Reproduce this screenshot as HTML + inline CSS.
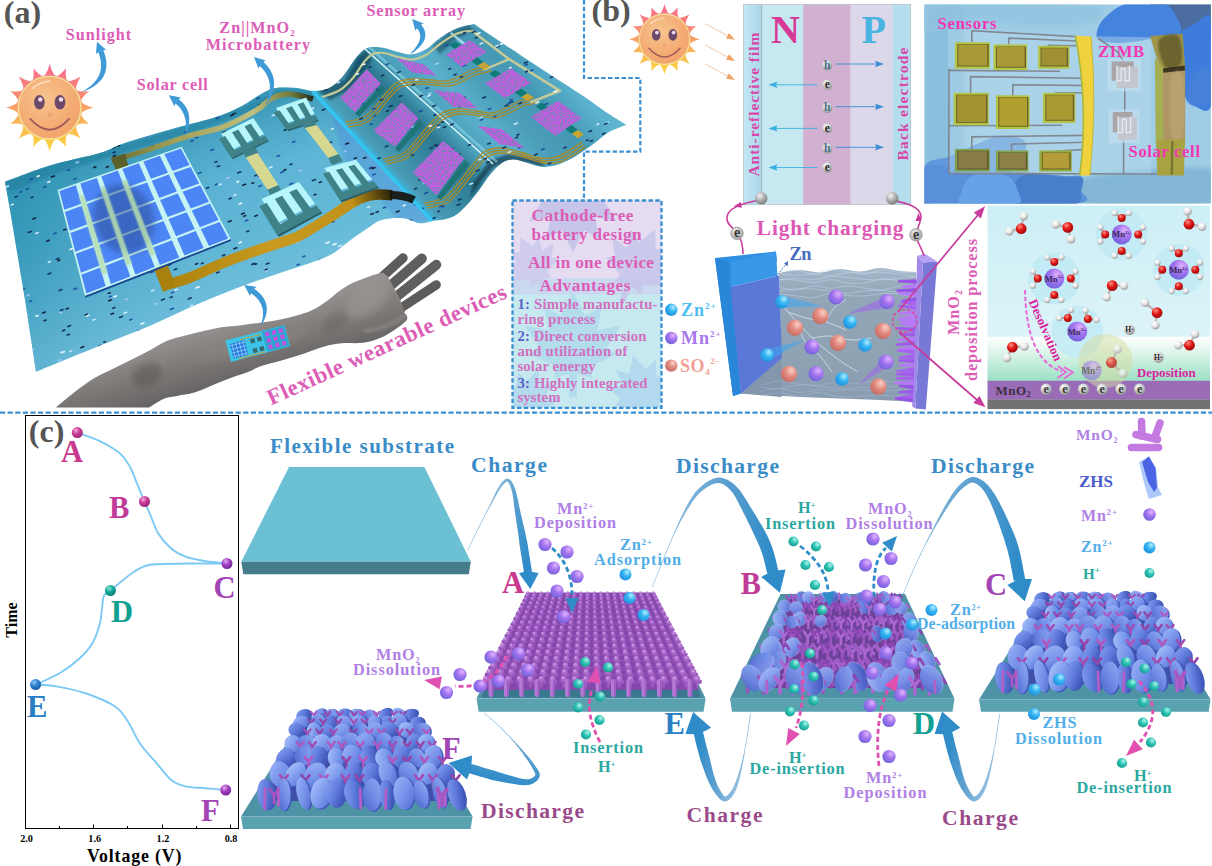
<!DOCTYPE html>
<html lang="en"><head><meta charset="utf-8"><title>Flexible wearable devices figure</title>
<style>
html,body{margin:0;padding:0;background:#fff;}
body{width:1212px;height:866px;overflow:hidden;}
svg{display:block;font-family:"Liberation Serif","DejaVu Serif",serif;font-weight:bold;}
</style></head><body>
<svg width="1212" height="866" viewBox="0 0 1212 866">
<defs>
<radialGradient id="gMn" cx="0.64" cy="0.3" r="0.78"><stop offset="0" stop-color="#e0b4ff"/><stop offset="0.45" stop-color="#a474ee"/><stop offset="1" stop-color="#6a62dc"/></radialGradient>
<radialGradient id="gZn" cx="0.64" cy="0.3" r="0.78"><stop offset="0" stop-color="#b0ecff"/><stop offset="0.45" stop-color="#34b4f2"/><stop offset="1" stop-color="#1c8cdc"/></radialGradient>
<radialGradient id="gH" cx="0.64" cy="0.3" r="0.78"><stop offset="0" stop-color="#b0f4ec"/><stop offset="0.45" stop-color="#30c4b4"/><stop offset="1" stop-color="#12968c"/></radialGradient>
<radialGradient id="gSO" cx="0.64" cy="0.3" r="0.78"><stop offset="0" stop-color="#fad0c8"/><stop offset="0.45" stop-color="#e48c80"/><stop offset="1" stop-color="#c06660"/></radialGradient>
<radialGradient id="gGrey" cx="0.38" cy="0.3" r="0.78"><stop offset="0" stop-color="#ffffff"/><stop offset="0.45" stop-color="#b8b8b8"/><stop offset="1" stop-color="#6a6a6a"/></radialGradient>
<radialGradient id="gMag" cx="0.38" cy="0.3" r="0.78"><stop offset="0" stop-color="#f8a8d8"/><stop offset="0.45" stop-color="#c83a98"/><stop offset="1" stop-color="#902070"/></radialGradient>
<radialGradient id="gPur" cx="0.38" cy="0.3" r="0.78"><stop offset="0" stop-color="#e0a8f0"/><stop offset="0.45" stop-color="#a040c0"/><stop offset="1" stop-color="#702090"/></radialGradient>
<radialGradient id="gTeal" cx="0.38" cy="0.3" r="0.78"><stop offset="0" stop-color="#90e8d8"/><stop offset="0.45" stop-color="#10a898"/><stop offset="1" stop-color="#087870"/></radialGradient>
<radialGradient id="gBlue" cx="0.38" cy="0.3" r="0.78"><stop offset="0" stop-color="#90c8f8"/><stop offset="0.45" stop-color="#2a80d0"/><stop offset="1" stop-color="#1858a0"/></radialGradient>
<radialGradient id="gRed" cx="0.38" cy="0.3" r="0.78"><stop offset="0" stop-color="#ff9080"/><stop offset="0.45" stop-color="#e01818"/><stop offset="1" stop-color="#900808"/></radialGradient>
<radialGradient id="gWhite" cx="0.38" cy="0.3" r="0.78"><stop offset="0" stop-color="#ffffff"/><stop offset="0.45" stop-color="#e8e8e8"/><stop offset="1" stop-color="#909090"/></radialGradient>
<radialGradient id="gGrey2" cx="0.38" cy="0.3" r="0.78"><stop offset="0" stop-color="#ffffff"/><stop offset="0.45" stop-color="#d0d0d0"/><stop offset="1" stop-color="#8a8a8a"/></radialGradient>
<radialGradient id="gGrey3" cx="0.38" cy="0.3" r="0.78"><stop offset="0" stop-color="#f4f4f4"/><stop offset="0.45" stop-color="#b4b4b4"/><stop offset="1" stop-color="#6e6e6e"/></radialGradient>
<radialGradient id="gGrey4" cx="0.38" cy="0.3" r="0.78"><stop offset="0" stop-color="#e8e8e8"/><stop offset="0.45" stop-color="#c4c4c4"/><stop offset="1" stop-color="#a0a0a0"/></radialGradient>
<linearGradient id="gD1" x1="0" y1="0" x2="1" y2="1"><stop offset="0" stop-color="#9cb6f6"/><stop offset="0.55" stop-color="#7692ea"/><stop offset="1" stop-color="#4e68cc"/></linearGradient>
<linearGradient id="gD2" x1="1" y1="0" x2="0" y2="1"><stop offset="0" stop-color="#92acf2"/><stop offset="0.55" stop-color="#6c88e4"/><stop offset="1" stop-color="#4a62c6"/></linearGradient>
<linearGradient id="gD3" x1="0" y1="0.3" x2="1" y2="0.7"><stop offset="0" stop-color="#a4bcf8"/><stop offset="0.55" stop-color="#7e9cee"/><stop offset="1" stop-color="#5c78d8"/></linearGradient>
<linearGradient id="gD4" x1="0" y1="0" x2="1" y2="0.4"><stop offset="0" stop-color="#869ff0"/><stop offset="0.55" stop-color="#627ede"/><stop offset="1" stop-color="#425abc"/></linearGradient>
<linearGradient id="gSheet" gradientUnits="userSpaceOnUse" x1="20" y1="200" x2="330" y2="240"><stop offset="0" stop-color="#3498b8"/><stop offset="0.25" stop-color="#4fa9cb"/><stop offset="0.6" stop-color="#66badb"/><stop offset="1" stop-color="#6cc0e0"/></linearGradient>
<linearGradient id="gSheetV" gradientUnits="userSpaceOnUse" x1="120" y1="130" x2="170" y2="330"><stop offset="0" stop-color="#2a8aa8" stop-opacity="0.75"/><stop offset="0.35" stop-color="#3a9ab8" stop-opacity="0.25"/><stop offset="1" stop-color="#7cc6e0" stop-opacity="0.5"/></linearGradient>
<linearGradient id="gWave" gradientUnits="userSpaceOnUse" x1="372" y1="156" x2="560" y2="-20"><stop offset="0" stop-color="#38b8e0"/><stop offset="0.03" stop-color="#4a9cb6"/><stop offset="0.12" stop-color="#3a8aa4"/><stop offset="0.22" stop-color="#2c7890"/><stop offset="0.30" stop-color="#4aa0ba"/><stop offset="0.40" stop-color="#5ab0cc"/><stop offset="0.52" stop-color="#4a9cb8"/><stop offset="0.62" stop-color="#4598b4"/><stop offset="0.75" stop-color="#5ab2ce"/><stop offset="0.9" stop-color="#66bcd6"/><stop offset="1" stop-color="#58aecc"/></linearGradient>
<linearGradient id="gGold" gradientUnits="userSpaceOnUse" x1="150" y1="280" x2="390" y2="195"><stop offset="0" stop-color="#a8800c"/><stop offset="0.5" stop-color="#c89a20"/><stop offset="0.85" stop-color="#c09018"/><stop offset="1" stop-color="#302808"/></linearGradient>
<linearGradient id="gOlive" gradientUnits="userSpaceOnUse" x1="112" y1="160" x2="315" y2="95"><stop offset="0" stop-color="#6a7030"/><stop offset="0.3" stop-color="#a0a058"/><stop offset="0.7" stop-color="#c0c080"/><stop offset="0.9" stop-color="#707838"/><stop offset="1" stop-color="#182018"/></linearGradient>
<linearGradient id="gArm" gradientUnits="userSpaceOnUse" x1="205" y1="328" x2="222" y2="390"><stop offset="0" stop-color="#959190"/><stop offset="0.45" stop-color="#7e7b79"/><stop offset="1" stop-color="#636160"/></linearGradient>
<pattern id="pSens" width="5" height="5" patternUnits="userSpaceOnUse"><rect width="5" height="5" fill="#c258e0"/><circle cx="1.2" cy="1.3" r="0.9" fill="#7a4aa8"/><circle cx="3.8" cy="3.6" r="0.8" fill="#8a50b8"/><circle cx="3.6" cy="0.9" r="0.6" fill="#e07af0"/><circle cx="1.1" cy="3.9" r="0.6" fill="#5a5a98"/></pattern>
<clipPath id="cpSheet"><path id="sheetL" d="M5.0,181.7C12.5,179.0 34.2,170.3 50.0,165.5C65.8,160.7 87.5,156.8 100.0,153.0C112.5,149.2 112.4,147.2 125.0,143.0C137.6,138.8 160.9,132.2 175.6,128.0C190.3,123.8 202.6,121.3 213.0,118.0C223.4,114.7 229.7,112.2 238.0,108.0C246.3,103.8 256.7,96.3 263.0,93.0C269.3,89.7 270.5,88.8 276.0,88.0C281.5,87.2 289.9,87.5 296.0,88.0C302.1,88.5 309.8,90.8 312.6,91.3 L431.8,220.9L431.8,220.9C429.8,221.3 424.8,223.7 420.0,223.3C415.2,222.9 409.7,218.9 403.3,218.3C396.9,217.8 388.1,218.1 381.7,220.0C375.3,221.9 370.6,226.4 365.0,230.0C359.4,233.6 354.1,237.5 348.3,241.7C342.5,245.9 337.4,251.1 330.0,255.0C322.6,258.9 317.2,260.4 304.0,265.0C290.8,269.6 268.2,276.5 251.0,282.8C233.8,289.1 217.3,295.7 200.6,302.8C183.8,309.9 167.3,318.3 150.5,325.4C133.7,332.5 119.1,337.8 100.0,345.5C80.9,353.2 46.7,367.3 36.0,371.7 L25,300 L10,210 Z"/></clipPath>
<clipPath id="cpSheetR"><path d="M312.6,91.3C315.2,90.8 323.1,90.8 328.0,88.5C332.9,86.2 337.3,82.4 342.0,77.3C346.7,72.2 351.8,62.6 356.0,57.7C360.2,52.8 362.6,49.5 367.3,47.9C372.0,46.3 378.9,47.2 384.0,47.9C389.1,48.6 393.3,50.9 398.0,52.0C402.7,53.1 407.3,54.8 412.0,54.3C416.7,53.8 421.3,52.0 426.0,49.3C430.7,46.6 434.8,41.5 440.0,38.0C445.2,34.5 451.3,30.5 457.0,28.2C462.7,25.9 471.2,24.7 474.0,24.0L474.0,24.0C482.4,29.6 506.6,46.0 524.4,57.7C542.1,69.4 566.5,84.9 580.5,94.2C594.5,103.5 600.9,108.7 608.6,113.8C616.3,118.9 623.5,123.1 626.5,125.0L626.5,125.0C623.6,126.1 614.5,128.9 609.3,131.8C604.1,134.7 600.0,139.2 595.4,142.6C590.8,146.0 586.2,149.3 581.6,152.3C577.0,155.3 572.3,158.3 567.7,160.6C563.1,162.8 558.5,164.8 553.9,165.8C549.3,166.8 544.6,167.2 540.0,166.6C535.4,166.0 530.5,163.7 526.0,162.5C521.5,161.3 517.2,159.4 513.2,159.5C509.2,159.6 505.8,160.5 502.0,162.9C498.2,165.3 494.4,169.7 490.7,174.1C486.9,178.5 483.2,184.6 479.5,189.5C475.8,194.4 472.0,199.5 468.3,203.6C464.6,207.7 460.8,211.6 457.1,214.2C453.4,216.8 450.1,217.9 445.9,219.0C441.7,220.1 434.1,220.6 431.8,220.9 Z"/></clipPath>
<filter id="fSens" x="0" y="0" width="1" height="1"><feTurbulence type="fractalNoise" baseFrequency="0.55" numOctaves="2" seed="3" result="n"/><feColorMatrix in="n" type="matrix" values="0 0 0 0 0.16  0 0 0 0 0.22  0 0 0 0 0.45  3.2 3.2 0 0 -2.9" result="d"/><feComposite in="d" in2="SourceGraphic" operator="atop"/></filter>
<filter id="blurA"><feGaussianBlur stdDeviation="3"/></filter><filter id="blurB"><feGaussianBlur stdDeviation="1.2"/></filter>
<linearGradient id="gFilm" x1="0" x2="1" y1="0" y2="0"><stop offset="0" stop-color="#c4e8f2"/><stop offset="1" stop-color="#a8d8ec"/></linearGradient>
<linearGradient id="gDepo" x1="0" x2="0" y1="0" y2="1"><stop offset="0" stop-color="#ffffff"/><stop offset="0.25" stop-color="#e8f8f0"/><stop offset="1" stop-color="#9adfc4"/></linearGradient>
<linearGradient id="gCyanTop" x1="0" x2="0" y1="0" y2="1"><stop offset="0" stop-color="#cdeff6"/><stop offset="1" stop-color="#dcf4f8"/></linearGradient>
<radialGradient id="gHalo" cx="0.5" cy="0.5" r="0.5"><stop offset="0" stop-color="#b8e8f6"/><stop offset="0.8" stop-color="#c2ecf8"/><stop offset="1" stop-color="#ccf0f8" stop-opacity="0.6"/></radialGradient>
<linearGradient id="gSlab" x1="0" x2="1" y1="0" y2="0"><stop offset="0" stop-color="#2f8ee0"/><stop offset="1" stop-color="#4aa0e8"/></linearGradient>
<linearGradient id="gElec" x1="0" x2="0" y1="0" y2="1"><stop offset="0" stop-color="#a4b6c8"/><stop offset="0.2" stop-color="#92a6b8"/><stop offset="0.7" stop-color="#8ea2b4"/><stop offset="1" stop-color="#8a9cb0"/></linearGradient>
<linearGradient id="gPhoto" x1="0" x2="1" y1="0" y2="1"><stop offset="0" stop-color="#8ec0de"/><stop offset="0.5" stop-color="#a2cee6"/><stop offset="1" stop-color="#7fb6d6"/></linearGradient>
<radialGradient id="gGlove1" cx="0.6" cy="0.3" r="0.8"><stop offset="0" stop-color="#6aa0e4"/><stop offset="1" stop-color="#4a84d4"/></radialGradient>
<radialGradient id="gGlove2" cx="0.3" cy="0.7" r="0.9"><stop offset="0" stop-color="#4a88e0"/><stop offset="0.6" stop-color="#3e74c8"/><stop offset="1" stop-color="#4a6490"/></radialGradient>
<clipPath id="cpPhoto"><rect x="924.4" y="4.4" width="286.5" height="199"/></clipPath>
<clipPath id="cpDepo"><rect x="987.5" y="205.5" width="222.5" height="203.5"/></clipPath>
<clipPath id="cpAdv"><rect x="513" y="201" width="148" height="206"/></clipPath>
<filter id="blur1"><feGaussianBlur stdDeviation="1"/></filter><filter id="blur2"><feGaussianBlur stdDeviation="2.2"/></filter><filter id="blur05"><feGaussianBlur stdDeviation="0.6"/></filter>
</defs>
<rect width="1212" height="866" fill="#fff"/>
<line x1="0" y1="412.6" x2="1212" y2="412.6" stroke="#3a8fd2" stroke-width="2.4" stroke-dasharray="5.2 2.4"/>
<path d="M312.6,91.3C315.2,90.8 323.1,90.8 328.0,88.5C332.9,86.2 337.3,82.4 342.0,77.3C346.7,72.2 351.8,62.6 356.0,57.7C360.2,52.8 362.6,49.5 367.3,47.9C372.0,46.3 378.9,47.2 384.0,47.9C389.1,48.6 393.3,50.9 398.0,52.0C402.7,53.1 407.3,54.8 412.0,54.3C416.7,53.8 421.3,52.0 426.0,49.3C430.7,46.6 434.8,41.5 440.0,38.0C445.2,34.5 451.3,30.5 457.0,28.2C462.7,25.9 471.2,24.7 474.0,24.0L474.0,24.0C482.4,29.6 506.6,46.0 524.4,57.7C542.1,69.4 566.5,84.9 580.5,94.2C594.5,103.5 600.9,108.7 608.6,113.8C616.3,118.9 623.5,123.1 626.5,125.0L626.5,125.0C623.6,126.1 614.5,128.9 609.3,131.8C604.1,134.7 600.0,139.2 595.4,142.6C590.8,146.0 586.2,149.3 581.6,152.3C577.0,155.3 572.3,158.3 567.7,160.6C563.1,162.8 558.5,164.8 553.9,165.8C549.3,166.8 544.6,167.2 540.0,166.6C535.4,166.0 530.5,163.7 526.0,162.5C521.5,161.3 517.2,159.4 513.2,159.5C509.2,159.6 505.8,160.5 502.0,162.9C498.2,165.3 494.4,169.7 490.7,174.1C486.9,178.5 483.2,184.6 479.5,189.5C475.8,194.4 472.0,199.5 468.3,203.6C464.6,207.7 460.8,211.6 457.1,214.2C453.4,216.8 450.1,217.9 445.9,219.0C441.7,220.1 434.1,220.6 431.8,220.9 Z" fill="url(#gWave)"/>
<path d="M5.0,181.7C12.5,179.0 34.2,170.3 50.0,165.5C65.8,160.7 87.5,156.8 100.0,153.0C112.5,149.2 112.4,147.2 125.0,143.0C137.6,138.8 160.9,132.2 175.6,128.0C190.3,123.8 202.6,121.3 213.0,118.0C223.4,114.7 229.7,112.2 238.0,108.0C246.3,103.8 256.7,96.3 263.0,93.0C269.3,89.7 270.5,88.8 276.0,88.0C281.5,87.2 289.9,87.5 296.0,88.0C302.1,88.5 309.8,90.8 312.6,91.3 L431.8,220.9L431.8,220.9C429.8,221.3 424.8,223.7 420.0,223.3C415.2,222.9 409.7,218.9 403.3,218.3C396.9,217.8 388.1,218.1 381.7,220.0C375.3,221.9 370.6,226.4 365.0,230.0C359.4,233.6 354.1,237.5 348.3,241.7C342.5,245.9 337.4,251.1 330.0,255.0C322.6,258.9 317.2,260.4 304.0,265.0C290.8,269.6 268.2,276.5 251.0,282.8C233.8,289.1 217.3,295.7 200.6,302.8C183.8,309.9 167.3,318.3 150.5,325.4C133.7,332.5 119.1,337.8 100.0,345.5C80.9,353.2 46.7,367.3 36.0,371.7 L25,300 L10,210 Z" fill="url(#gSheet)"/>
<path d="M5.0,181.7C12.5,179.0 34.2,170.3 50.0,165.5C65.8,160.7 87.5,156.8 100.0,153.0C112.5,149.2 112.4,147.2 125.0,143.0C137.6,138.8 160.9,132.2 175.6,128.0C190.3,123.8 202.6,121.3 213.0,118.0C223.4,114.7 229.7,112.2 238.0,108.0C246.3,103.8 256.7,96.3 263.0,93.0C269.3,89.7 270.5,88.8 276.0,88.0C281.5,87.2 289.9,87.5 296.0,88.0C302.1,88.5 309.8,90.8 312.6,91.3 L431.8,220.9L431.8,220.9C429.8,221.3 424.8,223.7 420.0,223.3C415.2,222.9 409.7,218.9 403.3,218.3C396.9,217.8 388.1,218.1 381.7,220.0C375.3,221.9 370.6,226.4 365.0,230.0C359.4,233.6 354.1,237.5 348.3,241.7C342.5,245.9 337.4,251.1 330.0,255.0C322.6,258.9 317.2,260.4 304.0,265.0C290.8,269.6 268.2,276.5 251.0,282.8C233.8,289.1 217.3,295.7 200.6,302.8C183.8,309.9 167.3,318.3 150.5,325.4C133.7,332.5 119.1,337.8 100.0,345.5C80.9,353.2 46.7,367.3 36.0,371.7 L25,300 L10,210 Z" fill="url(#gSheetV)"/>
<g clip-path="url(#cpSheet)"><path d="M330,110 L433,222 L400,222 L345,160 Z" fill="#4a7ae0" opacity="0.28" filter="url(#blurB)"/><path d="M5,182 L60,162 L120,146 L200,122 L250,104 L280,90 L313,91 L316,96 L280,97 L250,112 L200,130 L120,154 L60,172 L10,192 Z" fill="#1c7a98" opacity="0.5" filter="url(#blurB)"/></g>
<g clip-path="url(#cpSheetR)"><path d="M318,92 L345,80 L358,58 L366,50 L372,60 L352,88 L330,100 Z" fill="#0c3848" opacity="0.55" filter="url(#blurB)"/><path d="M433,46 L452,31 L468,25 L474,30 L455,40 L440,54 Z" fill="#0c3848" opacity="0.45" filter="url(#blurB)"/><path d="M470,197 L482,180 L494,167 L508,161 L524,162 L545,167 L540,160 L508,154 L490,160 L474,182 Z" fill="#0a2838" opacity="0.6" filter="url(#blurB)"/><line x1="365" y1="49" x2="493" y2="164" stroke="#eaffff" stroke-width="1.5" opacity="0.95"/><line x1="369" y1="47" x2="497" y2="162" stroke="#9adcec" stroke-width="3" opacity="0.5"/><line x1="451" y1="33" x2="468" y2="47" stroke="#c8f8ff" stroke-width="2.5" opacity="0.7"/><line x1="395" y1="185" x2="416" y2="205" stroke="#fff" stroke-width="2" opacity="0.9"/><path d="M345.0,122.0C347.8,121.3 357.2,120.3 362.0,118.0C366.8,115.7 370.0,112.2 374.0,108.0C378.0,103.8 382.0,97.3 386.0,93.0C390.0,88.7 393.3,84.3 398.0,82.0C402.7,79.7 408.3,79.3 414.0,79.0C419.7,78.7 426.7,79.7 432.0,80.0C437.3,80.3 441.7,81.5 446.0,81.0C450.3,80.5 453.7,78.8 458.0,77.0C462.3,75.2 467.0,71.8 472.0,70.0C477.0,68.2 485.3,66.7 488.0,66.0" fill="none" stroke="#a88c28" stroke-width="1.3"/><path d="M346.7,124.5C349.5,123.8 358.9,122.8 363.7,120.5C368.5,118.2 371.7,114.7 375.7,110.5C379.7,106.3 383.7,99.8 387.7,95.5C391.7,91.2 395.0,86.8 399.7,84.5C404.4,82.2 410.0,81.8 415.7,81.5C421.4,81.2 428.4,82.2 433.7,82.5C439.0,82.8 443.4,84.0 447.7,83.5C452.0,83.0 455.4,81.3 459.7,79.5C464.0,77.7 468.7,74.3 473.7,72.5C478.7,70.7 487.0,69.2 489.7,68.5" fill="none" stroke="#a88c28" stroke-width="1.3"/><path d="M348.4,127.0C351.2,126.3 360.6,125.3 365.4,123.0C370.2,120.7 373.4,117.2 377.4,113.0C381.4,108.8 385.4,102.3 389.4,98.0C393.4,93.7 396.7,89.3 401.4,87.0C406.1,84.7 411.7,84.3 417.4,84.0C423.1,83.7 430.1,84.7 435.4,85.0C440.7,85.3 445.1,86.5 449.4,86.0C453.7,85.5 457.1,83.8 461.4,82.0C465.7,80.2 470.4,76.8 475.4,75.0C480.4,73.2 488.7,71.7 491.4,71.0" fill="none" stroke="#a88c28" stroke-width="1.3"/><path d="M383.0,159.0C386.2,158.2 396.8,156.7 402.0,154.0C407.2,151.3 409.7,147.7 414.0,143.0C418.3,138.3 423.3,131.0 428.0,126.0C432.7,121.0 437.0,115.8 442.0,113.0C447.0,110.2 452.3,109.3 458.0,109.0C463.7,108.7 470.3,110.3 476.0,111.0C481.7,111.7 487.0,113.5 492.0,113.0C497.0,112.5 501.3,110.0 506.0,108.0C510.7,106.0 515.3,102.7 520.0,101.0C524.7,99.3 531.7,98.5 534.0,98.0" fill="none" stroke="#a88c28" stroke-width="1.3"/><path d="M384.7,161.5C387.9,160.7 398.5,159.2 403.7,156.5C408.9,153.8 411.4,150.2 415.7,145.5C420.0,140.8 425.0,133.5 429.7,128.5C434.4,123.5 438.7,118.3 443.7,115.5C448.7,112.7 454.0,111.8 459.7,111.5C465.4,111.2 472.0,112.8 477.7,113.5C483.4,114.2 488.7,116.0 493.7,115.5C498.7,115.0 503.0,112.5 507.7,110.5C512.4,108.5 517.0,105.2 521.7,103.5C526.4,101.8 533.4,101.0 535.7,100.5" fill="none" stroke="#a88c28" stroke-width="1.3"/><path d="M386.4,164.0C389.6,163.2 400.2,161.7 405.4,159.0C410.6,156.3 413.1,152.7 417.4,148.0C421.7,143.3 426.7,136.0 431.4,131.0C436.1,126.0 440.4,120.8 445.4,118.0C450.4,115.2 455.7,114.3 461.4,114.0C467.1,113.7 473.7,115.3 479.4,116.0C485.1,116.7 490.4,118.5 495.4,118.0C500.4,117.5 504.7,115.0 509.4,113.0C514.1,111.0 518.7,107.7 523.4,106.0C528.1,104.3 535.1,103.5 537.4,103.0" fill="none" stroke="#a88c28" stroke-width="1.3"/><path d="M424.0,203.0C427.3,202.2 438.7,200.8 444.0,198.0C449.3,195.2 451.7,191.0 456.0,186.0C460.3,181.0 465.3,173.7 470.0,168.0C474.7,162.3 479.0,155.3 484.0,152.0C489.0,148.7 494.0,148.0 500.0,148.0C506.0,148.0 513.3,150.3 520.0,152.0C526.7,153.7 534.0,157.2 540.0,158.0C546.0,158.8 551.0,158.3 556.0,157.0C561.0,155.7 565.7,152.5 570.0,150.0C574.3,147.5 580.0,143.3 582.0,142.0" fill="none" stroke="#a88c28" stroke-width="1.3"/><path d="M425.7,205.5C429.0,204.7 440.4,203.3 445.7,200.5C451.0,197.7 453.4,193.5 457.7,188.5C462.0,183.5 467.0,176.2 471.7,170.5C476.4,164.8 480.7,157.8 485.7,154.5C490.7,151.2 495.7,150.5 501.7,150.5C507.7,150.5 515.0,152.8 521.7,154.5C528.4,156.2 535.7,159.7 541.7,160.5C547.7,161.3 552.7,160.8 557.7,159.5C562.7,158.2 567.4,155.0 571.7,152.5C576.0,150.0 581.7,145.8 583.7,144.5" fill="none" stroke="#a88c28" stroke-width="1.3"/><path d="M427.4,208.0C430.7,207.2 442.1,205.8 447.4,203.0C452.7,200.2 455.1,196.0 459.4,191.0C463.7,186.0 468.7,178.7 473.4,173.0C478.1,167.3 482.4,160.3 487.4,157.0C492.4,153.7 497.4,153.0 503.4,153.0C509.4,153.0 516.7,155.3 523.4,157.0C530.1,158.7 537.4,162.2 543.4,163.0C549.4,163.8 554.4,163.3 559.4,162.0C564.4,160.7 569.1,157.5 573.4,155.0C577.7,152.5 583.4,148.3 585.4,147.0" fill="none" stroke="#a88c28" stroke-width="1.3"/><path d="M322.0,97.0C325.0,95.8 334.8,93.2 340.0,90.0C345.2,86.8 349.0,82.7 353.0,78.0C357.0,73.3 360.7,66.0 364.0,62.0C367.3,58.0 369.7,55.5 373.0,54.0C376.3,52.5 379.8,52.5 384.0,53.0C388.2,53.5 393.3,55.9 398.0,57.0C402.7,58.1 407.3,59.8 412.0,59.5C416.7,59.2 421.3,57.6 426.0,55.0C430.7,52.4 435.0,47.5 440.0,44.0C445.0,40.5 450.7,36.2 456.0,34.0C461.3,31.8 469.1,31.3 471.7,30.8" fill="none" stroke="#c2ca98" stroke-width="2.2"/><path d="M471.7,30.8 L509.2,59.2 L560,90.8 L530,102.5" fill="none" stroke="#c2ca98" stroke-width="2.6" stroke-linejoin="round"/><path d="M509.2,59.2 L483.3,70" fill="none" stroke="#c2ca98" stroke-width="2.4"/></g>
<g clip-path="url(#cpSheet)" fill="none" stroke-width="1.6" stroke-linecap="round" opacity="0.9"><path d="M62.8,330.8l1.8,-0.7M18.2,92.4l2.6,-1.0M421.7,295.5l2.9,-1.1M242.7,185.3l2.9,-1.1M396.4,140.1l2.8,-1.1M283.7,170.4l2.3,-0.9M425.1,267.9l1.9,-0.7M283.9,199.5l2.5,-1.0M136.7,334.0l2.6,-1.0M221.8,90.0l2.9,-1.1M150.8,146.8l2.9,-1.1M152.9,340.9l2.7,-1.0M336.2,178.0l2.8,-1.1M342.8,255.2l1.8,-0.7M108.8,300.8l2.7,-1.0M403.0,295.7l2.0,-0.8M110.9,108.6l1.7,-0.7M252.0,183.3l1.7,-0.6M85.3,314.9l1.9,-0.7M318.5,91.2l2.3,-0.9M375.9,129.7l1.7,-0.6M325.9,285.0l2.4,-0.9M197.1,209.7l2.8,-1.1M199.9,199.8l2.3,-0.9M157.6,125.1l3.0,-1.1M404.9,270.3l2.3,-0.9M345.8,144.1l2.8,-1.1M58.0,260.8l1.8,-0.7M432.6,237.0l2.5,-0.9M402.5,366.7l2.2,-0.8M396.3,212.1l2.9,-1.1M93.8,167.6l2.0,-0.8M63.7,230.1l2.2,-0.8M355.6,260.6l2.7,-1.0M181.8,283.7l2.8,-1.1M259.0,105.2l1.6,-0.6M223.1,359.4l2.5,-0.9M206.2,246.7l2.5,-1.0M173.8,200.9l2.8,-1.1M339.7,344.2l2.7,-1.0M108.4,293.3l1.7,-0.6M106.4,167.3l1.9,-0.7M381.8,242.3l1.8,-0.7M86.7,229.9l2.6,-1.0M44.2,320.8l1.7,-0.7M121.1,157.5l1.6,-0.6M110.5,246.6l2.3,-0.9M91.0,197.9l2.1,-0.8M113.3,156.2l2.1,-0.8M410.2,271.6l2.4,-0.9M151.4,232.2l2.6,-1.0M247.0,348.0l2.9,-1.1M254.9,216.2l2.4,-0.9M187.4,276.8l2.2,-0.8M368.9,196.2l2.5,-0.9M225.9,299.5l2.1,-0.8M421.9,114.9l2.8,-1.1M268.9,288.7l2.2,-0.8M386.8,372.7l2.5,-0.9M331.7,329.3l2.0,-0.8M110.9,128.0l2.4,-0.9M411.7,163.3l2.0,-0.8M97.2,191.6l1.8,-0.7M331.3,299.4l2.3,-0.9M430.2,146.8l2.1,-0.8M314.1,195.0l1.8,-0.7M26.4,94.0l2.1,-0.8M314.6,285.5l2.0,-0.8M345.1,295.0l2.2,-0.8M406.6,172.3l2.4,-0.9M349.4,307.5l1.8,-0.7M183.4,189.0l2.2,-0.8M230.6,115.7l2.2,-0.8M431.4,242.8l2.9,-1.1M260.8,371.0l2.7,-1.0M175.1,197.8l2.1,-0.8M319.3,182.5l2.0,-0.7M65.0,143.7l2.1,-0.8M365.6,150.3l2.3,-0.9M195.7,264.3l1.8,-0.7M397.2,370.9l2.5,-1.0M57.0,143.4l2.5,-1.0M11.8,303.6l2.8,-1.0M433.7,104.1l2.2,-0.8M232.7,114.3l2.7,-1.0M51.4,177.0l3.0,-1.1M111.1,314.2l2.4,-0.9M118.0,146.1l1.7,-0.6M232.1,145.7l2.3,-0.9M372.7,259.0l2.4,-0.9M351.5,261.1l1.6,-0.6M330.7,311.8l1.9,-0.7M340.9,170.3l1.9,-0.7M168.1,265.3l2.6,-1.0M383.0,85.4l2.2,-0.8M282.7,320.0l1.6,-0.6M243.8,216.3l1.8,-0.7M80.9,347.7l2.8,-1.1M42.6,313.0l2.6,-1.0M354.4,158.6l1.8,-0.7M198.4,116.2l1.7,-0.6M284.3,298.3l2.8,-1.1M341.2,266.8l2.5,-1.0M178.3,189.3l2.6,-1.0M7.9,113.2l2.3,-0.9M66.2,309.0l2.1,-0.8M363.7,158.2l2.2,-0.8M87.7,369.9l3.0,-1.1M228.3,221.8l2.9,-1.1M249.0,366.3l2.3,-0.9M252.7,341.5l2.5,-1.0M137.5,245.8l2.3,-0.9M138.8,235.8l2.4,-0.9M88.4,367.9l2.0,-0.8M241.5,214.2l2.8,-1.1M48.7,100.6l2.3,-0.9M223.2,132.6l2.8,-1.1M268.8,333.3l1.8,-0.7M284.3,130.2l1.7,-0.6M70.2,193.6l2.2,-0.8M151.6,253.6l2.1,-0.8M91.1,257.4l2.9,-1.1M372.0,168.7l3.0,-1.1M358.8,177.9l1.7,-0.7M345.1,322.2l1.8,-0.7M234.1,248.8l2.6,-1.0M347.8,294.5l2.7,-1.0M285.3,278.4l2.5,-1.0M357.8,237.9l2.2,-0.8M374.7,286.6l2.7,-1.0M46.7,241.2l2.5,-1.0M124.0,264.9l2.9,-1.1M120.6,135.4l2.0,-0.8M358.2,118.6l2.7,-1.0M370.9,214.3l2.4,-0.9M58.8,368.1l2.5,-0.9M32.9,219.0l2.6,-1.0M265.3,269.9l1.7,-0.7M335.2,94.9l2.9,-1.1M404.8,262.5l2.7,-1.0M168.6,95.2l2.3,-0.9M410.7,247.8l2.9,-1.1" stroke="#101830"/><path d="M332.2,222.0l1.7,-0.7M17.2,327.4l2.6,-1.0M119.5,317.5l2.9,-1.1M222.3,255.8l2.6,-1.0M322.4,110.1l2.7,-1.0M229.0,199.0l2.3,-0.9M60.6,310.4l2.3,-0.9M129.8,133.6l2.5,-1.0M15.2,197.1l2.0,-0.7M424.5,150.4l2.6,-1.0M188.3,298.9l2.8,-1.1M184.0,158.2l2.4,-0.9M234.0,103.9l1.8,-0.7M114.8,183.3l2.8,-1.1M119.7,343.3l2.2,-0.9M48.1,274.1l2.7,-1.0M206.6,188.2l2.0,-0.8M413.2,135.2l2.8,-1.0M25.9,335.0l2.6,-1.0M124.1,248.6l1.9,-0.7M112.8,148.1l2.3,-0.9M174.3,269.7l2.4,-0.9M270.3,365.4l2.2,-0.8M56.3,259.2l2.5,-1.0M124.4,194.9l2.3,-0.9M330.7,326.4l2.4,-0.9M296.2,305.0l2.2,-0.8M216.7,272.8l2.4,-0.9M325.2,371.4l2.2,-0.8M123.6,173.3l2.8,-1.1M290.1,164.6l1.7,-0.7M176.9,228.6l3.0,-1.1M312.4,180.7l3.0,-1.1M369.6,168.3l2.8,-1.1M267.6,367.0l3.0,-1.1M170.2,297.5l2.0,-0.7M168.5,119.0l2.2,-0.8M173.2,344.8l2.5,-1.0M161.6,300.1l2.9,-1.1M372.7,315.3l2.3,-0.9M127.0,343.5l2.2,-0.8M355.0,374.5l1.6,-0.6M384.6,315.9l2.1,-0.8M407.7,344.6l2.9,-1.1M371.5,307.9l2.3,-0.9M49.4,130.2l2.2,-0.8M26.9,148.3l2.9,-1.1M323.7,373.6l2.3,-0.9M60.0,125.6l2.5,-0.9M361.5,99.5l1.9,-0.7M112.9,308.3l2.1,-0.8M44.5,374.6l2.0,-0.8M28.2,232.5l2.9,-1.1M59.2,290.6l2.5,-1.0M254.8,264.5l1.8,-0.7M370.1,195.7l3.0,-1.1M326.2,358.3l2.7,-1.0M5.3,97.2l2.3,-0.9M287.7,373.8l2.5,-0.9M305.7,269.1l2.1,-0.8M215.0,162.3l2.1,-0.8M51.9,92.6l2.2,-0.9M106.3,96.7l2.6,-1.0M302.0,274.5l2.2,-0.8M204.9,249.4l2.4,-0.9M170.2,249.0l2.9,-1.1M261.7,280.1l2.8,-1.1M239.3,151.9l2.5,-1.0M186.1,163.9l1.9,-0.7M105.1,276.0l2.1,-0.8M27.3,97.8l2.8,-1.1M408.6,221.1l3.0,-1.1M434.5,314.4l1.7,-0.6M371.3,261.6l2.7,-1.0M251.7,264.4l2.9,-1.1M195.2,190.5l3.0,-1.1M290.4,338.1l1.9,-0.7M103.9,342.3l1.6,-0.6M67.3,335.1l2.1,-0.8M167.9,179.1l1.9,-0.7M266.4,264.1l2.6,-1.0M294.1,207.7l1.7,-0.6M8.9,241.0l2.5,-0.9M113.1,152.7l1.9,-0.7M246.9,231.6l1.9,-0.7M67.9,326.6l2.6,-1.0M418.6,101.9l2.7,-1.0M169.5,281.9l2.8,-1.1M156.3,199.9l2.1,-0.8M69.3,217.7l1.8,-0.7M376.0,212.4l2.3,-0.9M157.9,210.6l1.9,-0.7M252.3,328.0l1.9,-0.7M10.2,132.1l2.2,-0.8M217.5,166.6l2.1,-0.8M346.9,248.3l2.1,-0.8M158.5,131.8l2.9,-1.1M343.6,166.9l2.7,-1.0M422.6,262.2l2.8,-1.1M254.9,175.8l1.7,-0.7M82.3,129.5l2.4,-0.9M124.2,357.0l3.0,-1.1M141.4,124.8l1.9,-0.7M232.5,342.3l2.6,-1.0M89.1,127.0l2.5,-1.0M201.4,263.8l1.8,-0.7M161.5,102.4l2.5,-0.9M128.9,222.0l2.7,-1.0M363.0,177.0l2.4,-0.9M377.4,192.1l2.8,-1.1M89.2,285.0l2.3,-0.9M328.4,149.0l2.3,-0.9M237.7,172.9l3.0,-1.1M220.8,91.3l2.6,-1.0M328.8,143.2l2.8,-1.1M183.3,357.8l3.0,-1.1M197.0,321.1l2.6,-1.0M15.5,152.2l2.8,-1.1M306.5,211.5l1.9,-0.7M365.0,91.9l2.2,-0.8M31.1,197.7l1.9,-0.7M121.7,257.7l2.1,-0.8M392.9,92.1l2.7,-1.0" stroke="#0a2a5a"/><path d="M403.4,205.7l1.7,-0.7M342.0,322.9l2.3,-0.9M147.4,259.0l1.8,-0.7M114.0,296.7l2.2,-0.8M97.5,264.2l2.8,-1.1M326.3,243.1l3.0,-1.1M188.1,202.5l3.0,-1.1M120.7,106.7l2.5,-1.0M146.7,149.5l1.9,-0.7M307.7,321.3l2.2,-0.8M252.2,97.6l2.3,-0.9M271.5,320.4l2.0,-0.7M429.8,86.9l2.6,-1.0M346.1,333.8l2.5,-1.0M353.4,349.8l2.1,-0.8M214.0,87.5l2.1,-0.8M239.0,243.0l2.3,-0.9M8.5,361.2l1.8,-0.7M333.2,244.8l2.9,-1.1M47.9,182.3l1.9,-0.7M277.5,298.5l2.6,-1.0M278.7,372.7l1.8,-0.7M70.1,249.4l2.5,-0.9M364.3,199.9l2.8,-1.1M237.0,182.0l1.6,-0.6M37.3,176.5l1.8,-0.7M269.2,187.9l1.6,-0.6M161.3,226.3l2.5,-0.9M196.0,287.9l3.0,-1.1M40.1,119.8l1.7,-0.6M36.1,316.3l2.0,-0.8M85.3,240.0l2.9,-1.1M84.4,193.9l2.6,-1.0M392.5,241.4l2.7,-1.0M141.0,324.0l2.9,-1.1M147.7,214.2l2.3,-0.9M239.3,203.9l2.1,-0.8" stroke="#ffffff"/><path d="M275.6,294.9l2.1,-0.8M178.8,277.8l2.7,-1.0M137.7,331.0l2.2,-0.8M374.9,152.3l2.1,-0.8M396.2,276.2l1.6,-0.6M158.4,185.4l2.7,-1.0M329.9,157.4l1.9,-0.7M73.9,289.3l2.8,-1.1M98.6,346.2l2.5,-0.9M21.1,143.1l2.5,-1.0M191.2,141.3l2.1,-0.8M12.8,143.2l2.7,-1.0M396.7,146.8l2.3,-0.9M343.9,325.3l2.4,-0.9M403.3,107.2l1.7,-0.7M238.5,322.3l2.3,-0.9M13.8,155.7l2.8,-1.1M142.5,116.0l2.0,-0.8M358.0,265.8l2.8,-1.1M8.2,238.3l2.9,-1.1M210.9,150.3l2.5,-0.9M164.8,288.4l1.7,-0.7M216.0,333.2l2.8,-1.1M198.3,173.4l2.6,-1.0M432.8,269.3l2.8,-1.0M224.7,371.2l2.2,-0.8M292.6,142.2l2.1,-0.8M305.8,365.6l1.9,-0.7M420.8,169.4l2.5,-0.9M213.4,220.5l1.7,-0.7M311.8,321.4l2.6,-1.0M319.9,337.6l2.9,-1.1M318.1,260.8l1.8,-0.7M353.1,91.8l1.6,-0.6M368.6,277.3l2.0,-0.8M116.7,269.3l2.9,-1.1M258.9,186.4l2.5,-0.9M421.7,347.5l1.9,-0.7M383.4,208.0l2.0,-0.8M139.5,121.7l1.8,-0.7M197.9,371.5l2.6,-1.0M184.6,177.5l2.6,-1.0M220.5,237.6l2.1,-0.8M349.6,124.0l2.8,-1.1M51.0,160.9l2.5,-0.9M7.4,119.8l2.0,-0.8M241.5,368.2l1.6,-0.6M316.1,327.0l2.9,-1.1M377.6,120.9l2.3,-0.9M385.6,290.6l2.2,-0.8M262.4,363.4l2.3,-0.9M30.0,179.5l2.7,-1.0M297.0,265.0l2.2,-0.8M123.0,90.8l2.0,-0.7M67.4,170.6l2.4,-0.9M203.7,113.8l2.6,-1.0M22.4,289.2l2.1,-0.8M53.8,233.8l2.3,-0.9M296.0,300.5l2.7,-1.0M316.0,141.2l1.8,-0.7M289.8,184.3l2.9,-1.1M417.9,135.9l1.9,-0.7M14.0,334.2l2.2,-0.8M102.1,105.4l1.9,-0.7M189.6,337.9l2.2,-0.9M29.7,301.4l1.8,-0.7M130.5,234.1l2.2,-0.9M129.8,320.0l2.1,-0.8M277.4,156.3l2.2,-0.8M227.5,321.0l1.6,-0.6M261.0,140.1l2.1,-0.8M258.1,177.0l2.4,-0.9M19.8,192.3l1.7,-0.7M74.1,179.3l1.8,-0.7M414.5,205.0l2.6,-1.0M184.5,132.5l2.4,-0.9M257.6,367.4l2.0,-0.7M427.1,94.4l1.7,-0.6M144.7,358.9l1.9,-0.7M290.8,361.1l2.4,-0.9M150.7,272.6l2.7,-1.0M414.4,326.3l2.9,-1.1M342.5,87.4l1.7,-0.6M418.8,288.2l2.6,-1.0M280.5,172.7l3.0,-1.1M381.0,233.8l1.8,-0.7M138.6,110.1l1.9,-0.7M342.3,100.7l2.3,-0.9M245.4,221.0l2.4,-0.9M290.8,119.6l2.6,-1.0M231.7,337.6l2.0,-0.7M88.8,186.5l2.8,-1.1M215.4,184.7l1.8,-0.7M135.0,172.6l2.6,-1.0M373.0,174.8l2.1,-0.8M119.6,132.1l2.3,-0.9M26.2,189.5l2.6,-1.0M95.9,213.0l2.1,-0.8M155.3,226.6l2.6,-1.0M248.9,374.1l1.7,-0.7M150.3,331.8l2.5,-1.0M403.7,148.0l2.6,-1.0M156.2,200.1l2.6,-1.0M109.4,296.8l1.7,-0.6M316.5,325.9l2.4,-0.9M64.5,134.1l2.5,-0.9M151.4,208.4l2.6,-1.0M93.8,109.7l2.1,-0.8M195.7,137.8l1.7,-0.6M171.6,292.9l2.0,-0.8M170.4,309.4l2.9,-1.1M192.9,242.2l2.3,-0.9M74.0,365.8l2.3,-0.9M190.5,331.4l2.6,-1.0M303.0,256.8l1.7,-0.7M405.9,196.3l2.9,-1.1M256.5,98.7l2.9,-1.1M426.2,256.0l2.4,-0.9M396.8,153.0l1.7,-0.6M189.5,171.5l2.4,-0.9M291.6,205.0l2.2,-0.8M28.9,118.7l2.3,-0.9M43.6,187.3l2.2,-0.8M118.9,355.6l3.0,-1.1M426.2,236.1l2.6,-1.0M216.4,118.6l2.5,-1.0M260.7,344.2l3.0,-1.1" stroke="#1848a0"/><path d="M315.2,291.2l2.3,-0.9M161.8,245.8l2.3,-0.9M256.3,334.7l1.6,-0.6M410.7,105.4l1.6,-0.6M32.1,349.9l1.8,-0.7M289.2,332.0l2.0,-0.8M24.9,316.3l2.8,-1.1M235.3,345.1l2.6,-1.0M145.9,105.0l2.2,-0.8M190.8,256.2l2.6,-1.0M295.5,242.9l2.6,-1.0M338.9,272.1l2.3,-0.9M238.1,322.4l2.4,-0.9M67.2,128.0l2.1,-0.8M59.7,313.0l2.0,-0.7M398.0,147.5l2.6,-1.0M90.7,249.6l2.1,-0.8M101.5,282.4l2.0,-0.8M226.6,178.3l2.9,-1.1M262.4,207.5l2.2,-0.8M95.0,268.2l2.6,-1.0M401.2,230.8l2.7,-1.0M282.8,199.4l2.9,-1.1M89.4,101.0l2.9,-1.1M299.3,171.1l2.5,-0.9M76.1,162.8l2.4,-0.9M353.6,333.8l2.9,-1.1M78.5,127.5l2.4,-0.9M265.4,271.6l2.2,-0.8M422.8,182.2l2.2,-0.9M348.3,103.1l2.1,-0.8M387.6,245.1l2.3,-0.9M27.2,295.5l1.9,-0.7M282.3,243.5l2.7,-1.0M270.8,212.5l2.1,-0.8M155.0,304.3l1.9,-0.7M331.7,180.2l2.1,-0.8M125.4,299.7l2.3,-0.9M58.6,360.7l1.8,-0.7M378.8,309.6l2.3,-0.9M258.7,178.1l2.7,-1.0M344.3,151.5l1.7,-0.6" stroke="#a8c8ff"/><path d="M78.3,230.6l2.4,-0.9M264.7,361.7l2.4,-0.9M124.2,313.2l2.5,-0.9M11.3,204.9l1.9,-0.7M48.4,262.3l1.9,-0.7M389.3,126.1l2.7,-1.0M346.0,355.5l1.7,-0.6M318.1,274.5l1.7,-0.6M35.8,233.4l2.3,-0.9M120.0,349.7l3.0,-1.1M254.0,93.9l2.8,-1.1M93.1,320.1l1.8,-0.7M277.5,356.8l2.7,-1.0M190.7,305.9l1.7,-0.6M102.9,178.2l1.7,-0.6M331.2,129.2l2.1,-0.8M204.0,328.6l2.4,-0.9M230.7,122.4l2.2,-0.8M69.9,351.4l1.7,-0.6M174.9,290.2l2.6,-1.0M233.8,195.4l2.2,-0.8M44.3,122.5l2.6,-1.0M394.2,118.7l1.8,-0.7M337.7,323.3l1.7,-0.7M397.8,126.2l2.3,-0.9M286.6,317.6l2.9,-1.1M272.4,115.6l1.8,-0.7M151.6,291.0l2.3,-0.9M167.1,230.6l1.8,-0.7M280.8,223.9l2.7,-1.0M311.0,108.9l2.7,-1.0M61.9,352.8l2.8,-1.1M236.6,353.1l1.7,-0.6M325.8,330.5l2.9,-1.1M26.1,359.8l2.2,-0.8M225.2,313.3l2.8,-1.0M60.8,352.5l1.9,-0.7M143.9,372.0l2.0,-0.8M224.1,371.4l2.0,-0.8M338.6,246.4l3.0,-1.1M302.1,323.9l1.9,-0.7M263.1,340.5l2.7,-1.0M417.8,260.2l1.9,-0.7M6.7,186.8l1.8,-0.7M86.4,316.2l2.8,-1.1M219.3,184.7l1.9,-0.7M269.2,167.9l2.8,-1.1M367.7,207.4l1.9,-0.7M306.6,373.9l2.6,-1.0" stroke="#d8f0ff"/></g>
<g clip-path="url(#cpSheetR)" fill="none" stroke-width="1.6" stroke-linecap="round" opacity="0.9"><path d="M616.1,214.3l2.1,-0.8M454.0,75.0l2.1,-0.8M369.2,67.3l1.8,-0.7M474.7,224.7l3.0,-1.1M439.8,171.4l2.3,-0.9M600.7,59.2l2.4,-0.9M328.5,141.3l2.7,-1.0M540.3,26.5l1.9,-0.7M320.4,43.6l2.6,-1.0M478.8,20.4l1.8,-0.7M525.6,71.9l1.7,-0.7M475.3,38.0l1.9,-0.7M482.8,97.9l2.6,-1.0M450.5,124.9l2.8,-1.1M346.3,60.7l2.7,-1.0M338.5,194.3l2.6,-1.0M486.9,162.6l2.4,-0.9M518.4,46.3l2.6,-1.0M484.5,214.7l2.1,-0.8M391.8,125.4l2.2,-0.9M393.4,136.0l3.0,-1.1M458.6,199.9l2.5,-0.9M511.2,190.9l1.8,-0.7M434.0,115.3l2.0,-0.8M377.8,158.7l2.3,-0.9M614.0,135.1l2.9,-1.1M381.4,76.0l2.3,-0.9M551.5,193.5l2.7,-1.0M616.6,92.6l2.0,-0.8M433.1,218.4l2.1,-0.8M419.7,96.4l2.8,-1.1M589.2,131.6l2.4,-0.9M443.5,127.6l2.2,-0.8M342.1,219.2l2.8,-1.1M463.5,33.2l1.8,-0.7M472.2,32.4l2.8,-1.0M346.4,187.7l1.8,-0.7M377.0,89.8l2.2,-0.8M380.3,100.3l2.5,-0.9M548.3,164.0l2.6,-1.0M517.2,135.0l1.8,-0.7M463.5,97.9l1.7,-0.6M536.4,170.6l1.6,-0.6M326.2,153.0l2.4,-0.9M420.8,209.1l2.5,-0.9M602.3,69.7l1.6,-0.6M614.9,188.4l2.2,-0.8M404.3,211.9l2.3,-0.9M602.5,134.2l2.5,-1.0M440.1,28.3l1.6,-0.6M322.6,121.2l1.6,-0.6M441.6,153.5l2.8,-1.1M586.5,140.4l1.6,-0.6M339.6,179.7l2.0,-0.8M508.5,24.5l2.0,-0.8M584.7,162.7l1.8,-0.7M424.4,216.2l2.0,-0.8M554.2,174.2l2.6,-1.0M511.2,217.2l2.9,-1.1M528.0,209.0l2.4,-0.9M559.9,67.1l2.8,-1.1M524.5,63.1l2.8,-1.1M432.8,106.3l2.5,-0.9M335.9,214.0l1.9,-0.7M457.3,103.2l1.7,-0.6M389.3,106.7l2.9,-1.1M608.5,190.3l3.0,-1.1M517.4,176.6l2.2,-0.8M531.5,191.0l1.9,-0.7M379.9,45.8l2.3,-0.9M476.4,171.1l2.9,-1.1M408.9,224.4l2.9,-1.1" stroke="#0a2a5a"/><path d="M366.6,185.8l2.4,-0.9M606.2,122.7l2.5,-1.0M357.3,90.7l1.8,-0.7M479.8,117.9l2.9,-1.1M460.9,167.4l2.8,-1.1M412.2,127.3l2.5,-1.0M435.3,64.2l2.7,-1.0M423.2,175.7l2.0,-0.7M405.6,203.4l3.0,-1.1M609.6,174.5l2.3,-0.9M353.8,55.0l3.0,-1.1M428.5,94.0l2.4,-0.9M423.4,183.0l2.7,-1.0M479.6,224.2l2.9,-1.1M616.7,57.5l2.4,-0.9M608.2,24.9l2.4,-0.9M625.4,55.5l2.7,-1.0M315.5,210.1l2.6,-1.0" stroke="#a8d8ff"/><path d="M505.4,139.1l2.5,-0.9M567.8,196.4l2.4,-0.9M454.3,105.0l2.7,-1.0M542.4,119.8l2.7,-1.0M577.7,199.7l2.0,-0.8M508.2,103.4l2.3,-0.9M609.1,147.8l2.6,-1.0M462.9,66.2l2.8,-1.1M437.6,125.5l2.0,-0.7M479.8,21.0l1.8,-0.7M386.4,64.6l2.2,-0.8M552.3,59.4l2.6,-1.0M405.2,216.7l2.0,-0.8M578.0,80.8l2.4,-0.9M593.6,87.5l1.8,-0.7M370.2,124.6l2.0,-0.7M544.8,104.5l2.9,-1.1M461.2,20.4l2.4,-0.9M483.7,207.5l2.0,-0.8M517.9,183.1l2.3,-0.9M582.7,183.6l1.7,-0.6M348.5,187.8l1.9,-0.7M425.9,88.6l2.2,-0.8M386.9,185.7l2.7,-1.0M514.9,34.9l1.8,-0.7M603.9,201.1l1.6,-0.6M515.2,50.9l1.7,-0.7M358.1,61.9l2.1,-0.8M369.3,32.9l1.8,-0.7M438.1,224.5l2.3,-0.9M525.0,65.2l2.5,-1.0M313.5,130.7l1.9,-0.7M565.9,186.4l2.0,-0.8M480.2,120.2l2.6,-1.0M586.0,66.0l1.7,-0.6M554.8,38.9l2.5,-0.9M618.2,52.3l2.8,-1.1M612.3,23.2l2.4,-0.9M373.9,116.2l1.7,-0.6M541.6,149.8l2.5,-1.0M510.0,100.2l2.1,-0.8M353.1,107.5l1.7,-0.6M573.4,198.0l2.4,-0.9M360.8,104.5l2.3,-0.9M372.6,109.3l2.7,-1.0M530.6,70.7l2.3,-0.9M597.6,173.1l1.8,-0.7M442.0,206.9l2.0,-0.8M539.5,218.8l2.5,-1.0M578.4,86.1l1.9,-0.7M518.7,148.0l1.9,-0.7M494.0,116.9l1.8,-0.7M445.2,45.8l2.9,-1.1M445.2,93.4l1.7,-0.6M424.7,193.4l2.7,-1.0M418.9,209.7l2.9,-1.1M346.9,23.7l2.1,-0.8M411.1,135.4l2.7,-1.0M595.8,53.3l1.8,-0.7M488.3,109.4l2.4,-0.9M439.9,206.6l1.9,-0.7M419.3,111.6l3.0,-1.1" stroke="#1848a0"/><path d="M608.4,206.1l1.8,-0.7M457.1,205.2l2.9,-1.1M616.5,164.8l2.3,-0.9M324.5,90.6l2.6,-1.0M403.7,120.2l2.7,-1.0M547.6,204.9l2.6,-1.0M505.1,106.0l2.9,-1.1M386.7,111.2l1.9,-0.7M563.9,147.9l2.2,-0.8M531.9,211.2l2.2,-0.8M332.0,150.6l2.5,-0.9M314.7,24.9l1.7,-0.6M320.8,155.1l2.6,-1.0M572.3,39.7l1.8,-0.7M445.1,33.7l3.0,-1.1M417.8,172.9l1.9,-0.7M509.9,102.6l2.9,-1.1M556.1,60.9l2.4,-0.9M468.3,145.4l2.2,-0.8M521.7,174.7l2.9,-1.1M604.8,124.2l2.3,-0.9M550.6,77.6l2.3,-0.9M531.7,214.5l2.8,-1.1M414.6,189.1l2.0,-0.8M341.3,58.4l2.5,-0.9M478.8,193.3l2.5,-0.9M329.9,64.1l2.5,-1.0M437.8,211.7l1.8,-0.7M534.6,154.9l2.7,-1.0M375.1,42.2l2.9,-1.1M457.3,155.1l2.6,-1.0M434.4,145.6l2.3,-0.9M430.1,148.4l2.5,-1.0M412.2,85.4l2.5,-1.0M573.8,34.8l1.6,-0.6M496.8,47.0l2.7,-1.0M582.1,195.5l2.6,-1.0M590.2,141.2l2.2,-0.8M479.4,201.7l2.5,-1.0M330.1,164.9l2.0,-0.8M484.5,159.1l1.8,-0.7M411.4,155.4l2.1,-0.8M450.6,149.8l2.6,-1.0M586.3,35.7l2.7,-1.0M448.9,69.2l1.7,-0.6M441.5,122.5l1.9,-0.7M353.5,91.9l1.9,-0.7M509.1,206.0l1.8,-0.7M502.6,148.0l3.0,-1.1M436.8,146.3l2.6,-1.0M518.8,103.7l2.7,-1.0M577.2,86.8l2.3,-0.9M515.5,137.9l2.1,-0.8M418.9,180.1l2.6,-1.0M460.5,77.3l2.1,-0.8M556.2,171.6l1.9,-0.7M568.2,200.2l1.7,-0.6M359.8,119.2l2.6,-1.0M405.7,207.7l1.9,-0.7M385.4,146.8l2.5,-1.0M399.5,96.5l2.5,-0.9M586.0,174.4l2.3,-0.9M508.1,163.7l2.8,-1.1M541.4,56.3l2.5,-1.0M397.4,72.7l2.9,-1.1M459.1,107.1l1.7,-0.6M595.9,194.0l2.5,-0.9M487.8,144.1l2.5,-0.9M316.6,153.9l2.6,-1.0M355.7,162.3l3.0,-1.1M497.3,24.4l2.5,-1.0" stroke="#103060"/><path d="M425.2,221.1l2.9,-1.1M356.3,74.5l2.2,-0.8M319.7,72.4l2.6,-1.0M514.3,124.2l3.0,-1.1M337.5,82.7l2.0,-0.7M478.8,159.8l2.1,-0.8M437.4,127.7l2.2,-0.8M495.9,46.3l2.3,-0.9M574.0,40.1l1.9,-0.7M470.1,184.2l2.4,-0.9M508.2,152.5l2.5,-0.9M597.0,124.4l1.7,-0.6M596.6,102.6l2.9,-1.1M427.7,96.2l2.4,-0.9M545.8,208.1l1.6,-0.6M582.4,51.9l2.1,-0.8M480.1,44.1l2.6,-1.0M584.7,187.8l2.0,-0.8M453.9,158.5l2.6,-1.0M554.9,31.2l3.0,-1.1" stroke="#d8f0ff"/><path d="M320.7,181.6l2.4,-0.9M607.5,139.2l2.7,-1.0M429.1,126.4l2.1,-0.8M535.9,102.9l2.6,-1.0M571.7,23.5l2.4,-0.9M554.0,91.8l2.8,-1.1M483.7,221.9l2.2,-0.8M500.5,44.3l2.9,-1.1M477.3,33.8l2.6,-1.0M501.0,218.1l1.9,-0.7M319.3,198.3l2.7,-1.0M509.5,68.2l1.6,-0.6M535.0,209.6l1.6,-0.6M363.0,64.8l1.9,-0.7M609.4,137.7l2.9,-1.1M415.7,80.0l1.7,-0.6M553.5,117.6l2.6,-1.0" stroke="#ffffff"/></g>
<path d="M112.0,161.0C118.3,159.0 137.0,153.2 150.0,149.0C163.0,144.8 177.8,139.2 190.0,135.5C202.2,131.8 211.9,131.2 223.0,127.0C234.1,122.8 248.9,114.6 256.7,110.0C264.5,105.4 265.6,102.1 270.0,99.5C274.4,96.9 278.6,95.2 283.0,94.5C287.4,93.8 291.7,94.2 296.7,95.0C301.7,95.8 310.3,98.3 313.0,99.0" fill="none" stroke="url(#gOlive)" stroke-width="5.4"/>
<polygon points="111.0,158.0 125.0,153.5 128.5,166.5 116.5,171.5" fill="#5a6028" />
<path d="M168.0,284.5C171.7,283.3 180.8,281.1 190.0,277.5C199.2,273.9 211.9,267.5 223.0,263.0C234.1,258.5 245.5,254.4 256.7,250.5C267.9,246.6 282.8,242.0 290.0,239.5C297.2,237.0 293.9,238.7 300.0,235.4C306.1,232.1 317.6,225.1 326.4,219.6C335.2,214.1 346.2,206.2 352.8,202.4C359.4,198.6 361.6,197.8 366.0,196.5C370.4,195.2 374.8,194.7 379.2,194.5C383.6,194.3 390.2,195.1 392.4,195.2" fill="none" stroke="url(#gGold)" stroke-width="10.5"/>
<polygon points="153.5,267.5 166.5,262.0 176.0,286.5 163.0,292.0" fill="#a8800c" />
<polygon points="85.0,295.8 230.7,239.0 231.0,241.0 85.5,297.8" fill="#1a4a90" />
<polygon points="57.5,190.0 181.7,146.7 230.7,239.0 85.0,295.8" fill="#c6f4f4" />
<polygon points="59.4,191.0 75.9,185.2 81.4,203.7 64.3,209.8" fill="#4c86f6" />
<polygon points="64.9,211.9 82.0,205.8 87.4,224.3 69.8,230.8" fill="#4c86f6" />
<polygon points="70.4,232.9 88.0,226.4 93.5,244.9 75.3,251.7" fill="#4c86f6" />
<polygon points="75.9,253.8 94.1,247.0 99.6,265.5 80.9,272.7" fill="#4c86f6" />
<polygon points="81.4,274.8 100.2,267.6 105.6,286.1 86.4,293.6" fill="#4c86f6" />
<polygon points="80.4,183.6 96.9,177.9 103.0,196.0 86.0,202.1" fill="#4c86f6" />
<polygon points="86.6,204.1 103.7,198.0 109.8,216.1 92.2,222.6" fill="#4c86f6" />
<polygon points="92.8,224.6 110.5,218.2 116.6,236.3 98.4,243.1" fill="#4c86f6" />
<polygon points="99.1,245.1 117.3,238.3 123.4,256.4 104.7,263.6" fill="#4c86f6" />
<polygon points="105.3,265.7 124.1,258.5 130.2,276.6 110.9,284.1" fill="#4c86f6" />
<polygon points="101.4,176.3 117.9,170.5 124.6,188.2 107.6,194.3" fill="#4c86f6" />
<polygon points="108.3,196.3 125.4,190.2 132.2,207.9 114.6,214.4" fill="#4c86f6" />
<polygon points="115.3,216.4 132.9,209.9 139.7,227.6 121.5,234.4" fill="#4c86f6" />
<polygon points="122.2,236.5 140.4,229.6 147.2,247.3 128.5,254.5" fill="#4c86f6" />
<polygon points="129.2,256.5 147.9,249.3 154.7,267.0 135.4,274.5" fill="#4c86f6" />
<polygon points="122.4,169.0 138.9,163.2 146.3,180.5 129.3,186.6" fill="#4c86f6" />
<polygon points="130.0,188.6 147.1,182.4 154.5,199.7 136.9,206.2" fill="#4c86f6" />
<polygon points="137.7,208.2 155.4,201.7 162.8,219.0 144.6,225.8" fill="#4c86f6" />
<polygon points="145.4,227.8 163.6,220.9 171.0,238.2 152.3,245.4" fill="#4c86f6" />
<polygon points="153.0,247.4 171.8,240.2 179.2,257.5 159.9,265.0" fill="#4c86f6" />
<polygon points="143.4,161.6 159.9,155.8 167.9,172.8 150.9,178.8" fill="#4c86f6" />
<polygon points="151.8,180.8 168.8,174.6 176.9,191.5 159.3,198.0" fill="#4c86f6" />
<polygon points="160.1,199.9 177.8,193.4 185.8,210.3 167.7,217.1" fill="#4c86f6" />
<polygon points="168.5,219.1 186.7,212.2 194.8,229.1 176.1,236.3" fill="#4c86f6" />
<polygon points="176.9,238.2 195.7,231.0 203.7,247.9 184.5,255.4" fill="#4c86f6" />
<polygon points="164.4,154.3 180.9,148.5 189.6,165.0 172.6,171.1" fill="#4c86f6" />
<polygon points="173.5,173.0 190.6,166.9 199.3,183.4 181.7,189.8" fill="#4c86f6" />
<polygon points="182.6,191.7 200.2,185.2 208.9,201.7 190.8,208.5" fill="#4c86f6" />
<polygon points="191.7,210.4 209.9,203.5 218.6,220.0 199.9,227.2" fill="#4c86f6" />
<polygon points="200.8,229.1 219.6,221.9 228.3,238.4 209.0,245.9" fill="#4c86f6" />
<ellipse cx="123.8" cy="218.9" rx="30" ry="36" fill="#2a4a90" opacity="0.5" filter="url(#blurA)" transform="rotate(-20 123.8 218.9)"/>
<polygon points="79.1,196.2 83.7,194.6 107.6,273.1 102.4,275.1" fill="#b4dcaa" opacity="0.8" filter="url(#blurB)"/>
<polygon points="100.5,188.6 105.1,187.0 131.7,263.8 126.5,265.8" fill="#b4dcaa" opacity="0.8" filter="url(#blurB)"/>
<polygon points="121.9,181.0 126.5,179.4 155.8,254.5 150.7,256.5" fill="#b4dcaa" opacity="0.8" filter="url(#blurB)"/>
<polygon points="221.2,133.8 253.3,118.0 264.1,134.1 232.0,150.0" fill="#b6f6fc" />
<polygon points="228.4,153.4 264.9,135.4 268.0,140.0 231.5,158.0" fill="#3f8288" />
<polygon points="218.9,139.1 225.1,136.0 234.9,150.7 228.7,153.8" fill="#3f8288" />
<polygon points="232.0,132.6 238.2,129.6 248.0,144.3 241.8,147.3" fill="#3f8288" />
<polygon points="244.5,126.5 250.7,123.4 260.5,138.1 254.2,141.2" fill="#3f8288" />
<polygon points="231.5,158.0 268.0,140.0 268.8,141.3 233.2,159.1" fill="#2a6068" />
<polygon points="275.9,108.1 306.1,97.4 314.8,114.0 286.6,123.3" fill="#b6f6fc" />
<polygon points="283.6,125.7 315.5,115.3 318.0,120.0 286.7,130.0" fill="#3f8288" />
<polygon points="273.9,112.5 279.7,110.4 289.3,124.3 283.9,126.1" fill="#3f8288" />
<polygon points="286.1,108.2 291.9,106.2 300.8,120.6 295.3,122.4" fill="#3f8288" />
<polygon points="297.7,104.2 303.4,102.2 311.6,117.1 306.2,118.8" fill="#3f8288" />
<polygon points="286.7,130.0 318.0,120.0 318.7,121.3 288.3,131.2" fill="#2a6068" />
<polygon points="243.0,152.0 255.5,147.5 258.5,153.5 246.0,158.0" fill="#3f8288" />
<polygon points="267.5,189.5 278.3,185.0 283.0,193.0 271.0,197.0" fill="#3f8288" />
<polygon points="245.8,157.5 257.5,153.0 278.3,185.0 267.5,189.5" fill="#d6d892" />
<polygon points="302.0,123.0 314.0,120.0 317.0,125.5 305.0,128.5" fill="#3f8288" />
<polygon points="328.3,158.0 338.3,154.0 343.0,161.0 332.0,165.0" fill="#3f8288" />
<polygon points="305.0,128.0 316.7,125.0 338.3,154.0 328.3,158.0" fill="#d6d892" />
<polygon points="261.6,199.1 298.9,182.1 315.1,203.7 276.8,223.4" fill="#b6f6fc" />
<polygon points="272.7,228.0 316.4,205.3 321.0,211.5 277.0,235.0" fill="#3f8288" />
<polygon points="259.4,206.2 266.7,202.8 280.5,224.7 273.1,228.6" fill="#3f8288" />
<polygon points="274.8,199.0 282.1,195.7 296.3,216.6 288.8,220.4" fill="#3f8288" />
<polygon points="289.3,192.3 296.6,188.9 311.1,208.9 303.7,212.7" fill="#3f8288" />
<polygon points="277.0,235.0 321.0,211.5 322.3,213.2 279.2,236.8" fill="#2a6068" />
<polygon points="324.4,167.9 355.9,159.7 372.1,179.4 339.2,190.6" fill="#b6f6fc" />
<polygon points="335.8,193.9 373.4,180.9 378.0,186.5 340.0,200.5" fill="#3f8288" />
<polygon points="322.9,173.5 329.1,171.8 342.6,192.3 336.2,194.5" fill="#3f8288" />
<polygon points="335.9,169.9 342.1,168.2 356.1,187.6 349.7,189.8" fill="#3f8288" />
<polygon points="348.2,166.5 354.4,164.8 368.9,183.1 362.5,185.3" fill="#3f8288" />
<polygon points="340.0,200.5 378.0,186.5 379.3,188.0 342.1,202.3" fill="#2a6068" />
<polygon points="470.3,60.5 476.5,56.8 483.8,61.9 477.7,65.6" fill="#0f7a78" />
<polygon points="477.7,65.6 483.8,61.9 490.0,66.2 483.8,69.9" fill="#c8a434" />
<polygon points="449.1,44.9 455.3,41.2 461.8,45.8 455.6,49.5" fill="#0f7a78" />
<polygon points="514.0,91.7 520.2,87.9 527.5,93.2 521.4,96.9" fill="#0f7a78" />
<polygon points="521.4,96.9 527.5,93.2 533.6,97.5 527.5,101.3" fill="#c8a434" />
<polygon points="489.1,73.6 495.3,69.9 501.8,74.5 495.6,78.3" fill="#0f7a78" />
<polygon points="564.5,128.4 570.6,124.5 577.8,129.9 571.7,133.8" fill="#0f7a78" />
<polygon points="571.7,133.8 577.8,129.9 583.8,134.4 577.8,138.3" fill="#c8a434" />
<polygon points="535.9,106.5 542.0,102.6 548.4,107.4 542.3,111.3" fill="#0f7a78" />
<polygon points="381.8,85.3 385.8,89.3 359.0,116.7 355.0,113.7" fill="#1f7478" />
<polygon points="419.3,120.3 423.3,124.3 399.0,151.7 395.0,148.7" fill="#1f7478" />
<polygon points="465.2,160.3 469.2,164.3 440.7,200.0 436.7,197.0" fill="#1f7478" />
<polygon points="366.7,69.2 380.8,83.3 355.0,111.7 340.0,98.3" fill="#c65ae4" filter="url(#fSens)"/>
<polygon points="401.7,102.5 418.3,118.3 395.0,146.7 373.3,130.8" fill="#c65ae4" filter="url(#fSens)"/>
<polygon points="443.3,140.8 464.2,158.3 436.7,195.0 412.5,172.5" fill="#c65ae4" filter="url(#fSens)"/>
<polygon points="396.7,58.3 423.3,64.2 436.7,75.8 411.7,72.5" fill="#c65ae4" filter="url(#fSens)"/>
<polygon points="433.3,90.0 460.0,93.3 477.5,108.3 453.3,106.7" fill="#c65ae4" filter="url(#fSens)"/>
<polygon points="477.5,125.8 501.7,129.2 525.0,148.3 500.0,144.2" fill="#c65ae4" filter="url(#fSens)"/>
<polygon points="445.8,54.2 470.0,40.0 486.7,51.7 461.7,66.7" fill="#c65ae4" filter="url(#fSens)"/>
<polygon points="485.0,83.3 510.8,68.3 530.8,82.5 505.0,98.3" fill="#c65ae4" filter="url(#fSens)"/>
<polygon points="530.8,116.7 558.3,100.8 581.7,118.3 555.0,135.8" fill="#c65ae4" filter="url(#fSens)"/>
<line x1="312.6" y1="91.3" x2="431.8" y2="220.9" stroke="#34c6f2" stroke-width="3.2"/>
<path d="M390,195 C400,195 408,197 414,200" fill="none" stroke="#14120a" stroke-width="8" opacity="0.9"/>
<g><line x1="381.5" y1="277.5" x2="403" y2="258" stroke="#5e5c5a" stroke-width="9.4" stroke-linecap="round"/><line x1="389" y1="287" x2="421.8" y2="258.6" stroke="#605e5c" stroke-width="10" stroke-linecap="round"/><line x1="396" y1="297" x2="436.3" y2="264.8" stroke="#62605e" stroke-width="10" stroke-linecap="round"/><line x1="401" y1="308" x2="436.3" y2="284.8" stroke="#5e5c5a" stroke-width="9.2" stroke-linecap="round"/><path d="M56.3,407.1C59.6,404.4 69.9,395.7 76.3,390.8C82.7,385.9 88.5,381.6 94.5,378.0C100.5,374.4 106.5,372.0 112.6,369.0C118.6,366.0 124.8,362.9 130.8,359.9C136.9,356.9 142.9,354.0 148.9,350.8C154.9,347.6 160.9,343.4 167.0,340.8C173.1,338.2 179.1,337.0 185.2,335.4C191.3,333.8 197.3,332.3 203.4,330.9C209.5,329.5 215.4,328.1 221.5,327.2C227.6,326.3 233.3,326.1 239.7,325.4C246.1,324.6 252.8,323.8 260.0,322.7C267.1,321.6 274.2,320.9 282.6,319.0C291.0,317.1 302.8,314.1 310.3,311.0C317.8,307.9 323.0,303.8 327.6,300.6C332.2,297.4 333.9,294.9 338.0,292.0C342.1,289.1 346.7,285.9 351.9,283.3C357.1,280.7 364.0,278.2 369.2,276.4C374.4,274.6 380.7,273.1 383.0,272.5 L388,277 L399.5,298 L405,312 L404.0,312.0C404.5,313.2 408.5,316.6 407.0,319.5C405.5,322.4 399.7,326.3 395.2,329.4C390.7,332.5 385.6,335.7 380.2,337.9C374.8,340.1 369.4,341.8 363.0,342.7C356.6,343.6 347.9,342.7 341.5,343.3C335.1,343.9 330.8,344.7 324.4,346.5C318.0,348.3 310.0,351.7 302.9,354.0C295.8,356.3 288.6,358.4 281.5,360.5C274.4,362.6 265.5,364.6 260.0,366.5C254.5,368.4 253.6,369.8 248.7,371.7C243.8,373.6 236.6,375.7 230.6,378.0C224.6,380.3 218.4,382.9 212.4,385.3C206.4,387.7 200.4,390.8 194.3,392.6C188.2,394.4 181.2,395.1 176.1,396.2C170.9,397.2 167.9,397.0 163.4,398.9C158.9,400.8 151.3,406.1 148.9,407.5 L56.3,407.5 Z" fill="url(#gArm)"/>
<path d="M366,331 Q388,328 404,316" fill="none" stroke="#8c8a88" stroke-width="5" stroke-linecap="round" opacity="0.6" filter="url(#blurB)"/><ellipse cx="149" cy="377" rx="15" ry="11" fill="#3a3836" opacity="0.3" filter="url(#blurA)" transform="rotate(-25 143 381)"/><ellipse cx="335" cy="322" rx="14" ry="8" fill="#504e4c" opacity="0.22" filter="url(#blurA)" transform="rotate(-40 335 322)"/><ellipse cx="367" cy="301" rx="24" ry="13" fill="#9a9896" opacity="0.6" filter="url(#blurA)" transform="rotate(-35 367 301)"/><ellipse cx="250" cy="345" rx="60" ry="9" fill="#8a8886" opacity="0.4" filter="url(#blurA)" transform="rotate(-14 250 345)"/></g><g transform="matrix(0.9664,-0.2561,0.2561,0.9664,225.4,340.5)"><rect x="0" y="0" width="61" height="22.2" fill="#3cc4e8"/><rect x="3.5" y="4.5" width="15" height="15" fill="#2a70e0"/><line x1="5.4" y1="4.5" x2="5.4" y2="19.5" stroke="#8ee0f8" stroke-width="0.7"/><line x1="3.5" y1="6.4" x2="18.5" y2="6.4" stroke="#8ee0f8" stroke-width="0.7"/><line x1="9.2" y1="4.5" x2="9.2" y2="19.5" stroke="#8ee0f8" stroke-width="0.7"/><line x1="3.5" y1="10.2" x2="18.5" y2="10.2" stroke="#8ee0f8" stroke-width="0.7"/><line x1="12.9" y1="4.5" x2="12.9" y2="19.5" stroke="#8ee0f8" stroke-width="0.7"/><line x1="3.5" y1="13.9" x2="18.5" y2="13.9" stroke="#8ee0f8" stroke-width="0.7"/><line x1="16.6" y1="4.5" x2="16.6" y2="19.5" stroke="#8ee0f8" stroke-width="0.7"/><line x1="3.5" y1="17.6" x2="18.5" y2="17.6" stroke="#8ee0f8" stroke-width="0.7"/><rect x="24" y="5" width="4.5" height="4.5" fill="#3a6a70"/><rect x="31" y="5" width="4.5" height="4.5" fill="#3a6a70"/><rect x="24" y="15" width="4.5" height="4.5" fill="#3a6a70"/><rect x="31" y="15" width="4.5" height="4.5" fill="#3a6a70"/><rect x="37.5" y="0.5" width="23" height="21.2" fill="#2aa8d0"/><rect x="40" y="2.5" width="4.2" height="4.2" fill="#c050e0"/><rect x="40" y="9.0" width="4.2" height="4.2" fill="#c050e0"/><rect x="40" y="15.5" width="4.2" height="4.2" fill="#c050e0"/><rect x="47" y="2.5" width="4.2" height="4.2" fill="#c050e0"/><rect x="47" y="9.0" width="4.2" height="4.2" fill="#c050e0"/><rect x="47" y="15.5" width="4.2" height="4.2" fill="#c050e0"/><rect x="54" y="2.5" width="4.2" height="4.2" fill="#c050e0"/><rect x="54" y="9.0" width="4.2" height="4.2" fill="#c050e0"/><rect x="54" y="15.5" width="4.2" height="4.2" fill="#c050e0"/><path d="M8,21 H36 M14,3 H36" stroke="#c8a030" stroke-width="0.9" fill="none"/></g>
<radialGradient id="sunba" cx="0.42" cy="0.35" r="0.75"><stop offset="0" stop-color="#f8c48e"/><stop offset="0.6" stop-color="#f4ac74"/><stop offset="1" stop-color="#f0a066"/></radialGradient>
<linearGradient id="sunra" x1="0" x2="0" y1="0" y2="1"><stop offset="0" stop-color="#f8688e"/><stop offset="0.3" stop-color="#f88478"/><stop offset="0.55" stop-color="#f8a860"/><stop offset="1" stop-color="#fcd63c"/></linearGradient>
<path d="M43.6,76.9Q47.5,72.6 49.7,63.8Q51.9,72.6 55.8,76.9Q61.1,74.4 66.0,68.3Q65.1,76.1 67.1,81.6Q72.9,81.3 80.7,76.6Q76.0,84.4 75.7,90.2Q81.2,92.2 89.0,91.3Q82.9,96.2 80.4,101.5Q84.7,105.4 93.5,107.6Q84.7,109.8 80.4,113.7Q82.9,119.0 89.0,123.9Q81.2,123.0 75.7,125.0Q76.0,130.8 80.7,138.6Q72.9,133.9 67.1,133.6Q65.1,139.1 66.0,146.9Q61.1,140.8 55.8,138.3Q51.9,142.6 49.7,151.4Q47.5,142.6 43.6,138.3Q38.3,140.8 33.4,146.9Q34.3,139.1 32.3,133.6Q26.5,133.9 18.7,138.6Q23.4,130.8 23.7,125.0Q18.2,123.0 10.4,123.9Q16.5,119.0 19.0,113.7Q14.7,109.8 5.9,107.6Q14.7,105.4 19.0,101.5Q16.5,96.2 10.4,91.3Q18.2,92.2 23.7,90.2Q23.4,84.4 18.7,76.6Q26.5,81.3 32.3,81.6Q34.3,76.1 33.4,68.3Q38.3,74.4 43.6,76.9Z" fill="url(#sunra)"/>
<circle cx="49.7" cy="107.6" r="32.6" fill="url(#sunra)"/>
<circle cx="49.7" cy="107.6" r="31.3" fill="url(#sunba)" stroke="#f4dc9a" stroke-width="1.57"/>
<ellipse cx="39.4" cy="102.3" rx="5.3" ry="7.2" fill="#6a4868"/>
<circle cx="40.3" cy="99.5" r="2.3" fill="#f0d8e8"/>
<ellipse cx="60.0" cy="102.3" rx="5.3" ry="7.2" fill="#6a4868"/>
<circle cx="61.0" cy="99.5" r="2.3" fill="#f0d8e8"/>
<circle cx="49.7" cy="114.8" r="1.7" fill="none" stroke="#e88a70" stroke-width="0.94"/>
<path d="M30.3,118.9 Q49.7,140.5 69.1,118.9" fill="none" stroke="#a05a5a" stroke-width="1.88" stroke-linecap="round"/>
<path d="M32.5,88.2 Q40.3,81.9 49.7,81.0" fill="none" stroke="#fff" stroke-opacity="0.55" stroke-width="1.57" stroke-linecap="round"/>
<polygon points="82.9,91.7 85.5,90.7 87.9,89.7 90.2,88.5 92.4,87.3 94.4,86.0 96.3,84.6 98.0,83.1 99.6,81.6 101.1,79.9 102.3,78.2 103.5,76.4 104.4,74.4 105.2,72.5 105.8,70.4 106.2,68.2 106.4,66.0 106.4,63.8 106.3,61.5 105.9,59.2 105.4,56.8 104.8,54.4 104.0,51.9 103.0,49.5 98.0,51.5 98.9,53.8 99.6,56.0 100.2,58.1 100.6,60.1 100.9,62.1 101.0,64.0 101.1,65.8 101.0,67.6 100.8,69.4 100.4,71.1 100.0,72.8 99.4,74.4 98.7,76.0 97.8,77.6 96.8,79.2 95.6,80.8 94.2,82.4 92.7,83.9 91.1,85.5 89.2,87.0 87.2,88.4 85.0,89.9 82.7,91.3" fill="#3d9ad6" />
<polygon points="106.2,49.9 97.0,41.7 95.9,53.9 100.5,50.5" fill="#3d9ad6" />
<polygon points="185.8,135.4 186.6,133.5 187.2,131.6 187.8,129.7 188.3,127.8 188.7,125.9 189.0,124.1 189.2,122.3 189.3,120.5 189.2,118.8 189.1,117.0 188.9,115.3 188.6,113.7 188.2,112.1 187.6,110.5 186.9,109.0 186.2,107.5 185.3,106.1 184.3,104.7 183.2,103.4 182.1,102.2 180.8,101.0 179.5,99.9 178.1,98.8 174.9,103.2 176.1,104.1 177.2,105.0 178.3,106.0 179.2,107.0 180.1,108.0 180.9,109.1 181.6,110.2 182.3,111.3 182.9,112.5 183.5,113.8 184.0,115.0 184.5,116.4 184.9,117.8 185.3,119.2 185.6,120.7 185.8,122.3 185.9,124.0 186.0,125.7 186.0,127.5 186.0,129.4 185.9,131.3 185.7,133.3 185.4,135.4" fill="#3d9ad6" />
<polygon points="181.0,97.5 168.9,95.3 174.4,106.3 176.5,101.0" fill="#3d9ad6" />
<polygon points="266.1,105.4 267.5,103.3 268.7,101.3 269.9,99.2 270.9,97.1 271.7,95.1 272.5,93.0 273.1,91.0 273.5,89.0 273.9,87.0 274.0,84.9 274.1,82.9 273.9,80.9 273.7,79.0 273.2,77.0 272.6,75.1 271.9,73.2 271.0,71.4 270.0,69.6 268.8,67.9 267.5,66.2 266.0,64.6 264.5,63.0 262.8,61.5 259.2,65.5 260.7,66.9 262.1,68.3 263.3,69.7 264.4,71.1 265.4,72.5 266.3,74.0 267.1,75.5 267.8,77.0 268.4,78.5 268.9,80.1 269.3,81.7 269.6,83.3 269.8,85.0 269.9,86.7 269.9,88.6 269.8,90.4 269.5,92.3 269.2,94.3 268.7,96.4 268.2,98.5 267.5,100.7 266.6,102.9 265.7,105.2" fill="#3d9ad6" />
<polygon points="265.8,60.4 254.0,57.1 258.4,68.6 261.0,63.5" fill="#3d9ad6" />
<polygon points="410.5,54.1 412.4,52.9 414.1,51.7 415.6,50.5 417.1,49.3 418.5,48.0 419.7,46.8 420.8,45.5 421.9,44.3 422.8,43.0 423.5,41.7 424.2,40.3 424.7,38.9 425.1,37.5 425.3,36.1 425.3,34.7 425.2,33.3 425.0,31.9 424.6,30.5 424.0,29.1 423.3,27.8 422.5,26.5 421.5,25.3 420.5,24.2 416.5,27.8 417.4,28.8 418.1,29.7 418.7,30.6 419.1,31.5 419.5,32.3 419.8,33.2 420.0,34.1 420.1,35.0 420.2,35.9 420.2,36.8 420.1,37.8 419.9,38.9 419.6,40.0 419.2,41.1 418.7,42.4 418.1,43.6 417.3,44.9 416.4,46.3 415.4,47.7 414.3,49.2 413.1,50.6 411.7,52.2 410.3,53.7" fill="#3d9ad6" />
<polygon points="423.6,23.4 412.2,18.9 415.4,30.8 418.5,26.0" fill="#3d9ad6" />
<polygon points="261.0,325.5 262.1,323.8 263.2,322.0 264.1,320.3 264.8,318.5 265.5,316.8 266.0,315.0 266.4,313.3 266.7,311.5 266.8,309.8 266.8,308.0 266.6,306.3 266.3,304.6 265.8,302.9 265.2,301.2 264.4,299.6 263.5,298.0 262.4,296.5 261.3,295.0 259.9,293.5 258.5,292.2 257.0,290.8 255.3,289.5 253.6,288.3 250.4,292.7 252.1,293.9 253.5,295.0 254.9,296.2 256.1,297.3 257.2,298.5 258.2,299.7 259.1,300.9 259.9,302.1 260.6,303.4 261.2,304.6 261.7,305.9 262.2,307.2 262.5,308.6 262.8,310.0 263.0,311.4 263.0,313.0 263.0,314.5 262.9,316.2 262.7,317.9 262.3,319.6 261.9,321.5 261.3,323.4 260.6,325.3" fill="#3d9ad6" />
<polygon points="256.4,286.9 244.2,285.0 250.0,295.9 252.0,290.5" fill="#3d9ad6" />
<text x="3.8" y="23" font-size="32" fill="#555" text-anchor="start" font-weight="bold" >(a)</text>
<text x="65.7" y="39.6" font-size="16.2" fill="#dc5cb6" text-anchor="start" font-weight="bold" textLength="65.5" lengthAdjust="spacing" >Sunlight</text>
<text x="257.5" y="32.6" font-size="16.2" fill="#dc5cb6" text-anchor="middle" font-weight="bold" letter-spacing="1">Zn||MnO<tspan dy="3" font-size="9">2</tspan></text>
<text x="205.7" y="50.2" font-size="16.2" fill="#dc5cb6" text-anchor="start" font-weight="bold" textLength="104.5" lengthAdjust="spacing" >Microbattery</text>
<text x="136.7" y="89.8" font-size="16.2" fill="#dc5cb6" text-anchor="start" font-weight="bold" textLength="71" lengthAdjust="spacing" >Solar cell</text>
<text x="366.5" y="15.6" font-size="16.2" fill="#dc5cb6" text-anchor="start" font-weight="bold" textLength="98.5" lengthAdjust="spacing" >Sensor array</text>
<text x="0" y="0" font-size="22.6" fill="#dc5cb6" text-anchor="start" font-weight="bold" textLength="260.5" lengthAdjust="spacing" transform="translate(271.3,405.6) rotate(-24.55)">Flexible wearable devices</text>
<g fill="none" stroke="#3a8fd2" stroke-width="2.2" stroke-dasharray="4.4 2.4"><path d="M584,0 V78 H640.3 V151.6 H584 V200"/></g>
<text x="591.5" y="20.8" font-size="32" fill="#555" text-anchor="start" font-weight="bold" >(b)</text>
<radialGradient id="sunbb" cx="0.42" cy="0.35" r="0.75"><stop offset="0" stop-color="#f8c48e"/><stop offset="0.6" stop-color="#f4ac74"/><stop offset="1" stop-color="#f0a066"/></radialGradient>
<linearGradient id="sunrb" x1="0" x2="0" y1="0" y2="1"><stop offset="0" stop-color="#f8688e"/><stop offset="0.3" stop-color="#f88478"/><stop offset="0.55" stop-color="#f8a860"/><stop offset="1" stop-color="#fcd63c"/></linearGradient>
<path d="M659.6,14.5Q662.7,11.0 664.5,3.9Q666.3,11.0 669.4,14.5Q673.6,12.5 677.6,7.5Q676.9,13.9 678.5,18.2Q683.2,18.0 689.4,14.3Q685.7,20.5 685.5,25.2Q689.8,26.8 696.2,26.1Q691.2,30.1 689.2,34.3Q692.7,37.4 699.8,39.2Q692.7,41.0 689.2,44.1Q691.2,48.3 696.2,52.3Q689.8,51.6 685.5,53.2Q685.7,57.9 689.4,64.1Q683.2,60.4 678.5,60.2Q676.9,64.5 677.6,70.9Q673.6,65.9 669.4,63.9Q666.3,67.4 664.5,74.5Q662.7,67.4 659.6,63.9Q655.4,65.9 651.4,70.9Q652.1,64.5 650.5,60.2Q645.8,60.4 639.6,64.1Q643.3,57.9 643.5,53.2Q639.2,51.6 632.8,52.3Q637.8,48.3 639.8,44.1Q636.3,41.0 629.2,39.2Q636.3,37.4 639.8,34.3Q637.8,30.1 632.8,26.1Q639.2,26.8 643.5,25.2Q643.3,20.5 639.6,14.3Q645.8,18.0 650.5,18.2Q652.1,13.9 651.4,7.5Q655.4,12.5 659.6,14.5Z" fill="url(#sunrb)"/>
<circle cx="664.5" cy="39.2" r="26.2" fill="url(#sunrb)"/>
<circle cx="664.5" cy="39.2" r="25.2" fill="url(#sunbb)" stroke="#f4dc9a" stroke-width="1.26"/>
<ellipse cx="656.2" cy="34.9" rx="4.3" ry="5.8" fill="#6a4868"/>
<circle cx="656.9" cy="32.6" r="1.9" fill="#f0d8e8"/>
<ellipse cx="672.8" cy="34.9" rx="4.3" ry="5.8" fill="#6a4868"/>
<circle cx="673.6" cy="32.6" r="1.9" fill="#f0d8e8"/>
<circle cx="664.5" cy="45.0" r="1.4" fill="none" stroke="#e88a70" stroke-width="0.76"/>
<path d="M648.9,48.3 Q664.5,65.7 680.1,48.3" fill="none" stroke="#a05a5a" stroke-width="1.51" stroke-linecap="round"/>
<path d="M650.6,23.6 Q656.9,18.5 664.5,17.8" fill="none" stroke="#fff" stroke-opacity="0.55" stroke-width="1.26" stroke-linecap="round"/>
<line x1="705.5" y1="23.8" x2="729" y2="36.6" stroke="#f2a468" stroke-width="1" stroke-dasharray="1.6 1.1"/><polygon points="0,0 -8.5,-3.2 -8.5,3.2" fill="#f2a468" transform="translate(735,39.8) rotate(28.5)"/>
<line x1="705.5" y1="45" x2="729" y2="57.8" stroke="#f2a468" stroke-width="1" stroke-dasharray="1.6 1.1"/><polygon points="0,0 -8.5,-3.2 -8.5,3.2" fill="#f2a468" transform="translate(735,61) rotate(28.5)"/>
<line x1="705.5" y1="64" x2="729" y2="76.8" stroke="#f2a468" stroke-width="1" stroke-dasharray="1.6 1.1"/><polygon points="0,0 -8.5,-3.2 -8.5,3.2" fill="#f2a468" transform="translate(735,80) rotate(28.5)"/>
<rect x="743.4" y="4.3" width="167.3" height="200.29999999999998" fill="#c6e8f0"/>
<rect x="743.4" y="4.3" width="18.2" height="200.29999999999998" fill="url(#gFilm)"/>
<rect x="803.2" y="4.3" width="47.4" height="200.29999999999998" fill="#d2b0d2"/>
<rect x="850.6" y="4.3" width="42.2" height="200.29999999999998" fill="#ddd7ea"/>
<rect x="892.8" y="4.3" width="17.9" height="200.29999999999998" fill="#b4deee"/>
<line x1="761.6" y1="4.3" x2="761.6" y2="204.6" stroke="#9aa8b0" stroke-width="0.8"/>
<rect x="743.4" y="4.3" width="167.3" height="200.29999999999998" fill="none" stroke="#b8c0c8" stroke-width="0.7"/>
<text x="771" y="42.8" font-size="40" fill="#d63a96" text-anchor="start" font-weight="bold" >N</text>
<text x="861.5" y="42.8" font-size="40" fill="#4ab4e0" text-anchor="start" font-weight="bold" >P</text>
<text x="0" y="0" font-size="15.5" fill="#d846a8" text-anchor="middle" font-weight="bold" textLength="144" lengthAdjust="spacing" transform="translate(759,104.6) rotate(-90)">Anti-reflective film</text>
<text x="0" y="0" font-size="15.5" fill="#d846a8" text-anchor="middle" font-weight="bold" textLength="113" lengthAdjust="spacing" transform="translate(908,104) rotate(-90)">Back electrode</text>
<circle cx="827.2" cy="65.2" r="5.2" fill="url(#gGrey2)"/>
<text x="827.2" y="68.60000000000001" font-size="11.5" fill="#4a7088" text-anchor="middle" font-weight="bold" >h</text>
<line x1="835.5" y1="64.0" x2="877" y2="64.0" stroke="#3a8fd2" stroke-width="0.9"/><polygon points="884.0,64.0 875.0,60.8 876.5,64.0 875.0,67.2" fill="#3a8fd2" />
<circle cx="827.2" cy="84.8" r="5.2" fill="url(#gGrey2)"/>
<text x="827.2" y="88.2" font-size="11.5" fill="#222" text-anchor="middle" font-weight="bold" >e</text>
<line x1="817.5" y1="84.8" x2="776" y2="84.8" stroke="#3ab0e2" stroke-width="0.9"/><polygon points="768.5,84.8 777.5,81.6 776.0,84.8 777.5,88.0" fill="#3ab0e2" />
<circle cx="827.2" cy="107.9" r="5.2" fill="url(#gGrey2)"/>
<text x="827.2" y="111.30000000000001" font-size="11.5" fill="#4a7088" text-anchor="middle" font-weight="bold" >h</text>
<line x1="835.5" y1="106.7" x2="877" y2="106.7" stroke="#3a8fd2" stroke-width="0.9"/><polygon points="884.0,106.7 875.0,103.5 876.5,106.7 875.0,109.9" fill="#3a8fd2" />
<circle cx="827.2" cy="128.4" r="5.2" fill="url(#gGrey2)"/>
<text x="827.2" y="131.8" font-size="11.5" fill="#222" text-anchor="middle" font-weight="bold" >e</text>
<line x1="817.5" y1="128.4" x2="776" y2="128.4" stroke="#3ab0e2" stroke-width="0.9"/><polygon points="768.5,128.4 777.5,125.2 776.0,128.4 777.5,131.6" fill="#3ab0e2" />
<circle cx="827.2" cy="148.5" r="5.2" fill="url(#gGrey2)"/>
<text x="827.2" y="151.9" font-size="11.5" fill="#4a7088" text-anchor="middle" font-weight="bold" >h</text>
<line x1="835.5" y1="147.3" x2="877" y2="147.3" stroke="#3a8fd2" stroke-width="0.9"/><polygon points="884.0,147.3 875.0,144.1 876.5,147.3 875.0,150.5" fill="#3a8fd2" />
<circle cx="827.2" cy="167.5" r="5.2" fill="url(#gGrey2)"/>
<text x="827.2" y="170.9" font-size="11.5" fill="#222" text-anchor="middle" font-weight="bold" >e</text>
<line x1="817.5" y1="167.5" x2="776" y2="167.5" stroke="#3ab0e2" stroke-width="0.9"/><polygon points="768.5,167.5 777.5,164.3 776.0,167.5 777.5,170.7" fill="#3ab0e2" />
<g clip-path="url(#cpPhoto)">
<rect x="924" y="4" width="288" height="200" fill="#a0cde5"/>
<rect x="924" y="4" width="40" height="200" fill="#86bcdc" opacity="0.8" filter="url(#blur2)"/>
<path d="M924.3,4.3C951.7,-0.6 1060.5,1.4 1088.7,4.3C1116.9,7.2 1101.5,18.0 1093.5,21.7C1085.5,25.4 1061.4,26.5 1040.5,26.5C1019.6,26.5 987.6,20.5 968.2,21.7C948.8,22.9 931.6,36.6 924.3,33.7C917.0,30.8 896.9,9.2 924.3,4.3Z" fill="#92c4e0" opacity="0.8" filter="url(#blur2)"/>
<path d="M1083.9,178.3C1105.7,172.5 1189.3,164.5 1210.4,168.7C1231.4,172.9 1232.2,197.8 1210.4,203.6C1188.5,209.4 1100.1,207.8 1079.0,203.6C1058.0,199.4 1062.0,184.1 1083.9,178.3Z" fill="#80b4d4" opacity="0.9" filter="url(#blur2)"/>
<path d="M924.3,166.3C928.4,158.4 940.4,160.2 948.9,156.6C957.4,153.0 967.0,148.0 975.4,144.6C983.9,141.2 991.9,137.1 999.5,136.1C1007.1,135.1 1016.8,136.3 1021.2,138.6C1025.6,140.8 1026.8,144.4 1026.0,149.4C1025.2,154.4 1022.0,163.1 1016.4,168.7C1010.8,174.3 1007.6,177.3 992.3,183.1C976.9,189.0 935.7,206.4 924.3,203.6C913.0,200.8 920.2,174.1 924.3,166.3Z" fill="#5c94dc" opacity="0.9" filter="url(#blur05)"/>
<path d="M924.3,168.7C927.6,162.4 936.8,165.5 944.1,166.3C951.4,167.1 955.3,172.5 968.2,173.5C981.0,174.5 1005.1,171.9 1021.2,172.3C1037.3,172.7 1054.5,175.1 1064.6,175.9C1074.7,176.7 1079.2,174.7 1081.9,177.1C1084.7,179.5 1082.2,185.9 1081.0,190.4C1079.7,194.8 1100.3,201.4 1074.2,203.6C1048.1,205.8 949.3,209.4 924.3,203.6C899.4,197.8 921.0,174.9 924.3,168.7Z" fill="#5a90da" filter="url(#blur05)"/>
<path d="M1021.2,175.9C1029.2,171.3 1054.5,176.8 1064.6,177.1C1074.7,177.4 1079.2,175.6 1081.9,177.8C1084.7,180.0 1082.2,185.9 1081.0,190.4C1079.7,194.9 1085.0,202.4 1074.2,204.8C1063.5,207.2 1025.2,209.6 1016.4,204.8C1007.6,200.0 1013.2,180.5 1021.2,175.9Z" fill="#4a7ecc" filter="url(#blur05)"/>
<path d="M963.4,204.8C954.3,202.4 961.0,195.0 962.2,190.4C963.4,185.7 966.0,180.1 970.6,177.1C975.2,174.1 983.5,172.3 989.9,172.3C996.3,172.3 1004.5,174.1 1009.2,177.1C1013.8,180.1 1016.4,185.7 1017.6,190.4C1018.8,195.0 1025.4,202.4 1016.4,204.8C1007.3,207.2 972.4,207.2 963.4,204.8Z" fill="#68a2e6" filter="url(#blur05)"/>
<path d="M1151.3,2.4C1158.6,-2.0 1201.5,-3.6 1211.6,2.4C1221.6,8.4 1216.0,32.9 1211.6,38.6C1207.1,44.2 1192.3,37.8 1185.1,36.1C1177.8,34.5 1173.8,34.5 1168.2,28.9C1162.6,23.3 1144.1,6.8 1151.3,2.4Z" fill="#4c6c9e" filter="url(#blur05)"/>
<path d="M1127.2,3.4C1136.9,1.1 1154.9,0.7 1163.4,3.4C1171.8,6.0 1175.2,14.2 1177.8,19.3C1180.4,24.3 1183.5,30.4 1179.0,33.7C1174.6,37.0 1161.2,37.5 1151.3,39.0C1141.5,40.6 1128.6,42.7 1120.0,42.9C1111.4,43.1 1103.3,42.5 1099.5,40.5C1095.7,38.5 1096.1,34.8 1097.1,30.8C1098.1,26.9 1100.5,21.4 1105.5,16.9C1110.6,12.3 1117.6,5.6 1127.2,3.4Z" fill="#4484de" filter="url(#blur05)"/>
<path d="M1179.0,33.7C1182.2,29.7 1189.3,26.3 1194.7,24.1C1200.1,21.9 1208.8,7.2 1211.6,20.5C1214.4,33.7 1214.4,89.4 1211.6,103.6C1208.8,117.9 1199.1,107.2 1194.7,106.0C1190.3,104.8 1187.3,102.0 1185.1,96.4C1182.9,90.8 1183.1,80.3 1181.4,72.3C1179.8,64.3 1175.8,54.6 1175.4,48.2C1175.0,41.8 1175.8,37.8 1179.0,33.7Z" fill="#3c7cdc" filter="url(#blur05)"/>
<path d="M1194.7,72.3C1198.9,67.9 1208.8,64.7 1211.6,69.9C1214.4,75.1 1214.4,97.6 1211.6,103.6C1208.8,109.6 1198.9,107.2 1194.7,106.0C1190.5,104.8 1186.3,102.0 1186.3,96.4C1186.3,90.8 1190.5,76.7 1194.7,72.3Z" fill="#4a84d8" opacity="0.7" filter="url(#blur1)"/>
<polygon points="947.7,28.9 1076.6,36.1 1151.3,37.3 1151.3,174.7 948.9,173.5" fill="#b6daec" opacity="0.45"/>
<g fill="none" stroke="#7c8088" stroke-width="1.6" opacity="0.9" stroke-linejoin="round"><path d="M971.8,42.2 L971.8,30.8 L1076.6,36.6"/><path d="M1008.7,44.6 L1008.7,38.1 L1076.6,41.0"/><path d="M1047.7,45.3 L1076.6,45.8"/><path d="M948.9,68.7 L948.9,173.5 L1157.3,174.0"/><path d="M948.9,70.4 L1059.8,71.3"/><path d="M970.6,94.0 L970.6,76.6 L1086.3,78.3"/><path d="M1012.8,96.4 L1012.8,84.8 L1086.3,85.5"/><path d="M1054.9,92.8 L1086.3,92.8"/><path d="M948.9,125.8 L1062.2,125.3"/><path d="M971.8,149.4 L971.8,136.9 L1086.3,135.4"/><path d="M1011.6,151.3 L1011.6,144.1 L1086.3,142.2"/><path d="M1054.9,151.3 L1086.3,149.4"/><path d="M1098.3,38.6 L1117.6,51.8 L1123.6,61.4"/><path d="M1124.8,88.0 L1124.8,112.0"/><path d="M1123.6,139.8 L1123.6,174.0"/></g>
<polygon points="954.9,42.2 989.9,42.2 989.9,68.7 954.9,68.7" fill="#b4c444" />
<polygon points="957.3,44.1 988.7,44.1 988.7,66.5 957.3,66.5" fill="#6a6028" />
<polygon points="958.3,44.6 987.2,44.6 987.2,65.5 958.3,65.5" fill="#a89a36" />
<polygon points="993.5,44.6 1027.2,44.6 1027.2,69.9 993.5,69.9" fill="#b4c444" />
<polygon points="995.9,46.5 1026.0,46.5 1026.0,67.7 995.9,67.7" fill="#6a6028" />
<polygon points="996.9,47.0 1024.6,47.0 1024.6,66.7 996.9,66.7" fill="#a89a36" />
<polygon points="1038.1,45.8 1069.4,45.8 1069.4,68.7 1038.1,68.7" fill="#b4c444" />
<polygon points="1040.5,47.7 1068.2,47.7 1068.2,66.5 1040.5,66.5" fill="#6a6028" />
<polygon points="1041.4,48.2 1066.7,48.2 1066.7,65.5 1041.4,65.5" fill="#a09034" />
<polygon points="953.7,92.8 988.7,92.8 988.7,125.3 953.7,125.3" fill="#b4c444" />
<polygon points="956.1,94.7 987.5,94.7 987.5,123.1 956.1,123.1" fill="#6a6028" />
<polygon points="957.1,95.2 986.0,95.2 986.0,122.2 957.1,122.2" fill="#a29232" />
<polygon points="995.9,95.2 1029.6,95.2 1029.6,128.9 995.9,128.9" fill="#b4c444" />
<polygon points="998.3,97.1 1028.4,97.1 1028.4,126.7 998.3,126.7" fill="#6a6028" />
<polygon points="999.3,97.6 1027.0,97.6 1027.0,125.8 999.3,125.8" fill="#b0a030" />
<polygon points="1042.9,92.8 1075.4,92.8 1075.4,122.9 1042.9,122.9" fill="#b4c444" />
<polygon points="1045.3,94.7 1074.2,94.7 1074.2,120.7 1045.3,120.7" fill="#6a6028" />
<polygon points="1046.3,95.2 1072.8,95.2 1072.8,119.8 1046.3,119.8" fill="#aa9a34" />
<polygon points="954.9,148.9 989.9,148.9 989.9,171.6 954.9,171.6" fill="#80a050" />
<polygon points="957.3,150.8 988.7,150.8 988.7,169.4 957.3,169.4" fill="#5a5430" />
<polygon points="958.3,151.3 987.2,151.3 987.2,168.4 958.3,168.4" fill="#8a7c44" />
<polygon points="995.9,150.6 1028.4,150.6 1028.4,171.6 995.9,171.6" fill="#84a450" />
<polygon points="998.3,152.5 1027.2,152.5 1027.2,169.4 998.3,169.4" fill="#5a5430" />
<polygon points="999.3,153.0 1025.8,153.0 1025.8,168.4 999.3,168.4" fill="#8c8046" />
<polygon points="1039.3,150.6 1071.8,150.6 1071.8,171.6 1039.3,171.6" fill="#98b040" />
<polygon points="1041.7,152.5 1070.6,152.5 1070.6,169.4 1041.7,169.4" fill="#6a6028" />
<polygon points="1042.7,153.0 1069.2,153.0 1069.2,168.4 1042.7,168.4" fill="#b49c38" />
<path d="M1075.4,35.7 L1091.1,36.6 Q1097.1,106.0 1089.9,175.4 L1079.8,175.4 Q1088.7,106.0 1075.4,35.7 Z" fill="#f0d23e"/>
<path d="M1075.4,35.7 Q1088.7,106.0 1079.8,175.4" fill="none" stroke="#a8b840" stroke-width="1.6"/>
<path d="M1091.1,36.6 Q1097.1,106.0 1089.9,175.4" fill="none" stroke="#c0b838" stroke-width="1"/>
<polygon points="1107.2,58.6 1141.0,58.6 1141.0,91.3 1107.2,91.3" fill="#c4e0f0" opacity="0.6"/>
<polygon points="1111.6,61.4 1133.7,61.4 1133.7,80.7 1111.6,80.7" fill="#a8a4a8" />
<polygon points="1116.9,66.7 1138.1,66.7 1138.1,88.0 1116.9,88.0" fill="#c4c6ce" />
<path d="M1116.9,65.8 L1116.9,80.7 L1121.2,80.7 L1121.2,68.7 L1125.1,68.7 L1125.1,80.7 L1129.4,80.7 L1129.4,65.8" fill="none" stroke="#e4e8f0" stroke-width="1.4"/>
<polygon points="1108.4,109.2 1139.8,109.2 1139.8,143.1 1108.4,143.1" fill="#c4e0f0" opacity="0.6"/>
<polygon points="1112.8,112.0 1132.5,112.0 1132.5,132.5 1112.8,132.5" fill="#a8a4a8" />
<polygon points="1118.1,117.3 1136.9,117.3 1136.9,139.8 1118.1,139.8" fill="#c4c6ce" />
<path d="M1118.1,116.4 L1118.1,132.5 L1122.4,132.5 L1122.4,119.3 L1126.3,119.3 L1126.3,132.5 L1130.6,132.5 L1130.6,116.4" fill="none" stroke="#e4e8f0" stroke-width="1.4"/>
<polygon points="1150.1,36.1 1182.7,33.7 1185.1,67.5 1163.4,70.4 1157.3,60.2" fill="#a09440" opacity="0.95"/>
<path d="M1158.6,41.0C1160.6,35.7 1174.0,32.5 1177.8,36.1C1181.6,39.8 1183.5,57.4 1181.4,62.7C1179.4,67.9 1169.6,71.1 1165.8,67.5C1162.0,63.9 1156.5,46.2 1158.6,41.0Z" fill="#5a5228" opacity="0.75" filter="url(#blur1)"/>
<polygon points="1154.9,57.8 1163.9,68.7 1163.9,142.7 1155.7,142.7" fill="#a4ac48" opacity="0.92"/>
<polygon points="1162.9,69.9 1185.1,67.5 1185.1,139.8 1163.4,142.7" fill="#ae9664" />
<polygon points="1162.9,68.4 1184.6,65.5 1185.1,70.4 1163.4,72.8" fill="#2a2418" opacity="0.85"/>
<path d="M1170.6,79.5C1172.4,69.5 1180.6,67.9 1182.7,77.1C1184.7,86.3 1184.9,124.9 1183.1,134.9C1181.3,145.0 1173.9,146.6 1171.8,137.3C1169.7,128.1 1168.8,89.6 1170.6,79.5Z" fill="#c0a878" opacity="0.6" filter="url(#blur1)"/>
<polygon points="1156.1,141.0 1185.1,138.6 1183.9,175.4 1157.3,175.4" fill="#a8a242" />
<polygon points="1171.1,141.0 1173.5,141.0 1173.0,174.7 1170.6,174.7" fill="#6e6a30" opacity="0.8"/>
</g>
<text x="937.5" y="28.6" font-size="16.6" fill="#f236b4" text-anchor="start" font-weight="bold" textLength="59" lengthAdjust="spacing" >Sensors</text>
<text x="1098" y="56.8" font-size="16.6" fill="#f236b4" text-anchor="start" font-weight="bold" textLength="46" lengthAdjust="spacing" >ZIMB</text>
<text x="1128.5" y="157" font-size="16.6" fill="#f236b4" text-anchor="start" font-weight="bold" textLength="71.5" lengthAdjust="spacing" >Solar cell</text>
<rect x="512.5" y="200.5" width="149.0" height="207.3" fill="#c6e8ef"/>
<rect x="512.5" y="200.5" width="149.0" height="78" fill="#e5dcf2"/>
<rect x="512.5" y="278.5" width="149.0" height="16" fill="#cad8f0"/>
<g clip-path="url(#cpAdv)"><path d="M0,-10 L2.5,-5 L6,-7 L5,-2 L10,-3 L7,1.5 L9,3 L3.5,5.5 L4,8 L0.8,7 L0.8,12 L-0.8,12 L-0.8,7 L-4,8 L-3.5,5.5 L-9,3 L-7,1.5 L-10,-3 L-5,-2 L-6,-7 L-2.5,-5 Z" fill="#c4c2ea" opacity="0.9" transform="translate(573,208) rotate(180) scale(4.4)"/>
<path d="M0,-10 L2.5,-5 L6,-7 L5,-2 L10,-3 L7,1.5 L9,3 L3.5,5.5 L4,8 L0.8,7 L0.8,12 L-0.8,12 L-0.8,7 L-4,8 L-3.5,5.5 L-9,3 L-7,1.5 L-10,-3 L-5,-2 L-6,-7 L-2.5,-5 Z" fill="#c6c4ea" opacity="0.85" transform="translate(640,262) rotate(25) scale(3.6)"/>
<path d="M0,-10 L2.5,-5 L6,-7 L5,-2 L10,-3 L7,1.5 L9,3 L3.5,5.5 L4,8 L0.8,7 L0.8,12 L-0.8,12 L-0.8,7 L-4,8 L-3.5,5.5 L-9,3 L-7,1.5 L-10,-3 L-5,-2 L-6,-7 L-2.5,-5 Z" fill="#cac8ec" opacity="0.8" transform="translate(532,262) rotate(-25) scale(2.8)"/>
<path d="M0,-10 L2.5,-5 L6,-7 L5,-2 L10,-3 L7,1.5 L9,3 L3.5,5.5 L4,8 L0.8,7 L0.8,12 L-0.8,12 L-0.8,7 L-4,8 L-3.5,5.5 L-9,3 L-7,1.5 L-10,-3 L-5,-2 L-6,-7 L-2.5,-5 Z" fill="#aed8ec" opacity="0.8" transform="translate(573,340) rotate(0) scale(4.8)"/>
<path d="M0,-10 L2.5,-5 L6,-7 L5,-2 L10,-3 L7,1.5 L9,3 L3.5,5.5 L4,8 L0.8,7 L0.8,12 L-0.8,12 L-0.8,7 L-4,8 L-3.5,5.5 L-9,3 L-7,1.5 L-10,-3 L-5,-2 L-6,-7 L-2.5,-5 Z" fill="#acd4ec" opacity="0.8" transform="translate(642,388) rotate(-15) scale(3.4)"/>
<path d="M0,-10 L2.5,-5 L6,-7 L5,-2 L10,-3 L7,1.5 L9,3 L3.5,5.5 L4,8 L0.8,7 L0.8,12 L-0.8,12 L-0.8,7 L-4,8 L-3.5,5.5 L-9,3 L-7,1.5 L-10,-3 L-5,-2 L-6,-7 L-2.5,-5 Z" fill="#aed6ec" opacity="0.8" transform="translate(528,398) rotate(20) scale(3.0)"/>
</g>
<rect x="512.5" y="200.5" width="149.0" height="207.3" fill="none" stroke="#3a8fd2" stroke-width="2.3" stroke-dasharray="4.4 2.4"/>
<text x="531.5" y="221" font-size="17.2" fill="#dc5cb6" text-anchor="start" font-weight="bold" textLength="102" lengthAdjust="spacing" >Cathode-free</text>
<text x="531.5" y="239.5" font-size="17.2" fill="#dc5cb6" text-anchor="start" font-weight="bold" textLength="110" lengthAdjust="spacing" >battery design</text>
<text x="528" y="267.5" font-size="17.2" fill="#dc5cb6" text-anchor="start" font-weight="bold" textLength="126" lengthAdjust="spacing" >All in one device</text>
<text x="539.5" y="291" font-size="17.2" fill="#dc5cb6" text-anchor="start" font-weight="bold" textLength="91" lengthAdjust="spacing" >Advantages</text>
<text x="517.5" y="309" font-size="14.7" fill="#d070c0" text-anchor="start" font-weight="bold" textLength="140" lengthAdjust="spacing" ><tspan fill="#5a62c8">1:</tspan> Simple manufactu-</text>
<text x="517.5" y="323.8" font-size="14.7" fill="#d070c0" text-anchor="start" font-weight="bold" textLength="78" lengthAdjust="spacing" >ring process</text>
<text x="517.5" y="341" font-size="14.7" fill="#d070c0" text-anchor="start" font-weight="bold" textLength="129" lengthAdjust="spacing" ><tspan fill="#5a62c8">2:</tspan> Direct conversion</text>
<text x="517.5" y="356" font-size="14.7" fill="#d070c0" text-anchor="start" font-weight="bold" textLength="110" lengthAdjust="spacing" >and utilization of</text>
<text x="517.5" y="371.4" font-size="14.7" fill="#d070c0" text-anchor="start" font-weight="bold" textLength="78" lengthAdjust="spacing" >solar energy</text>
<text x="517.5" y="387.6" font-size="14.7" fill="#d070c0" text-anchor="start" font-weight="bold" textLength="130" lengthAdjust="spacing" ><tspan fill="#5a62c8">3:</tspan> Highly integrated</text>
<text x="517.5" y="402" font-size="14.7" fill="#d070c0" text-anchor="start" font-weight="bold" textLength="43" lengthAdjust="spacing" >system</text>
<circle cx="671.3" cy="309.8" r="6.2" fill="url(#gZn)"/>
<circle cx="671.3" cy="338.0" r="6.2" fill="url(#gMn)"/>
<circle cx="671.3" cy="365.6" r="6.2" fill="url(#gSO)"/>
<text x="681" y="315.5" font-size="18" fill="#4cc0f0" text-anchor="start" font-weight="bold" letter-spacing="1">Zn<tspan dy="-7" font-size="9">2+</tspan></text>
<text x="681" y="343.5" font-size="18" fill="#a878ec" text-anchor="start" font-weight="bold" letter-spacing="1">Mn<tspan dy="-7" font-size="9">2+</tspan></text>
<text x="680" y="372" font-size="18" fill="#f0a090" text-anchor="start" font-weight="bold" letter-spacing="0.6">SO<tspan dy="3" font-size="9">4</tspan><tspan dy="-11" font-size="9">2-</tspan></text>
<rect x="987.5" y="205.5" width="222.5" height="131.5" fill="url(#gCyanTop)"/>
<rect x="987.5" y="336.8" width="222.5" height="44.5" fill="url(#gDepo)"/>
<rect x="987.5" y="380.8" width="222.5" height="18.9" fill="#9a6cb8"/>
<rect x="987.5" y="399.5" width="222.5" height="9.6" fill="#727272"/>
<g clip-path="url(#cpDepo)">
<circle cx="1121.7" cy="234.4" r="26" fill="#bfeaf6" opacity="0.85"/>
<g><line x1="1121.7" y1="217.9" x2="1115.6" y2="213.8" stroke="#b8a0a0" stroke-width="2.0"/><line x1="1121.7" y1="217.9" x2="1127.8" y2="213.8" stroke="#b8a0a0" stroke-width="2.0"/><circle cx="1121.7" cy="217.9" r="4.0" fill="url(#gRed)"/>
<circle cx="1114.6" cy="213.1" r="3.1" fill="url(#gWhite)"/>
<circle cx="1128.8" cy="213.1" r="3.1" fill="url(#gWhite)"/>
</g>
<g><line x1="1138.2" y1="234.4" x2="1142.3" y2="228.3" stroke="#b8a0a0" stroke-width="2.0"/><line x1="1138.2" y1="234.4" x2="1142.3" y2="240.5" stroke="#b8a0a0" stroke-width="2.0"/><circle cx="1138.2" cy="234.4" r="4.0" fill="url(#gRed)"/>
<circle cx="1143.0" cy="227.3" r="3.1" fill="url(#gWhite)"/>
<circle cx="1143.0" cy="241.5" r="3.1" fill="url(#gWhite)"/>
</g>
<g><line x1="1121.7" y1="250.9" x2="1127.8" y2="255.0" stroke="#b8a0a0" stroke-width="2.0"/><line x1="1121.7" y1="250.9" x2="1115.6" y2="255.0" stroke="#b8a0a0" stroke-width="2.0"/><circle cx="1121.7" cy="250.9" r="4.0" fill="url(#gRed)"/>
<circle cx="1128.8" cy="255.7" r="3.1" fill="url(#gWhite)"/>
<circle cx="1114.6" cy="255.7" r="3.1" fill="url(#gWhite)"/>
</g>
<g><line x1="1105.2" y1="234.4" x2="1101.1" y2="240.5" stroke="#b8a0a0" stroke-width="2.0"/><line x1="1105.2" y1="234.4" x2="1101.1" y2="228.3" stroke="#b8a0a0" stroke-width="2.0"/><circle cx="1105.2" cy="234.4" r="4.0" fill="url(#gRed)"/>
<circle cx="1100.4" cy="241.5" r="3.1" fill="url(#gWhite)"/>
<circle cx="1100.4" cy="227.3" r="3.1" fill="url(#gWhite)"/>
</g>
<circle cx="1121.7" cy="234.4" r="10" fill="url(#gMn)"/>
<text x="1121.2" y="237.4" font-size="8.6" fill="#3a2a5a" text-anchor="middle" font-weight="bold" >Mn<tspan dy="-3.2" font-size="5">2+</tspan></text>
<circle cx="1054.3" cy="278.6" r="26" fill="#bfeaf6" opacity="0.85"/>
<g><line x1="1054.3" y1="262.1" x2="1048.2" y2="258.0" stroke="#b8a0a0" stroke-width="2.0"/><line x1="1054.3" y1="262.1" x2="1060.4" y2="258.0" stroke="#b8a0a0" stroke-width="2.0"/><circle cx="1054.3" cy="262.1" r="4.0" fill="url(#gRed)"/>
<circle cx="1047.2" cy="257.3" r="3.1" fill="url(#gWhite)"/>
<circle cx="1061.4" cy="257.3" r="3.1" fill="url(#gWhite)"/>
</g>
<g><line x1="1070.8" y1="278.6" x2="1074.9" y2="272.5" stroke="#b8a0a0" stroke-width="2.0"/><line x1="1070.8" y1="278.6" x2="1074.9" y2="284.7" stroke="#b8a0a0" stroke-width="2.0"/><circle cx="1070.8" cy="278.6" r="4.0" fill="url(#gRed)"/>
<circle cx="1075.6" cy="271.5" r="3.1" fill="url(#gWhite)"/>
<circle cx="1075.6" cy="285.7" r="3.1" fill="url(#gWhite)"/>
</g>
<g><line x1="1054.3" y1="295.1" x2="1060.4" y2="299.2" stroke="#b8a0a0" stroke-width="2.0"/><line x1="1054.3" y1="295.1" x2="1048.2" y2="299.2" stroke="#b8a0a0" stroke-width="2.0"/><circle cx="1054.3" cy="295.1" r="4.0" fill="url(#gRed)"/>
<circle cx="1061.4" cy="299.9" r="3.1" fill="url(#gWhite)"/>
<circle cx="1047.2" cy="299.9" r="3.1" fill="url(#gWhite)"/>
</g>
<g><line x1="1037.8" y1="278.6" x2="1033.7" y2="284.7" stroke="#b8a0a0" stroke-width="2.0"/><line x1="1037.8" y1="278.6" x2="1033.7" y2="272.5" stroke="#b8a0a0" stroke-width="2.0"/><circle cx="1037.8" cy="278.6" r="4.0" fill="url(#gRed)"/>
<circle cx="1033.0" cy="285.7" r="3.1" fill="url(#gWhite)"/>
<circle cx="1033.0" cy="271.5" r="3.1" fill="url(#gWhite)"/>
</g>
<circle cx="1054.3" cy="278.6" r="10" fill="url(#gMn)"/>
<text x="1053.8" y="281.6" font-size="8.6" fill="#3a2a5a" text-anchor="middle" font-weight="bold" >Mn<tspan dy="-3.2" font-size="5">2+</tspan></text>
<circle cx="1178.8" cy="269.8" r="26" fill="#bfeaf6" opacity="0.85"/>
<g><line x1="1178.8" y1="253.3" x2="1172.7" y2="249.2" stroke="#b8a0a0" stroke-width="2.0"/><line x1="1178.8" y1="253.3" x2="1184.9" y2="249.2" stroke="#b8a0a0" stroke-width="2.0"/><circle cx="1178.8" cy="253.3" r="4.0" fill="url(#gRed)"/>
<circle cx="1171.7" cy="248.5" r="3.1" fill="url(#gWhite)"/>
<circle cx="1185.9" cy="248.5" r="3.1" fill="url(#gWhite)"/>
</g>
<g><line x1="1195.3" y1="269.8" x2="1199.4" y2="263.7" stroke="#b8a0a0" stroke-width="2.0"/><line x1="1195.3" y1="269.8" x2="1199.4" y2="275.9" stroke="#b8a0a0" stroke-width="2.0"/><circle cx="1195.3" cy="269.8" r="4.0" fill="url(#gRed)"/>
<circle cx="1200.1" cy="262.7" r="3.1" fill="url(#gWhite)"/>
<circle cx="1200.1" cy="276.9" r="3.1" fill="url(#gWhite)"/>
</g>
<g><line x1="1178.8" y1="286.3" x2="1184.9" y2="290.4" stroke="#b8a0a0" stroke-width="2.0"/><line x1="1178.8" y1="286.3" x2="1172.7" y2="290.4" stroke="#b8a0a0" stroke-width="2.0"/><circle cx="1178.8" cy="286.3" r="4.0" fill="url(#gRed)"/>
<circle cx="1185.9" cy="291.1" r="3.1" fill="url(#gWhite)"/>
<circle cx="1171.7" cy="291.1" r="3.1" fill="url(#gWhite)"/>
</g>
<g><line x1="1162.3" y1="269.8" x2="1158.2" y2="275.9" stroke="#b8a0a0" stroke-width="2.0"/><line x1="1162.3" y1="269.8" x2="1158.2" y2="263.7" stroke="#b8a0a0" stroke-width="2.0"/><circle cx="1162.3" cy="269.8" r="4.0" fill="url(#gRed)"/>
<circle cx="1157.5" cy="276.9" r="3.1" fill="url(#gWhite)"/>
<circle cx="1157.5" cy="262.7" r="3.1" fill="url(#gWhite)"/>
</g>
<circle cx="1178.8" cy="269.8" r="10" fill="url(#gMn)"/>
<text x="1178.3" y="272.8" font-size="8.6" fill="#3a2a5a" text-anchor="middle" font-weight="bold" >Mn<tspan dy="-3.2" font-size="5">2+</tspan></text>
<circle cx="1077.3" cy="331.5" r="26" fill="#bfeaf6" opacity="0.85"/>
<g><line x1="1067.8" y1="318.0" x2="1060.4" y2="318.1" stroke="#b8a0a0" stroke-width="2.0"/><line x1="1067.8" y1="318.0" x2="1070.5" y2="311.1" stroke="#b8a0a0" stroke-width="2.0"/><circle cx="1067.8" cy="318.0" r="4.0" fill="url(#gRed)"/>
<circle cx="1059.2" cy="318.1" r="3.1" fill="url(#gWhite)"/>
<circle cx="1070.9" cy="310.0" r="3.1" fill="url(#gWhite)"/>
</g>
<g><line x1="1087.9" y1="318.9" x2="1085.9" y2="311.7" stroke="#b8a0a0" stroke-width="2.0"/><line x1="1087.9" y1="318.9" x2="1095.3" y2="319.6" stroke="#b8a0a0" stroke-width="2.0"/><circle cx="1087.9" cy="318.9" r="4.0" fill="url(#gRed)"/>
<circle cx="1085.5" cy="310.6" r="3.1" fill="url(#gWhite)"/>
<circle cx="1096.5" cy="319.8" r="3.1" fill="url(#gWhite)"/>
</g>
<circle cx="1077.3" cy="331.5" r="10" fill="url(#gMn)"/>
<text x="1076.8" y="334.5" font-size="8.6" fill="#3a2a5a" text-anchor="middle" font-weight="bold" >Mn<tspan dy="-3.2" font-size="5">2+</tspan></text>
<g><line x1="1021.2" y1="228.7" x2="1023.7" y2="216.2" stroke="#c0b0b0" stroke-width="2.2"/><line x1="1021.2" y1="228.7" x2="1009.4" y2="231.2" stroke="#c0b0b0" stroke-width="2.2"/><circle cx="1021.2" cy="228.7" r="5.4" fill="url(#gRed)"/>
<circle cx="1023.7" cy="216.2" r="4.3" fill="url(#gWhite)"/>
<circle cx="1009.4" cy="231.2" r="4.3" fill="url(#gWhite)"/>
</g>
<g><line x1="1067.8" y1="227.4" x2="1056.0" y2="224.4" stroke="#c0b0b0" stroke-width="2.2"/><line x1="1067.8" y1="227.4" x2="1071.0" y2="239.2" stroke="#c0b0b0" stroke-width="2.2"/><circle cx="1067.8" cy="227.4" r="5.4" fill="url(#gRed)"/>
<circle cx="1056.0" cy="224.4" r="4.3" fill="url(#gWhite)"/>
<circle cx="1071.0" cy="239.2" r="4.3" fill="url(#gWhite)"/>
</g>
<g><line x1="1189.0" y1="224.2" x2="1187.5" y2="211.2" stroke="#c0b0b0" stroke-width="2.2"/><line x1="1189.0" y1="224.2" x2="1202.0" y2="226.7" stroke="#c0b0b0" stroke-width="2.2"/><circle cx="1189.0" cy="224.2" r="5.4" fill="url(#gRed)"/>
<circle cx="1187.5" cy="211.2" r="4.3" fill="url(#gWhite)"/>
<circle cx="1202.0" cy="226.7" r="4.3" fill="url(#gWhite)"/>
</g>
<g><line x1="1112.2" y1="285.6" x2="1124.0" y2="285.6" stroke="#c0b0b0" stroke-width="2.2"/><line x1="1112.2" y1="285.6" x2="1106.7" y2="297.3" stroke="#c0b0b0" stroke-width="2.2"/><circle cx="1112.2" cy="285.6" r="5.4" fill="url(#gRed)"/>
<circle cx="1124.0" cy="285.6" r="4.3" fill="url(#gWhite)"/>
<circle cx="1106.7" cy="297.3" r="4.3" fill="url(#gWhite)"/>
</g>
<g><line x1="1157.1" y1="312.7" x2="1145.1" y2="302.8" stroke="#c0b0b0" stroke-width="2.2"/><line x1="1157.1" y1="312.7" x2="1155.4" y2="325.2" stroke="#c0b0b0" stroke-width="2.2"/><circle cx="1157.1" cy="312.7" r="5.4" fill="url(#gRed)"/>
<circle cx="1145.1" cy="302.8" r="4.3" fill="url(#gWhite)"/>
<circle cx="1155.4" cy="325.2" r="4.3" fill="url(#gWhite)"/>
</g>
<g><line x1="1189.5" y1="345.2" x2="1195.0" y2="334.2" stroke="#c0b0b0" stroke-width="2.2"/><line x1="1189.5" y1="345.2" x2="1178.3" y2="345.2" stroke="#c0b0b0" stroke-width="2.2"/><circle cx="1189.5" cy="345.2" r="5.4" fill="url(#gRed)"/>
<circle cx="1195.0" cy="334.2" r="4.3" fill="url(#gWhite)"/>
<circle cx="1178.3" cy="345.2" r="4.3" fill="url(#gWhite)"/>
</g>
<g><line x1="1012.4" y1="347.2" x2="1024.4" y2="346.4" stroke="#c0b0b0" stroke-width="2.2"/><line x1="1012.4" y1="347.2" x2="1007.0" y2="357.9" stroke="#c0b0b0" stroke-width="2.2"/><circle cx="1012.4" cy="347.2" r="5.4" fill="url(#gRed)"/>
<circle cx="1024.4" cy="346.4" r="4.3" fill="url(#gWhite)"/>
<circle cx="1007.0" cy="357.9" r="4.3" fill="url(#gWhite)"/>
</g>
<circle cx="1105.5" cy="361" r="27" fill="#d4dca0" opacity="0.5"/>
<circle cx="1091.7" cy="370.4" r="10" fill="url(#gMn)" opacity="0.55"/>
<text x="1091.2" y="373.7" font-size="9.5" fill="#5a6a3a" text-anchor="middle" font-weight="bold" opacity="0.8">Mn<tspan dy="-3.5" font-size="5.5">2+</tspan></text>
<g opacity="0.7"><line x1="1111.5" y1="362.6" x2="1117.5" y2="349.0" stroke="#c0b0b0" stroke-width="2.2"/><line x1="1111.5" y1="362.6" x2="1123.0" y2="373.5" stroke="#c0b0b0" stroke-width="2.2"/><circle cx="1111.5" cy="362.6" r="5.5" fill="url(#gRed)"/>
<circle cx="1117.5" cy="349.0" r="4.6" fill="url(#gWhite)"/>
<circle cx="1123.0" cy="373.5" r="4.6" fill="url(#gWhite)"/>
</g>
<circle cx="1129.7" cy="329.7" r="5.3" fill="url(#gGrey2)"/>
<text x="1129.4" y="332.4" font-size="7.5" fill="#222" text-anchor="middle" font-weight="bold" >H<tspan dy="-2.5" font-size="4.5">+</tspan></text>
<circle cx="1158.4" cy="357.6" r="5.3" fill="url(#gGrey2)"/>
<text x="1158.1000000000001" y="360.3" font-size="7.5" fill="#222" text-anchor="middle" font-weight="bold" >H<tspan dy="-2.5" font-size="4.5">+</tspan></text>
<circle cx="1046.1" cy="389.2" r="5.6" fill="url(#gGrey2)"/>
<text x="1046.1" y="393" font-size="12" fill="#333" text-anchor="middle" font-weight="bold" >e</text>
<circle cx="1064.8" cy="389.2" r="5.6" fill="url(#gGrey2)"/>
<text x="1064.8" y="393" font-size="12" fill="#333" text-anchor="middle" font-weight="bold" >e</text>
<circle cx="1083.5" cy="389.2" r="5.6" fill="url(#gGrey2)"/>
<text x="1083.5" y="393" font-size="12" fill="#333" text-anchor="middle" font-weight="bold" >e</text>
<circle cx="1102.2" cy="389.2" r="5.6" fill="url(#gGrey2)"/>
<text x="1102.2" y="393" font-size="12" fill="#333" text-anchor="middle" font-weight="bold" >e</text>
<circle cx="1120.9" cy="389.2" r="5.6" fill="url(#gGrey2)"/>
<text x="1120.9" y="393" font-size="12" fill="#333" text-anchor="middle" font-weight="bold" >e</text>
<circle cx="1139.6" cy="389.2" r="5.6" fill="url(#gGrey2)"/>
<text x="1139.6" y="393" font-size="12" fill="#333" text-anchor="middle" font-weight="bold" >e</text>
<text x="995.5" y="394.6" font-size="13" fill="#3a3040" text-anchor="start" font-weight="bold" letter-spacing="0.5">MnO<tspan dy="2.5" font-size="7.5">2</tspan></text>
<text x="1137" y="376.6" font-size="12.8" fill="#d822a0" text-anchor="start" font-weight="bold" textLength="58.5" lengthAdjust="spacing" >Deposition</text>
<path d="M1025,290 C1026,330 1034,362 1062,371.5" fill="none" stroke="#e868dc" stroke-width="2" stroke-dasharray="4.5 2.2"/>
<path d="M1058,366 L1066,372 L1057.5,378 M1064,367 L1073,372.3 L1064,378.5" fill="none" stroke="#e868dc" stroke-width="1.8"/>
<text x="0" y="0" font-size="12.8" fill="#d822a0" text-anchor="start" font-weight="bold" textLength="66" lengthAdjust="spacing" transform="translate(1028.5,301.5) rotate(66.5)">Desolvation</text>
</g>
<polygon points="715.0,258.0 776.0,251.6 777.0,262.0 730.5,287.0 741.0,393.5 733.0,396.0" fill="#2f8fe2" />
<polygon points="715.0,258.0 730.5,262.0 741.0,393.5 733.0,396.0" fill="#2a86d8" />
<polygon points="730.5,262.0 776.0,251.6 777.5,276.0 730.5,287.0" fill="#3a98e8" />
<path d="M779.0,273.0C782.5,272.5 793.2,270.1 800.0,270.0C806.8,269.9 813.3,272.7 820.0,272.5C826.7,272.3 833.3,269.2 840.0,269.0C846.7,268.8 853.3,271.7 860.0,271.5C866.7,271.3 873.3,268.1 880.0,268.0C886.7,267.9 894.0,270.3 900.0,271.0C906.0,271.7 913.3,271.8 916.0,272.0 L916,402 L880,400 L840,398.5 L800,397 L741,393.5 L781.5,357.8 Z" fill="url(#gElec)"/>
<path d="M741,393.5 L781.5,357.8 L781.5,397 Z" fill="#8496ac"/>
<path d="M779.0,271.3C781.9,271.1 790.5,269.7 796.2,270.1C801.9,270.5 807.7,273.9 813.4,273.8C819.1,273.6 824.9,269.8 830.6,269.5C836.3,269.2 842.1,271.2 847.8,271.9C853.5,272.7 859.3,274.3 865.0,273.9C870.7,273.6 876.5,270.1 882.2,269.8C887.9,269.5 893.7,271.8 899.4,272.2C905.1,272.6 913.7,272.5 916.6,272.5" fill="none" stroke="#c8dcf0" stroke-width="0.8" opacity="0.6"/>
<path d="M779.0,273.7C781.9,273.9 790.5,275.2 796.2,275.3C801.9,275.4 807.7,274.0 813.4,274.0C819.1,274.1 824.9,275.7 830.6,275.4C836.3,275.2 842.1,273.0 847.8,272.6C853.5,272.2 859.3,273.0 865.0,273.0C870.7,272.9 876.5,272.1 882.2,272.3C887.9,272.6 893.7,273.6 899.4,274.3C905.1,275.0 913.7,276.1 916.6,276.4" fill="none" stroke="#c8dcf0" stroke-width="0.8" opacity="0.6"/>
<path d="M779.0,280.0C781.9,279.6 790.5,278.0 796.2,278.0C801.9,278.0 807.7,280.0 813.4,279.8C819.1,279.6 824.9,277.0 830.6,276.6C836.3,276.2 842.1,277.1 847.8,277.5C853.5,278.0 859.3,279.1 865.0,279.5C870.7,279.8 876.5,279.9 882.2,279.7C887.9,279.5 893.7,278.7 899.4,278.2C905.1,277.7 913.7,276.8 916.6,276.5" fill="none" stroke="#c8dcf0" stroke-width="0.8" opacity="0.6"/>
<path d="M779.0,279.7C781.9,279.7 790.5,279.5 796.2,280.0C801.9,280.5 807.7,282.7 813.4,282.7C819.1,282.6 824.9,279.6 830.6,279.6C836.3,279.7 842.1,282.5 847.8,283.1C853.5,283.6 859.3,283.7 865.0,283.0C870.7,282.3 876.5,279.3 882.2,278.9C887.9,278.5 893.7,280.2 899.4,280.5C905.1,280.9 913.7,281.0 916.6,281.1" fill="none" stroke="#c8dcf0" stroke-width="0.8" opacity="0.6"/>
<path d="M779.0,287.5C781.9,287.9 790.5,290.1 796.2,289.9C801.9,289.6 807.7,286.2 813.4,285.9C819.1,285.6 824.9,288.3 830.6,288.3C836.3,288.3 842.1,286.0 847.8,286.0C853.5,285.9 859.3,287.6 865.0,288.2C870.7,288.9 876.5,290.1 882.2,289.8C887.9,289.5 893.7,287.1 899.4,286.4C905.1,285.6 913.7,285.6 916.6,285.4" fill="none" stroke="#c8dcf0" stroke-width="0.8" opacity="0.6"/>
<path d="M779.0,291.4C781.9,290.9 790.5,289.1 796.2,288.8C801.9,288.4 807.7,288.7 813.4,289.1C819.1,289.5 824.9,290.5 830.6,291.2C836.3,291.8 842.1,293.3 847.8,293.3C853.5,293.2 859.3,291.2 865.0,290.8C870.7,290.3 876.5,290.5 882.2,290.7C887.9,290.8 893.7,292.1 899.4,291.9C905.1,291.6 913.7,289.6 916.6,289.1" fill="none" stroke="#c8dcf0" stroke-width="0.8" opacity="0.6"/>
<path d="M779.0,293.7C781.9,294.1 790.5,295.2 796.2,295.9C801.9,296.6 807.7,298.1 813.4,297.7C819.1,297.2 824.9,293.5 830.6,293.1C836.3,292.8 842.1,295.2 847.8,295.6C853.5,296.1 859.3,296.2 865.0,295.9C870.7,295.6 876.5,293.9 882.2,293.6C887.9,293.3 893.7,293.5 899.4,294.2C905.1,294.9 913.7,297.2 916.6,297.8" fill="none" stroke="#c8dcf0" stroke-width="0.8" opacity="0.6"/>
<path d="M760.0,385.5C763.2,384.8 773.0,381.4 779.5,381.1C786.0,380.9 792.5,383.3 799.0,384.0C805.5,384.7 812.0,385.6 818.5,385.3C825.0,384.9 831.5,382.0 838.0,381.7C844.5,381.4 851.0,383.7 857.5,383.6C864.0,383.4 870.5,380.9 877.0,380.7C883.5,380.5 890.0,381.8 896.5,382.3C903.0,382.9 912.8,383.6 916.0,383.9" fill="none" stroke="#a8c0dc" stroke-width="0.8" opacity="0.5"/>
<path d="M760.0,387.5C763.2,387.6 773.0,388.8 779.5,388.4C786.0,388.0 792.5,385.3 799.0,384.9C805.5,384.6 812.0,385.6 818.5,386.2C825.0,386.9 831.5,388.6 838.0,388.8C844.5,389.0 851.0,387.8 857.5,387.4C864.0,387.1 870.5,386.9 877.0,386.8C883.5,386.6 890.0,386.1 896.5,386.5C903.0,387.0 912.8,388.9 916.0,389.4" fill="none" stroke="#a8c0dc" stroke-width="0.8" opacity="0.5"/>
<path d="M760.0,391.4C763.2,390.9 773.0,388.4 779.5,388.6C786.0,388.8 792.5,392.2 799.0,392.5C805.5,392.8 812.0,390.4 818.5,390.1C825.0,389.8 831.5,390.8 838.0,390.7C844.5,390.6 851.0,389.6 857.5,389.6C864.0,389.6 870.5,390.6 877.0,390.7C883.5,390.8 890.0,390.4 896.5,390.1C903.0,389.8 912.8,389.1 916.0,388.9" fill="none" stroke="#a8c0dc" stroke-width="0.8" opacity="0.5"/>
<path d="M760.0,395.6C763.2,395.2 773.0,392.9 779.5,393.0C786.0,393.1 792.5,396.5 799.0,396.4C805.5,396.4 812.0,392.6 818.5,392.6C825.0,392.6 831.5,395.8 838.0,396.4C844.5,397.1 851.0,396.8 857.5,396.5C864.0,396.3 870.5,395.1 877.0,395.0C883.5,394.9 890.0,396.3 896.5,396.0C903.0,395.8 912.8,394.1 916.0,393.7" fill="none" stroke="#a8c0dc" stroke-width="0.8" opacity="0.5"/>
<path d="M770.0,283.0C771.0,285.2 773.0,291.2 776.0,296.0C779.0,300.8 784.0,307.2 788.0,312.0C792.0,316.8 796.0,320.7 800.0,325.0C804.0,329.3 807.7,333.8 812.0,338.0C816.3,342.2 821.0,346.0 826.0,350.0C831.0,354.0 836.7,358.3 842.0,362.0C847.3,365.7 855.3,370.3 858.0,372.0" fill="none" stroke="#e8f0fa" stroke-width="0.9" opacity="0.75"/>
<path d="M788.0,312.0C791.0,313.0 799.7,316.3 806.0,318.0C812.3,319.7 819.3,320.0 826.0,322.0C832.7,324.0 842.7,328.7 846.0,330.0" fill="none" stroke="#e8f0fa" stroke-width="0.9" opacity="0.75"/>
<path d="M812.0,338.0C815.0,337.7 823.3,335.7 830.0,336.0C836.7,336.3 845.0,339.7 852.0,340.0C859.0,340.3 868.7,338.3 872.0,338.0" fill="none" stroke="#e8f0fa" stroke-width="0.9" opacity="0.75"/>
<path d="M800.0,325.0C800.7,327.5 800.7,334.8 804.0,340.0C807.3,345.2 815.3,350.7 820.0,356.0C824.7,361.3 830.0,369.3 832.0,372.0" fill="none" stroke="#e8f0fa" stroke-width="0.9" opacity="0.75"/>
<path d="M826.0,322.0C827.3,319.7 830.7,311.7 834.0,308.0C837.3,304.3 844.0,301.3 846.0,300.0" fill="none" stroke="#e8f0fa" stroke-width="0.9" opacity="0.75"/>
<polygon points="730.5,287.0 779.0,275.8 782.0,357.8 741.0,393.5" fill="#5876d6" />
<g stroke="#8a98e8" stroke-width="0.5" opacity="0.7"><line x1="730.5" y1="287.0" x2="779.0" y2="275.8" stroke-dasharray="1 1"/><line x1="730.8" y1="290.2" x2="779.1" y2="278.3" stroke-dasharray="1 1"/><line x1="731.1" y1="293.5" x2="779.2" y2="280.8" stroke-dasharray="1 1"/><line x1="731.5" y1="296.7" x2="779.3" y2="283.3" stroke-dasharray="1 1"/><line x1="731.8" y1="299.9" x2="779.4" y2="285.7" stroke-dasharray="1 1"/><line x1="732.1" y1="303.1" x2="779.5" y2="288.2" stroke-dasharray="1 1"/><line x1="732.4" y1="306.4" x2="779.5" y2="290.7" stroke-dasharray="1 1"/><line x1="732.7" y1="309.6" x2="779.6" y2="293.2" stroke-dasharray="1 1"/><line x1="733.0" y1="312.8" x2="779.7" y2="295.7" stroke-dasharray="1 1"/><line x1="733.4" y1="316.0" x2="779.8" y2="298.2" stroke-dasharray="1 1"/><line x1="733.7" y1="319.3" x2="779.9" y2="300.6" stroke-dasharray="1 1"/><line x1="734.0" y1="322.5" x2="780.0" y2="303.1" stroke-dasharray="1 1"/><line x1="734.3" y1="325.7" x2="780.1" y2="305.6" stroke-dasharray="1 1"/><line x1="734.6" y1="329.0" x2="780.2" y2="308.1" stroke-dasharray="1 1"/><line x1="735.0" y1="332.2" x2="780.3" y2="310.6" stroke-dasharray="1 1"/><line x1="735.3" y1="335.4" x2="780.4" y2="313.1" stroke-dasharray="1 1"/><line x1="735.6" y1="338.6" x2="780.5" y2="315.6" stroke-dasharray="1 1"/><line x1="735.9" y1="341.9" x2="780.5" y2="318.0" stroke-dasharray="1 1"/><line x1="736.2" y1="345.1" x2="780.6" y2="320.5" stroke-dasharray="1 1"/><line x1="736.5" y1="348.3" x2="780.7" y2="323.0" stroke-dasharray="1 1"/><line x1="736.9" y1="351.5" x2="780.8" y2="325.5" stroke-dasharray="1 1"/><line x1="737.2" y1="354.8" x2="780.9" y2="328.0" stroke-dasharray="1 1"/><line x1="737.5" y1="358.0" x2="781.0" y2="330.5" stroke-dasharray="1 1"/><line x1="737.8" y1="361.2" x2="781.1" y2="333.0" stroke-dasharray="1 1"/><line x1="738.1" y1="364.5" x2="781.2" y2="335.4" stroke-dasharray="1 1"/><line x1="738.5" y1="367.7" x2="781.3" y2="337.9" stroke-dasharray="1 1"/><line x1="738.8" y1="370.9" x2="781.4" y2="340.4" stroke-dasharray="1 1"/><line x1="739.1" y1="374.1" x2="781.5" y2="342.9" stroke-dasharray="1 1"/><line x1="739.4" y1="377.4" x2="781.5" y2="345.4" stroke-dasharray="1 1"/><line x1="739.7" y1="380.6" x2="781.6" y2="347.9" stroke-dasharray="1 1"/><line x1="740.0" y1="383.8" x2="781.7" y2="350.3" stroke-dasharray="1 1"/><line x1="740.4" y1="387.0" x2="781.8" y2="352.8" stroke-dasharray="1 1"/><line x1="740.7" y1="390.3" x2="781.9" y2="355.3" stroke-dasharray="1 1"/><line x1="741.0" y1="393.5" x2="782.0" y2="357.8" stroke-dasharray="1 1"/></g>
<polygon points="923.0,262.4 937.2,261.4 925.8,409.5 915.3,408.5" fill="#7878d6" />
<polygon points="917.2,255.7 923.0,262.4 915.3,408.5 912.2,406.5" fill="#9f8ae8" />
<polygon points="917.2,255.7 924.8,253.8 937.2,261.4 923.0,262.4" fill="#b8a0f2" />
<polygon points="916.2,279.8 898.3,280.5 898.3,281.9 916.2,283.2" fill="#9850e8" stroke="#9850e8" stroke-width="0.8" stroke-linejoin="round"/><polygon points="916.1,284.2 902.0,286.3 902.0,287.7 916.1,287.6" fill="#b878fa" stroke="#b878fa" stroke-width="0.8" stroke-linejoin="round"/><polygon points="916.0,288.6 896.7,289.9 896.7,291.3 916.0,292.0" fill="#9850e8" stroke="#9850e8" stroke-width="0.8" stroke-linejoin="round"/><polygon points="915.8,293.0 898.3,292.6 898.3,294.0 915.8,296.4" fill="#b878fa" stroke="#b878fa" stroke-width="0.8" stroke-linejoin="round"/><polygon points="915.7,297.4 902.0,300.3 902.0,301.7 915.7,300.8" fill="#9850e8" stroke="#9850e8" stroke-width="0.8" stroke-linejoin="round"/><polygon points="915.6,301.8 900.5,301.3 900.5,302.7 915.6,305.2" fill="#a860f4" stroke="#a860f4" stroke-width="0.8" stroke-linejoin="round"/><polygon points="915.4,306.2 898.3,305.1 898.3,306.5 915.4,309.6" fill="#a860f4" stroke="#a860f4" stroke-width="0.8" stroke-linejoin="round"/><polygon points="915.3,310.6 899.1,312.9 899.1,314.3 915.3,314.0" fill="#b878fa" stroke="#b878fa" stroke-width="0.8" stroke-linejoin="round"/><polygon points="915.2,315.0 898.0,318.1 898.0,319.5 915.2,318.4" fill="#b878fa" stroke="#b878fa" stroke-width="0.8" stroke-linejoin="round"/><polygon points="915.0,319.4 899.8,320.3 899.8,321.7 915.0,322.8" fill="#b878fa" stroke="#b878fa" stroke-width="0.8" stroke-linejoin="round"/><polygon points="914.9,323.8 900.6,323.0 900.6,324.4 914.9,327.2" fill="#b878fa" stroke="#b878fa" stroke-width="0.8" stroke-linejoin="round"/><polygon points="914.8,328.2 897.1,327.3 897.1,328.7 914.8,331.6" fill="#a058ee" stroke="#a058ee" stroke-width="0.8" stroke-linejoin="round"/><polygon points="914.6,332.6 900.3,333.9 900.3,335.3 914.6,336.0" fill="#a058ee" stroke="#a058ee" stroke-width="0.8" stroke-linejoin="round"/><polygon points="914.5,337.0 897.5,339.3 897.5,340.7 914.5,340.4" fill="#b878fa" stroke="#b878fa" stroke-width="0.8" stroke-linejoin="round"/><polygon points="914.4,341.4 896.2,344.1 896.2,345.5 914.4,344.8" fill="#a058ee" stroke="#a058ee" stroke-width="0.8" stroke-linejoin="round"/><polygon points="914.2,345.8 898.6,348.7 898.6,350.1 914.2,349.2" fill="#b878fa" stroke="#b878fa" stroke-width="0.8" stroke-linejoin="round"/><polygon points="914.1,350.2 897.4,349.8 897.4,351.2 914.1,353.6" fill="#a860f4" stroke="#a860f4" stroke-width="0.8" stroke-linejoin="round"/><polygon points="914.0,354.6 899.5,356.9 899.5,358.3 914.0,358.0" fill="#a860f4" stroke="#a860f4" stroke-width="0.8" stroke-linejoin="round"/><polygon points="913.8,359.0 899.1,359.9 899.1,361.3 913.8,362.4" fill="#a058ee" stroke="#a058ee" stroke-width="0.8" stroke-linejoin="round"/><polygon points="913.7,363.4 899.7,364.6 899.7,366.0 913.7,366.8" fill="#b878fa" stroke="#b878fa" stroke-width="0.8" stroke-linejoin="round"/><polygon points="913.6,367.8 896.9,370.7 896.9,372.1 913.6,371.2" fill="#a860f4" stroke="#a860f4" stroke-width="0.8" stroke-linejoin="round"/><polygon points="913.4,372.2 896.4,373.6 896.4,375.0 913.4,375.6" fill="#a058ee" stroke="#a058ee" stroke-width="0.8" stroke-linejoin="round"/><polygon points="913.3,376.6 896.5,377.7 896.5,379.1 913.3,380.0" fill="#a860f4" stroke="#a860f4" stroke-width="0.8" stroke-linejoin="round"/><polygon points="913.2,381.0 894.4,382.3 894.4,383.7 913.2,384.4" fill="#b878fa" stroke="#b878fa" stroke-width="0.8" stroke-linejoin="round"/><polygon points="913.0,385.4 899.1,385.2 899.1,386.6 913.0,388.8" fill="#9850e8" stroke="#9850e8" stroke-width="0.8" stroke-linejoin="round"/><polygon points="912.9,389.8 898.8,391.7 898.8,393.1 912.9,393.2" fill="#a058ee" stroke="#a058ee" stroke-width="0.8" stroke-linejoin="round"/><polygon points="912.8,394.2 898.9,396.9 898.9,398.3 912.8,397.6" fill="#a860f4" stroke="#a860f4" stroke-width="0.8" stroke-linejoin="round"/><polygon points="912.6,398.6 895.1,397.5 895.1,398.9 912.6,402.0" fill="#9850e8" stroke="#9850e8" stroke-width="0.8" stroke-linejoin="round"/>
<polygon points="782.0,295.7 822.0,306.0 782.0,307.7" fill="#3aa8f0" opacity="0.55"/>
<polygon points="767.0,349.0 805.0,340.0 767.0,361.0" fill="#3aa8f0" opacity="0.55"/>
<polygon points="887.0,295.7 848.0,314.0 887.0,307.7" fill="#a060f0" opacity="0.55"/>
<polygon points="886.0,356.0 858.0,385.0 886.0,368.0" fill="#a060f0" opacity="0.55"/>
<circle cx="782.0" cy="301.7" r="6.8" fill="url(#gZn)"/>
<circle cx="850.0" cy="322.0" r="6.8" fill="url(#gZn)"/>
<circle cx="767.0" cy="355.0" r="6.8" fill="url(#gZn)"/>
<circle cx="865.0" cy="345.0" r="6.8" fill="url(#gZn)"/>
<circle cx="842.0" cy="379.0" r="6.8" fill="url(#gZn)"/>
<circle cx="836.0" cy="297.0" r="7.6" fill="url(#gMn)"/>
<circle cx="887.0" cy="301.7" r="7.6" fill="url(#gMn)"/>
<circle cx="812.0" cy="347.0" r="7.6" fill="url(#gMn)"/>
<circle cx="816.0" cy="373.7" r="7.6" fill="url(#gMn)"/>
<circle cx="886.0" cy="362.0" r="7.6" fill="url(#gMn)"/>
<circle cx="820.4" cy="316.0" r="8.2" fill="url(#gSO)"/>
<circle cx="795.0" cy="327.7" r="8.2" fill="url(#gSO)"/>
<circle cx="883.0" cy="331.0" r="8.2" fill="url(#gSO)"/>
<circle cx="838.0" cy="343.0" r="8.2" fill="url(#gSO)"/>
<circle cx="789.0" cy="374.0" r="8.2" fill="url(#gSO)"/>
<circle cx="878.4" cy="386.6" r="8.2" fill="url(#gSO)"/>
<ellipse cx="904.8" cy="320.8" rx="12.2" ry="11.2" fill="none" stroke="#e0409c" stroke-width="1.4" stroke-dasharray="3.2 2"/>
<path d="M760,200 C742,203 728,208 727,217 C726,226 736,228 740,238 C743,245 743,250 743,254" fill="none" stroke="#c83c9c" stroke-width="1.6"/>
<path d="M892,200 C905,203 920,206 921,216 C921,225 913,232 918,242 C921,248 923,252 924,256" fill="none" stroke="#c83c9c" stroke-width="1.6"/>
<polygon points="0,0 8,-3 8,3" fill="#c83c9c" transform="translate(733.5,206.5) rotate(-12)"/>
<polygon points="0,0 -3,8 3,8" fill="#c83c9c" transform="translate(918.5,213)"/>
<circle cx="761.2" cy="198.3" r="6.2" fill="url(#gGrey3)"/>
<circle cx="892.2" cy="198.3" r="6.2" fill="url(#gGrey3)"/>
<circle cx="737" cy="233.3" r="6.3" fill="url(#gGrey4)" stroke="#8c8c8c" stroke-width="0.6"/><text x="737" y="237.10000000000002" font-size="14" fill="#3a3a3a" text-anchor="middle" font-weight="bold" >e</text>
<circle cx="916" cy="234.8" r="6.3" fill="url(#gGrey4)" stroke="#8c8c8c" stroke-width="0.6"/><text x="916" y="238.60000000000002" font-size="14" fill="#3a3a3a" text-anchor="middle" font-weight="bold" >e</text>
<text x="756.8" y="235" font-size="21.4" fill="#dc58b4" text-anchor="start" font-weight="bold" textLength="146.6" lengthAdjust="spacing" >Light charging</text>
<text x="789.5" y="260" font-size="18.5" fill="#4a6cc0" text-anchor="start" font-weight="bold" textLength="22" lengthAdjust="spacing" >Zn</text>
<line x1="776" y1="277" x2="786.5" y2="263.5" stroke="#4a6cc0" stroke-width="0.9" stroke-dasharray="2 1.2"/><polygon points="788.2,261 787.6,266.2 784,263.6" fill="#4a6cc0"/>
<line x1="899" y1="310.5" x2="980" y2="212.5" stroke="#c83c9c" stroke-width="1.7"/><polygon points="0,0 -12,-4.6 -12,4.6" fill="#c83c9c" transform="translate(985,206.2) rotate(-50.5)"/>
<line x1="899" y1="332" x2="980" y2="402.5" stroke="#c83c9c" stroke-width="1.7"/><polygon points="0,0 -12,-4.6 -12,4.6" fill="#c83c9c" transform="translate(985.5,407.3) rotate(41)"/>
<text x="0" y="0" font-size="16.3" fill="#dc5cb6" text-anchor="middle" font-weight="bold" transform="translate(959,312) rotate(-90)" letter-spacing="1">MnO<tspan dy="3" font-size="10">2</tspan></text>
<text x="0" y="0" font-size="16.3" fill="#dc5cb6" text-anchor="middle" font-weight="bold" textLength="142" lengthAdjust="spacing" transform="translate(977,310) rotate(-90)">deposition process</text>
<rect x="25.5" y="415.5" width="213" height="413" fill="#fff" stroke="#000" stroke-width="1"/>
<path d="M77.3,432.6C81.1,434.1 93.1,437.8 100.3,441.4C107.5,444.9 115.4,449.5 120.4,453.9C125.4,458.3 127.7,462.9 130.4,467.7C133.1,472.5 134.3,477.1 136.7,482.7C139.0,488.3 142.2,496.1 144.5,501.5C146.8,506.9 148.2,510.1 150.5,515.3C152.8,520.5 154.7,527.4 158.0,532.9C161.3,538.4 166.0,544.0 170.6,548.0C175.2,552.0 179.8,554.5 185.6,556.7C191.4,558.9 198.8,560.1 205.7,561.2C212.6,562.3 223.4,563.1 227.0,563.5" fill="none" stroke="#7ccaf4" stroke-width="1.9"/>
<path d="M227.0,563.5C220.9,563.5 202.5,563.4 190.6,563.5C178.7,563.6 163.4,563.8 155.5,564.3C147.6,564.8 147.2,565.1 143.0,566.8C138.8,568.5 135.8,570.3 130.4,574.3C125.0,578.3 114.8,587.0 110.4,590.6C106.0,594.2 105.3,593.1 104.0,595.6C102.7,598.1 103.0,601.0 102.3,605.6C101.6,610.2 101.6,616.8 100.0,623.0C98.4,629.2 95.8,637.2 92.5,643.0C89.2,648.8 85.4,653.0 80.0,658.0C74.6,663.0 67.4,668.6 60.0,673.0C52.6,677.4 39.7,682.7 35.6,684.6" fill="none" stroke="#7ccaf4" stroke-width="1.9"/>
<path d="M35.6,684.6C39.3,684.9 49.0,685.0 57.7,686.6C66.4,688.2 78.2,690.6 87.8,694.0C97.4,697.4 108.7,702.1 115.4,706.7C122.1,711.3 123.8,715.4 128.0,721.7C132.2,728.0 135.9,737.6 140.5,744.3C145.1,751.0 150.5,756.0 155.5,761.9C160.5,767.8 165.6,775.3 170.6,779.4C175.6,783.5 179.8,784.9 185.6,786.4C191.4,787.9 199.0,787.6 205.7,788.2C212.4,788.8 222.4,789.7 225.7,790.0" fill="none" stroke="#7ccaf4" stroke-width="1.9"/>
<circle cx="77.3" cy="432.6" r="5.5" fill="url(#gMag)"/>
<circle cx="144.5" cy="501.5" r="5.5" fill="url(#gMag)"/>
<circle cx="227.0" cy="563.5" r="5.5" fill="url(#gPur)"/>
<circle cx="110.4" cy="590.6" r="5.5" fill="url(#gTeal)"/>
<circle cx="35.6" cy="684.6" r="5.5" fill="url(#gBlue)"/>
<circle cx="225.7" cy="790.0" r="5.5" fill="url(#gPur)"/>
<text x="28.8" y="441.5" font-size="32" fill="#555" text-anchor="start" font-weight="bold" >(c)</text>
<text x="61" y="462.3" font-size="30.6" fill="#c8388c" text-anchor="start" font-weight="bold" >A</text>
<text x="109" y="518" font-size="30.6" fill="#c03c98" text-anchor="start" font-weight="bold" >B</text>
<text x="213.5" y="598.3" font-size="30.6" fill="#a244b4" text-anchor="start" font-weight="bold" >C</text>
<text x="111" y="622" font-size="30.6" fill="#12a090" text-anchor="start" font-weight="bold" >D</text>
<text x="27" y="717" font-size="30.6" fill="#2a80c4" text-anchor="start" font-weight="bold" >E</text>
<text x="201" y="821" font-size="30.6" fill="#a244b4" text-anchor="start" font-weight="bold" >F</text>
<line x1="59.5" y1="828.5" x2="59.5" y2="826.0" stroke="#000" stroke-width="1"/>
<line x1="93.5" y1="828.5" x2="93.5" y2="824.5" stroke="#000" stroke-width="1"/>
<line x1="127.5" y1="828.5" x2="127.5" y2="826.0" stroke="#000" stroke-width="1"/>
<line x1="162.5" y1="828.5" x2="162.5" y2="824.5" stroke="#000" stroke-width="1"/>
<line x1="196.5" y1="828.5" x2="196.5" y2="826.0" stroke="#000" stroke-width="1"/>
<line x1="230.5" y1="828.5" x2="230.5" y2="824.5" stroke="#000" stroke-width="1"/>
<text x="26.5" y="841.5" font-size="10.2" fill="#000" text-anchor="middle" font-weight="bold" >2.0</text>
<text x="94.7" y="841.5" font-size="10.2" fill="#000" text-anchor="middle" font-weight="bold" >1.6</text>
<text x="162.9" y="841.5" font-size="10.2" fill="#000" text-anchor="middle" font-weight="bold" >1.2</text>
<text x="231.1" y="841.5" font-size="10.2" fill="#000" text-anchor="middle" font-weight="bold" >0.8</text>
<text x="134.2" y="862.4" font-size="17.8" fill="#000" text-anchor="middle" font-weight="bold" textLength="94.5" lengthAdjust="spacing" >Voltage (V)</text>
<text x="0" y="0" font-size="16" fill="#000" text-anchor="middle" font-weight="bold" transform="translate(17,620) rotate(-90)">Time</text>
<polygon points="289.0,467.0 424.4,467.0 470.8,561.7 241.3,561.7" fill="#6cc0d4" />
<polygon points="241.3,561.7 470.8,561.7 468.8,574.2 243.3,574.2" fill="#467c8a" />
<linearGradient id="ar1" gradientUnits="userSpaceOnUse" x1="468" y1="540" x2="528" y2="560"><stop offset="0" stop-color="#9cc4e2"/><stop offset="0.5" stop-color="#5c9fd0"/><stop offset="1" stop-color="#2f8cc8"/></linearGradient>
<polygon points="467.9,550.6 468.4,549.5 469.0,548.3 469.7,546.8 470.5,545.1 471.4,543.3 472.4,541.3 473.3,539.3 474.3,537.3 475.3,535.2 476.4,533.1 477.4,531.1 478.3,529.2 479.3,527.2 480.3,525.3 481.3,523.2 482.3,521.2 483.4,519.1 484.4,517.1 485.5,515.0 486.6,513.0 487.7,511.0 488.7,509.1 489.7,507.2 490.7,505.5 491.7,503.7 492.6,502.0 493.5,500.3 494.4,498.6 495.3,497.0 496.2,495.4 497.0,493.9 497.8,492.5 498.6,491.1 499.4,489.9 500.2,488.7 500.9,487.6 501.7,486.7 502.4,485.7 503.1,484.9 503.8,484.1 504.4,483.4 505.0,482.8 505.6,482.3 506.1,482.0 506.6,481.7 506.9,481.6 507.2,481.6 507.4,481.6 507.6,481.7 507.9,481.9 508.2,482.3 508.6,482.7 509.0,483.3 509.4,484.0 509.8,484.9 510.2,485.8 510.6,486.9 511.0,488.0 511.3,489.3 511.7,490.5 512.0,491.9 512.4,493.5 512.7,495.2 513.0,497.1 513.2,499.0 513.5,501.0 513.8,503.1 514.0,505.2 514.3,507.2 514.6,509.3 514.8,511.3 515.1,513.3 515.4,515.2 515.7,517.1 516.0,519.0 516.3,520.9 516.6,522.8 516.8,524.6 517.1,526.5 517.4,528.4 517.7,530.2 517.9,532.0 518.2,533.8 518.4,535.6 518.7,537.4 518.9,539.2 519.1,540.9 519.3,542.7 519.5,544.4 519.8,546.2 520.1,547.9 520.3,549.6 520.6,551.2 520.8,552.9 521.1,554.5 521.4,556.0 521.6,557.6 521.9,559.2 522.1,560.8 522.4,562.5 522.7,564.1 522.9,565.6 523.1,567.1 523.4,568.5 523.6,569.7 523.8,570.9 523.9,571.9 524.1,572.6 531.9,571.4 531.8,570.6 531.7,569.6 531.5,568.5 531.3,567.2 531.0,565.8 530.8,564.3 530.6,562.8 530.3,561.2 530.0,559.6 529.8,557.9 529.5,556.3 529.2,554.8 529.0,553.2 528.7,551.6 528.5,550.0 528.2,548.3 528.0,546.6 527.7,544.9 527.4,543.2 527.1,541.4 526.7,539.7 526.3,537.9 526.0,536.1 525.6,534.4 525.2,532.6 524.8,530.8 524.4,529.0 523.9,527.1 523.5,525.3 523.1,523.5 522.6,521.6 522.2,519.7 521.8,517.9 521.3,516.0 520.9,514.2 520.5,512.3 520.1,510.4 519.7,508.5 519.2,506.4 518.8,504.4 518.4,502.3 518.0,500.2 517.6,498.2 517.1,496.3 516.7,494.4 516.2,492.6 515.8,491.0 515.3,489.5 514.8,488.1 514.3,486.8 513.8,485.6 513.3,484.5 512.8,483.4 512.2,482.5 511.7,481.6 511.1,480.8 510.4,480.1 509.7,479.5 508.9,479.0 508.0,478.8 507.1,478.7 506.2,478.8 505.3,479.2 504.6,479.6 503.9,480.2 503.2,480.9 502.5,481.6 501.8,482.4 501.1,483.3 500.5,484.3 499.8,485.3 499.1,486.4 498.3,487.5 497.6,488.8 496.9,490.1 496.1,491.6 495.4,493.1 494.6,494.6 493.8,496.3 493.0,498.0 492.2,499.7 491.4,501.4 490.6,503.2 489.7,504.9 488.8,506.8 487.9,508.7 486.9,510.6 485.9,512.6 484.9,514.7 483.8,516.7 482.8,518.8 481.7,520.9 480.7,522.9 479.6,524.9 478.6,526.9 477.7,528.8 476.7,530.8 475.7,532.8 474.7,534.9 473.7,537.0 472.7,539.0 471.7,541.0 470.8,543.0 469.9,544.8 469.1,546.5 468.4,547.9 467.8,549.2 467.3,550.2" fill="url(#ar1)"/>
<polygon points="519.0,573.2 530.3,589.0 538.6,573.2 527.8,570.8" fill="#2f8cc8" />
<linearGradient id="ar2" gradientUnits="userSpaceOnUse" x1="652" y1="540" x2="772" y2="560"><stop offset="0" stop-color="#9cc4e2"/><stop offset="0.5" stop-color="#5c9fd0"/><stop offset="1" stop-color="#2f8cc8"/></linearGradient>
<polygon points="652.4,587.4 653.5,584.7 654.9,581.2 656.6,577.1 658.4,572.5 660.5,567.5 662.6,562.2 664.8,556.8 667.0,551.4 669.1,546.2 671.2,541.3 673.2,536.8 675.0,532.9 676.7,529.4 678.4,526.0 680.0,522.8 681.6,519.8 683.2,516.9 684.7,514.2 686.2,511.6 687.7,509.2 689.1,506.8 690.5,504.7 691.9,502.6 693.3,500.6 694.6,498.8 695.8,497.2 697.0,495.8 698.2,494.5 699.3,493.3 700.4,492.3 701.5,491.3 702.6,490.4 703.7,489.6 704.8,488.8 705.9,488.1 707.1,487.3 708.2,486.6 709.3,485.9 710.4,485.3 711.5,484.8 712.6,484.3 713.7,483.9 714.7,483.6 715.7,483.3 716.7,483.2 717.7,483.1 718.6,483.1 719.5,483.2 720.3,483.3 721.2,483.6 722.1,483.9 723.1,484.3 724.0,484.8 724.9,485.4 725.9,486.0 726.8,486.8 727.8,487.6 728.7,488.4 729.7,489.4 730.6,490.4 731.5,491.4 732.3,492.4 733.1,493.5 733.8,494.6 734.6,495.8 735.3,497.1 736.1,498.5 737.0,500.0 737.9,501.7 738.8,503.6 739.9,505.7 741.1,508.0 742.4,510.6 743.8,513.4 745.4,516.5 747.0,519.8 748.7,523.2 750.4,526.8 752.1,530.3 753.7,533.8 755.3,537.3 756.8,540.5 758.2,543.5 759.4,546.2 760.4,548.8 761.4,551.5 762.3,554.1 763.1,556.7 763.8,559.3 764.4,561.8 765.0,564.2 765.5,566.4 766.0,568.5 766.5,570.4 766.9,572.1 767.2,573.5 778.4,570.5 778.0,569.3 777.6,567.7 777.2,565.9 776.7,563.8 776.2,561.5 775.6,559.0 774.9,556.3 774.1,553.5 773.2,550.6 772.3,547.7 771.2,544.7 770.0,541.8 768.7,538.7 767.2,535.5 765.5,532.2 763.6,528.8 761.6,525.3 759.6,521.9 757.5,518.5 755.5,515.1 753.6,512.0 751.7,509.0 750.0,506.2 748.5,503.8 747.2,501.6 745.9,499.6 744.8,497.8 743.7,496.1 742.6,494.5 741.6,493.0 740.7,491.6 739.7,490.3 738.7,489.1 737.6,487.9 736.6,486.7 735.4,485.6 734.2,484.6 733.0,483.5 731.8,482.6 730.6,481.7 729.3,480.9 728.0,480.1 726.7,479.5 725.4,478.9 724.1,478.4 722.7,478.1 721.3,477.8 719.9,477.6 718.6,477.6 717.2,477.7 715.8,478.0 714.5,478.3 713.2,478.7 711.9,479.3 710.6,479.9 709.3,480.5 708.1,481.2 706.9,482.0 705.7,482.8 704.5,483.7 703.4,484.6 702.3,485.5 701.2,486.4 700.0,487.4 698.9,488.4 697.8,489.6 696.7,490.8 695.5,492.1 694.4,493.6 693.2,495.2 692.0,497.0 690.7,499.0 689.5,501.1 688.2,503.3 686.9,505.6 685.6,508.0 684.3,510.6 683.0,513.3 681.6,516.1 680.2,519.1 678.7,522.2 677.3,525.5 675.8,528.9 674.2,532.5 672.5,536.5 670.6,541.0 668.5,546.0 666.3,551.2 664.1,556.5 661.9,561.9 659.8,567.2 657.8,572.2 655.9,576.9 654.3,581.0 652.9,584.5 651.8,587.2" fill="url(#ar2)"/>
<polygon points="761.2,576.9 779.9,592.8 785.5,569.4 772.4,570.9" fill="#2f8cc8" />
<linearGradient id="ar3" gradientUnits="userSpaceOnUse" x1="902" y1="540" x2="1019" y2="560"><stop offset="0" stop-color="#9cc4e2"/><stop offset="0.5" stop-color="#5c9fd0"/><stop offset="1" stop-color="#2f8cc8"/></linearGradient>
<polygon points="902.4,596.9 903.1,595.3 903.9,593.4 904.8,591.1 905.9,588.5 907.1,585.6 908.3,582.6 909.6,579.5 910.9,576.3 912.3,573.2 913.6,570.0 915.0,566.9 916.3,564.0 917.6,561.2 919.0,558.3 920.4,555.4 921.8,552.5 923.3,549.5 924.8,546.5 926.3,543.6 927.8,540.7 929.3,537.9 930.9,535.1 932.4,532.3 933.9,529.6 935.5,527.0 937.0,524.3 938.6,521.7 940.2,519.1 941.8,516.5 943.3,513.9 944.9,511.5 946.4,509.1 947.9,506.8 949.3,504.6 950.7,502.6 952.0,500.8 953.3,499.0 954.4,497.5 955.6,496.0 956.6,494.7 957.6,493.5 958.6,492.3 959.6,491.3 960.5,490.3 961.4,489.4 962.4,488.6 963.3,487.8 964.2,487.0 965.2,486.2 966.2,485.5 967.1,484.9 967.9,484.3 968.8,483.8 969.5,483.3 970.3,483.0 971.0,482.8 971.6,482.6 972.3,482.6 972.9,482.6 973.5,482.7 974.3,482.9 975.1,483.2 975.9,483.6 976.8,484.1 977.7,484.7 978.6,485.4 979.6,486.2 980.5,487.1 981.5,488.1 982.4,489.2 983.4,490.3 984.3,491.5 985.2,492.8 986.1,494.2 986.9,495.8 987.8,497.4 988.7,499.1 989.6,500.9 990.5,502.8 991.3,504.8 992.2,506.9 993.2,509.1 994.1,511.3 995.0,513.7 996.0,516.2 997.0,518.8 998.0,521.6 999.1,524.5 1000.2,527.4 1001.2,530.5 1002.2,533.5 1003.2,536.6 1004.2,539.6 1005.1,542.6 1006.0,545.5 1006.9,548.2 1007.7,551.0 1008.4,554.0 1009.2,557.1 1009.9,560.3 1010.5,563.4 1011.1,566.6 1011.7,569.6 1012.2,572.4 1012.7,575.1 1013.1,577.4 1013.5,579.5 1013.9,581.1 1025.1,578.9 1024.8,577.3 1024.5,575.3 1024.0,573.0 1023.5,570.4 1023.0,567.5 1022.4,564.4 1021.8,561.2 1021.1,557.9 1020.4,554.5 1019.6,551.3 1018.8,548.0 1017.9,545.0 1017.0,542.0 1016.0,538.9 1014.8,535.9 1013.5,532.8 1012.2,529.7 1010.9,526.7 1009.6,523.7 1008.2,520.7 1006.9,517.9 1005.6,515.1 1004.4,512.5 1003.2,510.1 1002.0,507.8 1000.9,505.5 999.8,503.3 998.7,501.2 997.6,499.2 996.5,497.3 995.4,495.4 994.3,493.6 993.2,491.9 992.0,490.3 990.9,488.7 989.7,487.3 988.5,485.9 987.3,484.6 986.1,483.4 984.8,482.3 983.6,481.3 982.3,480.4 981.0,479.6 979.7,478.9 978.4,478.2 977.1,477.7 975.8,477.4 974.5,477.1 973.1,477.0 971.8,477.1 970.5,477.3 969.3,477.7 968.1,478.2 967.0,478.7 966.0,479.4 965.0,480.1 964.0,480.9 963.1,481.7 962.1,482.5 961.2,483.4 960.2,484.3 959.2,485.3 958.3,486.3 957.3,487.3 956.4,488.5 955.4,489.7 954.5,490.9 953.5,492.3 952.5,493.8 951.4,495.3 950.3,497.0 949.2,498.8 948.0,500.8 946.7,503.0 945.4,505.2 944.0,507.6 942.6,510.1 941.2,512.7 939.8,515.3 938.3,518.0 936.9,520.7 935.5,523.5 934.1,526.2 932.7,529.0 931.3,531.7 929.9,534.5 928.4,537.4 927.0,540.3 925.6,543.3 924.1,546.2 922.7,549.2 921.2,552.2 919.8,555.1 918.4,558.0 917.0,560.9 915.7,563.8 914.4,566.7 913.0,569.7 911.6,572.9 910.3,576.1 908.9,579.3 907.6,582.4 906.4,585.4 905.3,588.2 904.2,590.8 903.2,593.1 902.4,595.1 901.8,596.7" fill="url(#ar3)"/>
<polygon points="1007.4,585.0 1024.7,601.3 1032.0,579.1 1019.2,578.8" fill="#2f8cc8" />
<linearGradient id="ar4" gradientUnits="userSpaceOnUse" x1="999" y1="760" x2="948" y2="745"><stop offset="0" stop-color="#9cc4e2"/><stop offset="0.5" stop-color="#5c9fd0"/><stop offset="1" stop-color="#2f8cc8"/></linearGradient>
<polygon points="999.3,713.8 999.0,715.3 998.8,717.1 998.5,719.2 998.1,721.6 997.8,724.2 997.4,726.9 997.0,729.8 996.5,732.6 996.1,735.4 995.7,738.2 995.3,740.8 994.9,743.2 994.5,745.5 994.1,747.8 993.6,750.1 993.2,752.3 992.7,754.6 992.2,756.7 991.8,758.9 991.3,761.0 990.7,763.1 990.2,765.1 989.7,767.1 989.1,769.1 988.5,771.0 987.9,772.9 987.3,774.8 986.7,776.7 986.1,778.5 985.4,780.3 984.8,782.0 984.1,783.6 983.5,785.2 982.8,786.6 982.2,788.0 981.5,789.2 980.8,790.3 980.1,791.3 979.4,792.3 978.7,793.2 978.0,794.0 977.3,794.8 976.6,795.4 976.0,795.9 975.4,796.2 974.9,796.5 974.5,796.6 974.2,796.6 974.1,796.6 974.0,796.5 973.8,796.4 973.4,796.1 973.0,795.7 972.6,795.2 972.1,794.6 971.6,793.8 971.0,793.0 970.5,792.2 969.9,791.3 969.4,790.4 968.9,789.5 968.4,788.6 967.9,787.7 967.4,786.8 966.9,785.8 966.5,784.7 966.0,783.6 965.5,782.4 965.0,781.1 964.5,779.7 964.1,778.2 963.6,776.6 963.0,774.9 962.5,773.0 961.9,770.9 961.4,768.6 960.8,766.3 960.3,764.0 959.7,761.6 959.2,759.2 958.6,756.9 958.0,754.7 957.4,752.6 956.9,750.6 956.4,748.8 955.9,746.9 955.4,745.1 954.9,743.2 954.5,741.4 954.1,739.7 953.7,738.1 953.3,736.5 953.0,735.1 952.7,733.9 952.4,732.8 952.2,731.9 943.0,734.1 943.2,735.0 943.5,736.1 943.7,737.3 944.1,738.7 944.4,740.3 944.8,741.9 945.3,743.7 945.7,745.5 946.2,747.4 946.7,749.3 947.2,751.3 947.7,753.2 948.3,755.1 948.9,757.2 949.5,759.5 950.2,761.7 951.0,764.1 951.9,766.4 952.7,768.8 953.5,771.1 954.3,773.3 955.1,775.4 955.9,777.4 956.6,779.2 957.4,780.8 958.0,782.3 958.7,783.8 959.4,785.1 960.0,786.4 960.7,787.6 961.3,788.7 962.0,789.8 962.6,790.8 963.3,791.8 963.9,792.7 964.6,793.6 965.3,794.5 965.9,795.4 966.6,796.2 967.3,797.1 968.0,797.9 968.7,798.7 969.5,799.4 970.4,800.1 971.3,800.7 972.4,801.1 973.5,801.4 974.8,801.4 975.9,801.1 976.9,800.6 977.8,800.1 978.7,799.4 979.6,798.6 980.4,797.7 981.2,796.7 981.9,795.7 982.7,794.6 983.4,793.4 984.1,792.1 984.7,790.8 985.3,789.4 985.9,787.9 986.5,786.4 987.0,784.7 987.6,782.9 988.1,781.1 988.6,779.3 989.1,777.4 989.5,775.4 990.0,773.5 990.5,771.5 990.9,769.5 991.3,767.5 991.7,765.5 992.1,763.4 992.5,761.3 992.9,759.1 993.3,756.9 993.6,754.7 994.0,752.5 994.3,750.2 994.7,748.0 995.1,745.7 995.5,743.4 996.0,740.9 996.4,738.3 996.8,735.6 997.2,732.7 997.7,729.9 998.1,727.0 998.5,724.3 998.8,721.7 999.2,719.3 999.5,717.2 999.7,715.4 999.9,714.0" fill="url(#ar4)"/>
<polygon points="934.6,734.1 942.1,711.6 960.3,727.7 947.9,734.2" fill="#2f8cc8" />
<linearGradient id="ar5" gradientUnits="userSpaceOnUse" x1="750" y1="760" x2="699" y2="745"><stop offset="0" stop-color="#9cc4e2"/><stop offset="0.5" stop-color="#5c9fd0"/><stop offset="1" stop-color="#2f8cc8"/></linearGradient>
<polygon points="750.1,713.8 749.8,715.3 749.6,717.1 749.3,719.2 748.9,721.6 748.6,724.2 748.2,726.9 747.8,729.8 747.3,732.6 746.9,735.4 746.5,738.2 746.1,740.8 745.7,743.2 745.3,745.5 744.9,747.8 744.4,750.1 744.0,752.3 743.5,754.6 743.0,756.7 742.6,758.9 742.1,761.0 741.5,763.1 741.0,765.1 740.5,767.1 739.9,769.1 739.3,771.0 738.7,772.9 738.1,774.8 737.5,776.7 736.9,778.5 736.2,780.3 735.6,782.0 734.9,783.6 734.3,785.2 733.6,786.6 733.0,788.0 732.3,789.2 731.6,790.3 730.9,791.3 730.2,792.3 729.5,793.2 728.8,794.0 728.1,794.8 727.4,795.4 726.8,795.9 726.2,796.2 725.7,796.5 725.3,796.6 725.0,796.6 724.9,796.6 724.8,796.5 724.6,796.4 724.2,796.1 723.8,795.7 723.4,795.2 722.9,794.6 722.4,793.8 721.8,793.0 721.3,792.2 720.7,791.3 720.2,790.4 719.7,789.5 719.2,788.6 718.7,787.7 718.2,786.8 717.7,785.8 717.3,784.7 716.8,783.6 716.3,782.4 715.8,781.1 715.3,779.7 714.9,778.2 714.4,776.6 713.8,774.9 713.3,773.0 712.7,770.9 712.2,768.6 711.6,766.3 711.1,764.0 710.5,761.6 710.0,759.2 709.4,756.9 708.8,754.7 708.2,752.6 707.7,750.6 707.2,748.8 706.7,746.9 706.2,745.1 705.7,743.2 705.3,741.4 704.9,739.7 704.5,738.1 704.1,736.5 703.8,735.1 703.5,733.9 703.2,732.8 703.0,731.9 693.8,734.1 694.0,735.0 694.3,736.1 694.5,737.3 694.9,738.7 695.2,740.3 695.6,741.9 696.1,743.7 696.5,745.5 697.0,747.4 697.5,749.3 698.0,751.3 698.5,753.2 699.1,755.1 699.7,757.2 700.3,759.5 701.0,761.7 701.8,764.1 702.7,766.4 703.5,768.8 704.3,771.1 705.1,773.3 705.9,775.4 706.7,777.4 707.4,779.2 708.2,780.8 708.8,782.3 709.5,783.8 710.2,785.1 710.8,786.4 711.5,787.6 712.1,788.7 712.8,789.8 713.4,790.8 714.1,791.8 714.7,792.7 715.4,793.6 716.1,794.5 716.7,795.4 717.4,796.2 718.1,797.1 718.8,797.9 719.5,798.7 720.3,799.4 721.2,800.1 722.1,800.7 723.2,801.1 724.3,801.4 725.6,801.4 726.7,801.1 727.7,800.6 728.6,800.1 729.5,799.4 730.4,798.6 731.2,797.7 732.0,796.7 732.7,795.7 733.5,794.6 734.2,793.4 734.9,792.1 735.5,790.8 736.1,789.4 736.7,787.9 737.3,786.4 737.8,784.7 738.4,782.9 738.9,781.1 739.4,779.3 739.9,777.4 740.3,775.4 740.8,773.5 741.3,771.5 741.7,769.5 742.1,767.5 742.5,765.5 742.9,763.4 743.3,761.3 743.7,759.1 744.1,756.9 744.4,754.7 744.8,752.5 745.1,750.2 745.5,748.0 745.9,745.7 746.3,743.4 746.8,740.9 747.2,738.3 747.6,735.6 748.0,732.7 748.5,729.9 748.9,727.0 749.3,724.3 749.6,721.7 750.0,719.3 750.3,717.2 750.5,715.4 750.7,714.0" fill="url(#ar5)"/>
<polygon points="685.4,734.1 693.1,712.0 711.1,727.7 698.7,734.2" fill="#2f8cc8" />
<linearGradient id="ar6" gradientUnits="userSpaceOnUse" x1="484" y1="715" x2="470" y2="775"><stop offset="0" stop-color="#9cc4e2"/><stop offset="0.5" stop-color="#5c9fd0"/><stop offset="1" stop-color="#2f8cc8"/></linearGradient>
<polygon points="483.7,713.1 484.5,713.7 485.4,714.6 486.6,715.6 487.9,716.7 489.3,717.9 490.8,719.2 492.3,720.5 493.9,721.9 495.4,723.3 496.9,724.6 498.4,726.0 499.8,727.3 501.1,728.5 502.4,729.8 503.7,731.2 505.0,732.5 506.4,733.9 507.7,735.3 509.0,736.6 510.2,738.0 511.4,739.4 512.6,740.7 513.7,742.0 514.8,743.3 515.8,744.5 516.8,745.7 517.7,746.9 518.7,748.1 519.6,749.3 520.4,750.4 521.3,751.5 522.1,752.6 522.8,753.7 523.6,754.8 524.3,755.8 525.0,756.7 525.7,757.7 526.4,758.6 527.0,759.4 527.5,760.2 528.1,761.0 528.6,761.8 529.1,762.5 529.6,763.3 530.0,764.0 530.5,764.8 530.9,765.5 531.3,766.3 531.8,767.1 532.3,768.0 532.8,768.9 533.3,769.7 533.8,770.6 534.3,771.4 534.6,772.2 535.0,772.9 535.2,773.6 535.3,774.2 535.4,774.6 535.4,774.9 535.3,775.1 535.2,775.4 535.0,775.7 534.7,776.1 534.4,776.4 534.0,776.8 533.5,777.1 533.0,777.5 532.5,777.8 532.0,778.1 531.4,778.4 530.9,778.6 530.4,778.8 529.9,778.9 529.4,779.1 528.9,779.2 528.4,779.2 527.8,779.3 527.2,779.3 526.5,779.3 525.8,779.2 525.0,779.1 524.1,779.0 523.1,778.9 522.1,778.7 520.9,778.5 519.7,778.2 518.4,777.9 517.0,777.5 515.5,777.1 514.1,776.7 512.6,776.2 511.1,775.8 509.6,775.4 508.2,775.0 506.8,774.6 505.5,774.2 504.2,773.8 503.0,773.4 501.8,773.1 500.6,772.7 499.4,772.3 498.1,771.9 496.9,771.5 495.6,771.1 494.3,770.7 492.9,770.3 491.5,769.9 489.9,769.5 488.2,769.0 486.3,768.4 484.4,767.9 482.4,767.3 480.5,766.7 478.6,766.1 476.8,765.6 475.1,765.1 473.6,764.6 472.4,764.2 471.4,763.9 468.6,773.1 469.6,773.3 470.9,773.7 472.4,774.2 474.0,774.7 475.8,775.2 477.8,775.8 479.7,776.4 481.7,777.0 483.7,777.6 485.5,778.1 487.3,778.6 488.9,779.1 490.4,779.5 491.8,779.9 493.2,780.2 494.5,780.5 495.9,780.8 497.1,781.0 498.4,781.3 499.7,781.5 501.0,781.7 502.3,782.0 503.6,782.2 505.0,782.4 506.4,782.7 507.8,783.0 509.3,783.2 510.9,783.5 512.4,783.8 514.0,784.0 515.5,784.3 517.0,784.5 518.5,784.7 519.9,784.9 521.2,785.0 522.5,785.1 523.6,785.2 524.7,785.2 525.7,785.2 526.6,785.1 527.5,785.0 528.4,784.9 529.3,784.8 530.1,784.6 530.9,784.4 531.7,784.1 532.4,783.8 533.1,783.4 533.8,783.0 534.6,782.5 535.3,782.1 536.0,781.5 536.7,780.9 537.4,780.3 538.0,779.6 538.5,778.8 539.0,778.0 539.4,777.1 539.7,776.1 539.8,775.1 539.7,774.1 539.5,773.1 539.2,772.1 538.7,771.2 538.2,770.3 537.7,769.4 537.1,768.5 536.5,767.7 535.9,766.9 535.4,766.0 534.8,765.3 534.3,764.5 533.7,763.7 533.2,763.0 532.7,762.2 532.1,761.5 531.5,760.8 531.0,760.0 530.4,759.3 529.7,758.6 529.1,757.8 528.4,757.0 527.7,756.1 527.0,755.3 526.2,754.3 525.4,753.4 524.5,752.4 523.7,751.4 522.8,750.3 521.8,749.3 520.9,748.2 519.9,747.1 518.9,746.0 517.8,744.8 516.7,743.7 515.6,742.5 514.5,741.3 513.3,740.1 512.1,738.8 510.8,737.5 509.5,736.1 508.2,734.8 506.9,733.4 505.5,732.0 504.2,730.7 502.9,729.3 501.6,728.0 500.2,726.7 498.9,725.5 497.4,724.1 495.9,722.7 494.3,721.4 492.8,720.0 491.2,718.6 489.7,717.4 488.3,716.2 487.0,715.0 485.9,714.1 484.9,713.2 484.1,712.5" fill="url(#ar6)"/>
<polygon points="472.0,755.6 448.5,763.0 467.0,779.4 471.2,768.8" fill="#2f8cc8" />
<polygon points="527.0,596.0 655.0,596.0 705.6,698.5 476.6,698.5" fill="#4e92a6" />
<polygon points="476.6,698.5 705.6,698.5 703.6,711.7 478.6,711.7" fill="#5aa2b0" />
<polygon points="526.5,592.5 655.0,592.5 699.0,690.0 484.0,690.0" fill="#8448ac" />
<defs><g id="kA"><rect x="-1.1" y="-1" width="2.2" height="6.5" rx="1.1" fill="#a05cc4"/><circle cx="-2.2" cy="0.6" r="1.86" fill="#9250b6"/><circle cx="2.2" cy="0.6" r="1.86" fill="#9c5ac0"/><circle cx="0" cy="-1.8" r="2.4" fill="#ac6ccc"/><circle cx="-0.5" cy="-2.5" r="1.2" fill="#c894e2"/></g></defs>
<use href="#kA" transform="translate(528.0,594.0) scale(0.62)"/><use href="#kA" transform="translate(534.6,594.0) scale(0.62)"/><use href="#kA" transform="translate(541.2,594.0) scale(0.62)"/><use href="#kA" transform="translate(547.8,594.0) scale(0.62)"/><use href="#kA" transform="translate(554.4,594.0) scale(0.62)"/><use href="#kA" transform="translate(561.0,594.0) scale(0.62)"/><use href="#kA" transform="translate(567.6,594.0) scale(0.62)"/><use href="#kA" transform="translate(574.2,594.0) scale(0.62)"/><use href="#kA" transform="translate(580.8,594.0) scale(0.62)"/><use href="#kA" transform="translate(587.4,594.0) scale(0.62)"/><use href="#kA" transform="translate(594.1,594.0) scale(0.62)"/><use href="#kA" transform="translate(600.7,594.0) scale(0.62)"/><use href="#kA" transform="translate(607.3,594.0) scale(0.62)"/><use href="#kA" transform="translate(613.9,594.0) scale(0.62)"/><use href="#kA" transform="translate(620.5,594.0) scale(0.62)"/><use href="#kA" transform="translate(627.1,594.0) scale(0.62)"/><use href="#kA" transform="translate(633.7,594.0) scale(0.62)"/><use href="#kA" transform="translate(640.3,594.0) scale(0.62)"/><use href="#kA" transform="translate(646.9,594.0) scale(0.62)"/><use href="#kA" transform="translate(653.5,594.0) scale(0.62)"/>
<use href="#kA" transform="translate(526.9,596.4) scale(0.64)"/><use href="#kA" transform="translate(533.6,596.4) scale(0.64)"/><use href="#kA" transform="translate(540.3,596.4) scale(0.64)"/><use href="#kA" transform="translate(547.0,596.4) scale(0.64)"/><use href="#kA" transform="translate(553.8,596.4) scale(0.64)"/><use href="#kA" transform="translate(560.5,596.4) scale(0.64)"/><use href="#kA" transform="translate(567.2,596.4) scale(0.64)"/><use href="#kA" transform="translate(574.0,596.4) scale(0.64)"/><use href="#kA" transform="translate(580.7,596.4) scale(0.64)"/><use href="#kA" transform="translate(587.4,596.4) scale(0.64)"/><use href="#kA" transform="translate(594.1,596.4) scale(0.64)"/><use href="#kA" transform="translate(600.9,596.4) scale(0.64)"/><use href="#kA" transform="translate(607.6,596.4) scale(0.64)"/><use href="#kA" transform="translate(614.3,596.4) scale(0.64)"/><use href="#kA" transform="translate(621.0,596.4) scale(0.64)"/><use href="#kA" transform="translate(627.8,596.4) scale(0.64)"/><use href="#kA" transform="translate(634.5,596.4) scale(0.64)"/><use href="#kA" transform="translate(641.2,596.4) scale(0.64)"/><use href="#kA" transform="translate(648.0,596.4) scale(0.64)"/><use href="#kA" transform="translate(654.7,596.4) scale(0.64)"/>
<use href="#kA" transform="translate(525.2,599.8) scale(0.66)"/><use href="#kA" transform="translate(532.1,599.8) scale(0.66)"/><use href="#kA" transform="translate(539.0,599.8) scale(0.66)"/><use href="#kA" transform="translate(545.9,599.8) scale(0.66)"/><use href="#kA" transform="translate(552.8,599.8) scale(0.66)"/><use href="#kA" transform="translate(559.7,599.8) scale(0.66)"/><use href="#kA" transform="translate(566.6,599.8) scale(0.66)"/><use href="#kA" transform="translate(573.5,599.8) scale(0.66)"/><use href="#kA" transform="translate(580.4,599.8) scale(0.66)"/><use href="#kA" transform="translate(587.3,599.8) scale(0.66)"/><use href="#kA" transform="translate(594.3,599.8) scale(0.66)"/><use href="#kA" transform="translate(601.2,599.8) scale(0.66)"/><use href="#kA" transform="translate(608.1,599.8) scale(0.66)"/><use href="#kA" transform="translate(615.0,599.8) scale(0.66)"/><use href="#kA" transform="translate(621.9,599.8) scale(0.66)"/><use href="#kA" transform="translate(628.8,599.8) scale(0.66)"/><use href="#kA" transform="translate(635.7,599.8) scale(0.66)"/><use href="#kA" transform="translate(642.6,599.8) scale(0.66)"/><use href="#kA" transform="translate(649.5,599.8) scale(0.66)"/><use href="#kA" transform="translate(656.4,599.8) scale(0.66)"/>
<use href="#kA" transform="translate(523.2,603.9) scale(0.69)"/><use href="#kA" transform="translate(530.3,603.9) scale(0.69)"/><use href="#kA" transform="translate(537.5,603.9) scale(0.69)"/><use href="#kA" transform="translate(544.6,603.9) scale(0.69)"/><use href="#kA" transform="translate(551.7,603.9) scale(0.69)"/><use href="#kA" transform="translate(558.8,603.9) scale(0.69)"/><use href="#kA" transform="translate(565.9,603.9) scale(0.69)"/><use href="#kA" transform="translate(573.0,603.9) scale(0.69)"/><use href="#kA" transform="translate(580.2,603.9) scale(0.69)"/><use href="#kA" transform="translate(587.3,603.9) scale(0.69)"/><use href="#kA" transform="translate(594.4,603.9) scale(0.69)"/><use href="#kA" transform="translate(601.5,603.9) scale(0.69)"/><use href="#kA" transform="translate(608.6,603.9) scale(0.69)"/><use href="#kA" transform="translate(615.7,603.9) scale(0.69)"/><use href="#kA" transform="translate(622.9,603.9) scale(0.69)"/><use href="#kA" transform="translate(630.0,603.9) scale(0.69)"/><use href="#kA" transform="translate(637.1,603.9) scale(0.69)"/><use href="#kA" transform="translate(644.2,603.9) scale(0.69)"/><use href="#kA" transform="translate(651.3,603.9) scale(0.69)"/><use href="#kA" transform="translate(658.4,603.9) scale(0.69)"/>
<use href="#kA" transform="translate(521.1,608.3) scale(0.72)"/><use href="#kA" transform="translate(528.4,608.3) scale(0.72)"/><use href="#kA" transform="translate(535.8,608.3) scale(0.72)"/><use href="#kA" transform="translate(543.1,608.3) scale(0.72)"/><use href="#kA" transform="translate(550.5,608.3) scale(0.72)"/><use href="#kA" transform="translate(557.8,608.3) scale(0.72)"/><use href="#kA" transform="translate(565.2,608.3) scale(0.72)"/><use href="#kA" transform="translate(572.5,608.3) scale(0.72)"/><use href="#kA" transform="translate(579.9,608.3) scale(0.72)"/><use href="#kA" transform="translate(587.2,608.3) scale(0.72)"/><use href="#kA" transform="translate(594.5,608.3) scale(0.72)"/><use href="#kA" transform="translate(601.9,608.3) scale(0.72)"/><use href="#kA" transform="translate(609.2,608.3) scale(0.72)"/><use href="#kA" transform="translate(616.6,608.3) scale(0.72)"/><use href="#kA" transform="translate(623.9,608.3) scale(0.72)"/><use href="#kA" transform="translate(631.3,608.3) scale(0.72)"/><use href="#kA" transform="translate(638.6,608.3) scale(0.72)"/><use href="#kA" transform="translate(646.0,608.3) scale(0.72)"/><use href="#kA" transform="translate(653.3,608.3) scale(0.72)"/><use href="#kA" transform="translate(660.7,608.3) scale(0.72)"/>
<use href="#kA" transform="translate(518.7,613.2) scale(0.76)"/><use href="#kA" transform="translate(526.3,613.2) scale(0.76)"/><use href="#kA" transform="translate(533.9,613.2) scale(0.76)"/><use href="#kA" transform="translate(541.5,613.2) scale(0.76)"/><use href="#kA" transform="translate(549.1,613.2) scale(0.76)"/><use href="#kA" transform="translate(556.7,613.2) scale(0.76)"/><use href="#kA" transform="translate(564.3,613.2) scale(0.76)"/><use href="#kA" transform="translate(571.9,613.2) scale(0.76)"/><use href="#kA" transform="translate(579.5,613.2) scale(0.76)"/><use href="#kA" transform="translate(587.1,613.2) scale(0.76)"/><use href="#kA" transform="translate(594.7,613.2) scale(0.76)"/><use href="#kA" transform="translate(602.3,613.2) scale(0.76)"/><use href="#kA" transform="translate(609.9,613.2) scale(0.76)"/><use href="#kA" transform="translate(617.5,613.2) scale(0.76)"/><use href="#kA" transform="translate(625.1,613.2) scale(0.76)"/><use href="#kA" transform="translate(632.7,613.2) scale(0.76)"/><use href="#kA" transform="translate(640.3,613.2) scale(0.76)"/><use href="#kA" transform="translate(647.9,613.2) scale(0.76)"/><use href="#kA" transform="translate(655.5,613.2) scale(0.76)"/><use href="#kA" transform="translate(663.1,613.2) scale(0.76)"/>
<use href="#kA" transform="translate(516.3,618.3) scale(0.79)"/><use href="#kA" transform="translate(524.1,618.3) scale(0.79)"/><use href="#kA" transform="translate(532.0,618.3) scale(0.79)"/><use href="#kA" transform="translate(539.9,618.3) scale(0.79)"/><use href="#kA" transform="translate(547.7,618.3) scale(0.79)"/><use href="#kA" transform="translate(555.6,618.3) scale(0.79)"/><use href="#kA" transform="translate(563.4,618.3) scale(0.79)"/><use href="#kA" transform="translate(571.3,618.3) scale(0.79)"/><use href="#kA" transform="translate(579.2,618.3) scale(0.79)"/><use href="#kA" transform="translate(587.0,618.3) scale(0.79)"/><use href="#kA" transform="translate(594.9,618.3) scale(0.79)"/><use href="#kA" transform="translate(602.8,618.3) scale(0.79)"/><use href="#kA" transform="translate(610.6,618.3) scale(0.79)"/><use href="#kA" transform="translate(618.5,618.3) scale(0.79)"/><use href="#kA" transform="translate(626.3,618.3) scale(0.79)"/><use href="#kA" transform="translate(634.2,618.3) scale(0.79)"/><use href="#kA" transform="translate(642.1,618.3) scale(0.79)"/><use href="#kA" transform="translate(649.9,618.3) scale(0.79)"/><use href="#kA" transform="translate(657.8,618.3) scale(0.79)"/><use href="#kA" transform="translate(665.7,618.3) scale(0.79)"/>
<use href="#kA" transform="translate(513.7,623.7) scale(0.83)"/><use href="#kA" transform="translate(521.8,623.7) scale(0.83)"/><use href="#kA" transform="translate(529.9,623.7) scale(0.83)"/><use href="#kA" transform="translate(538.1,623.7) scale(0.83)"/><use href="#kA" transform="translate(546.2,623.7) scale(0.83)"/><use href="#kA" transform="translate(554.4,623.7) scale(0.83)"/><use href="#kA" transform="translate(562.5,623.7) scale(0.83)"/><use href="#kA" transform="translate(570.7,623.7) scale(0.83)"/><use href="#kA" transform="translate(578.8,623.7) scale(0.83)"/><use href="#kA" transform="translate(586.9,623.7) scale(0.83)"/><use href="#kA" transform="translate(595.1,623.7) scale(0.83)"/><use href="#kA" transform="translate(603.2,623.7) scale(0.83)"/><use href="#kA" transform="translate(611.4,623.7) scale(0.83)"/><use href="#kA" transform="translate(619.5,623.7) scale(0.83)"/><use href="#kA" transform="translate(627.6,623.7) scale(0.83)"/><use href="#kA" transform="translate(635.8,623.7) scale(0.83)"/><use href="#kA" transform="translate(643.9,623.7) scale(0.83)"/><use href="#kA" transform="translate(652.1,623.7) scale(0.83)"/><use href="#kA" transform="translate(660.2,623.7) scale(0.83)"/><use href="#kA" transform="translate(668.4,623.7) scale(0.83)"/>
<use href="#kA" transform="translate(510.9,629.3) scale(0.87)"/><use href="#kA" transform="translate(519.4,629.3) scale(0.87)"/><use href="#kA" transform="translate(527.8,629.3) scale(0.87)"/><use href="#kA" transform="translate(536.2,629.3) scale(0.87)"/><use href="#kA" transform="translate(544.7,629.3) scale(0.87)"/><use href="#kA" transform="translate(553.1,629.3) scale(0.87)"/><use href="#kA" transform="translate(561.5,629.3) scale(0.87)"/><use href="#kA" transform="translate(570.0,629.3) scale(0.87)"/><use href="#kA" transform="translate(578.4,629.3) scale(0.87)"/><use href="#kA" transform="translate(586.8,629.3) scale(0.87)"/><use href="#kA" transform="translate(595.3,629.3) scale(0.87)"/><use href="#kA" transform="translate(603.7,629.3) scale(0.87)"/><use href="#kA" transform="translate(612.1,629.3) scale(0.87)"/><use href="#kA" transform="translate(620.6,629.3) scale(0.87)"/><use href="#kA" transform="translate(629.0,629.3) scale(0.87)"/><use href="#kA" transform="translate(637.4,629.3) scale(0.87)"/><use href="#kA" transform="translate(645.9,629.3) scale(0.87)"/><use href="#kA" transform="translate(654.3,629.3) scale(0.87)"/><use href="#kA" transform="translate(662.7,629.3) scale(0.87)"/><use href="#kA" transform="translate(671.2,629.3) scale(0.87)"/>
<use href="#kA" transform="translate(508.1,635.2) scale(0.91)"/><use href="#kA" transform="translate(516.9,635.2) scale(0.91)"/><use href="#kA" transform="translate(525.6,635.2) scale(0.91)"/><use href="#kA" transform="translate(534.3,635.2) scale(0.91)"/><use href="#kA" transform="translate(543.1,635.2) scale(0.91)"/><use href="#kA" transform="translate(551.8,635.2) scale(0.91)"/><use href="#kA" transform="translate(560.5,635.2) scale(0.91)"/><use href="#kA" transform="translate(569.3,635.2) scale(0.91)"/><use href="#kA" transform="translate(578.0,635.2) scale(0.91)"/><use href="#kA" transform="translate(586.7,635.2) scale(0.91)"/><use href="#kA" transform="translate(595.5,635.2) scale(0.91)"/><use href="#kA" transform="translate(604.2,635.2) scale(0.91)"/><use href="#kA" transform="translate(612.9,635.2) scale(0.91)"/><use href="#kA" transform="translate(621.7,635.2) scale(0.91)"/><use href="#kA" transform="translate(630.4,635.2) scale(0.91)"/><use href="#kA" transform="translate(639.1,635.2) scale(0.91)"/><use href="#kA" transform="translate(647.9,635.2) scale(0.91)"/><use href="#kA" transform="translate(656.6,635.2) scale(0.91)"/><use href="#kA" transform="translate(665.4,635.2) scale(0.91)"/><use href="#kA" transform="translate(674.1,635.2) scale(0.91)"/>
<use href="#kA" transform="translate(505.2,641.2) scale(0.96)"/><use href="#kA" transform="translate(514.3,641.2) scale(0.96)"/><use href="#kA" transform="translate(523.3,641.2) scale(0.96)"/><use href="#kA" transform="translate(532.3,641.2) scale(0.96)"/><use href="#kA" transform="translate(541.4,641.2) scale(0.96)"/><use href="#kA" transform="translate(550.4,641.2) scale(0.96)"/><use href="#kA" transform="translate(559.5,641.2) scale(0.96)"/><use href="#kA" transform="translate(568.5,641.2) scale(0.96)"/><use href="#kA" transform="translate(577.6,641.2) scale(0.96)"/><use href="#kA" transform="translate(586.6,641.2) scale(0.96)"/><use href="#kA" transform="translate(595.7,641.2) scale(0.96)"/><use href="#kA" transform="translate(604.7,641.2) scale(0.96)"/><use href="#kA" transform="translate(613.8,641.2) scale(0.96)"/><use href="#kA" transform="translate(622.8,641.2) scale(0.96)"/><use href="#kA" transform="translate(631.9,641.2) scale(0.96)"/><use href="#kA" transform="translate(640.9,641.2) scale(0.96)"/><use href="#kA" transform="translate(650.0,641.2) scale(0.96)"/><use href="#kA" transform="translate(659.0,641.2) scale(0.96)"/><use href="#kA" transform="translate(668.1,641.2) scale(0.96)"/><use href="#kA" transform="translate(677.1,641.2) scale(0.96)"/>
<use href="#kA" transform="translate(502.2,647.5) scale(1.00)"/><use href="#kA" transform="translate(511.6,647.5) scale(1.00)"/><use href="#kA" transform="translate(520.9,647.5) scale(1.00)"/><use href="#kA" transform="translate(530.3,647.5) scale(1.00)"/><use href="#kA" transform="translate(539.7,647.5) scale(1.00)"/><use href="#kA" transform="translate(549.0,647.5) scale(1.00)"/><use href="#kA" transform="translate(558.4,647.5) scale(1.00)"/><use href="#kA" transform="translate(567.8,647.5) scale(1.00)"/><use href="#kA" transform="translate(577.2,647.5) scale(1.00)"/><use href="#kA" transform="translate(586.5,647.5) scale(1.00)"/><use href="#kA" transform="translate(595.9,647.5) scale(1.00)"/><use href="#kA" transform="translate(605.3,647.5) scale(1.00)"/><use href="#kA" transform="translate(614.6,647.5) scale(1.00)"/><use href="#kA" transform="translate(624.0,647.5) scale(1.00)"/><use href="#kA" transform="translate(633.4,647.5) scale(1.00)"/><use href="#kA" transform="translate(642.7,647.5) scale(1.00)"/><use href="#kA" transform="translate(652.1,647.5) scale(1.00)"/><use href="#kA" transform="translate(661.5,647.5) scale(1.00)"/><use href="#kA" transform="translate(670.9,647.5) scale(1.00)"/><use href="#kA" transform="translate(680.2,647.5) scale(1.00)"/>
<use href="#kA" transform="translate(499.1,653.9) scale(1.05)"/><use href="#kA" transform="translate(508.8,653.9) scale(1.05)"/><use href="#kA" transform="translate(518.5,653.9) scale(1.05)"/><use href="#kA" transform="translate(528.2,653.9) scale(1.05)"/><use href="#kA" transform="translate(537.9,653.9) scale(1.05)"/><use href="#kA" transform="translate(547.6,653.9) scale(1.05)"/><use href="#kA" transform="translate(557.3,653.9) scale(1.05)"/><use href="#kA" transform="translate(567.0,653.9) scale(1.05)"/><use href="#kA" transform="translate(576.7,653.9) scale(1.05)"/><use href="#kA" transform="translate(586.4,653.9) scale(1.05)"/><use href="#kA" transform="translate(596.1,653.9) scale(1.05)"/><use href="#kA" transform="translate(605.8,653.9) scale(1.05)"/><use href="#kA" transform="translate(615.5,653.9) scale(1.05)"/><use href="#kA" transform="translate(625.2,653.9) scale(1.05)"/><use href="#kA" transform="translate(634.9,653.9) scale(1.05)"/><use href="#kA" transform="translate(644.6,653.9) scale(1.05)"/><use href="#kA" transform="translate(654.3,653.9) scale(1.05)"/><use href="#kA" transform="translate(664.0,653.9) scale(1.05)"/><use href="#kA" transform="translate(673.7,653.9) scale(1.05)"/><use href="#kA" transform="translate(683.4,653.9) scale(1.05)"/>
<use href="#kA" transform="translate(495.9,660.4) scale(1.09)"/><use href="#kA" transform="translate(506.0,660.4) scale(1.09)"/><use href="#kA" transform="translate(516.0,660.4) scale(1.09)"/><use href="#kA" transform="translate(526.1,660.4) scale(1.09)"/><use href="#kA" transform="translate(536.1,660.4) scale(1.09)"/><use href="#kA" transform="translate(546.1,660.4) scale(1.09)"/><use href="#kA" transform="translate(556.2,660.4) scale(1.09)"/><use href="#kA" transform="translate(566.2,660.4) scale(1.09)"/><use href="#kA" transform="translate(576.3,660.4) scale(1.09)"/><use href="#kA" transform="translate(586.3,660.4) scale(1.09)"/><use href="#kA" transform="translate(596.3,660.4) scale(1.09)"/><use href="#kA" transform="translate(606.4,660.4) scale(1.09)"/><use href="#kA" transform="translate(616.4,660.4) scale(1.09)"/><use href="#kA" transform="translate(626.5,660.4) scale(1.09)"/><use href="#kA" transform="translate(636.5,660.4) scale(1.09)"/><use href="#kA" transform="translate(646.5,660.4) scale(1.09)"/><use href="#kA" transform="translate(656.6,660.4) scale(1.09)"/><use href="#kA" transform="translate(666.6,660.4) scale(1.09)"/><use href="#kA" transform="translate(676.7,660.4) scale(1.09)"/><use href="#kA" transform="translate(686.7,660.4) scale(1.09)"/>
<use href="#kA" transform="translate(492.7,667.1) scale(1.14)"/><use href="#kA" transform="translate(503.1,667.1) scale(1.14)"/><use href="#kA" transform="translate(513.5,667.1) scale(1.14)"/><use href="#kA" transform="translate(523.9,667.1) scale(1.14)"/><use href="#kA" transform="translate(534.2,667.1) scale(1.14)"/><use href="#kA" transform="translate(544.6,667.1) scale(1.14)"/><use href="#kA" transform="translate(555.0,667.1) scale(1.14)"/><use href="#kA" transform="translate(565.4,667.1) scale(1.14)"/><use href="#kA" transform="translate(575.8,667.1) scale(1.14)"/><use href="#kA" transform="translate(586.2,667.1) scale(1.14)"/><use href="#kA" transform="translate(596.6,667.1) scale(1.14)"/><use href="#kA" transform="translate(607.0,667.1) scale(1.14)"/><use href="#kA" transform="translate(617.4,667.1) scale(1.14)"/><use href="#kA" transform="translate(627.7,667.1) scale(1.14)"/><use href="#kA" transform="translate(638.1,667.1) scale(1.14)"/><use href="#kA" transform="translate(648.5,667.1) scale(1.14)"/><use href="#kA" transform="translate(658.9,667.1) scale(1.14)"/><use href="#kA" transform="translate(669.3,667.1) scale(1.14)"/><use href="#kA" transform="translate(679.7,667.1) scale(1.14)"/><use href="#kA" transform="translate(690.1,667.1) scale(1.14)"/>
<use href="#kA" transform="translate(489.4,674.0) scale(1.19)"/><use href="#kA" transform="translate(500.1,674.0) scale(1.19)"/><use href="#kA" transform="translate(510.9,674.0) scale(1.19)"/><use href="#kA" transform="translate(521.6,674.0) scale(1.19)"/><use href="#kA" transform="translate(532.4,674.0) scale(1.19)"/><use href="#kA" transform="translate(543.1,674.0) scale(1.19)"/><use href="#kA" transform="translate(553.8,674.0) scale(1.19)"/><use href="#kA" transform="translate(564.6,674.0) scale(1.19)"/><use href="#kA" transform="translate(575.3,674.0) scale(1.19)"/><use href="#kA" transform="translate(586.1,674.0) scale(1.19)"/><use href="#kA" transform="translate(596.8,674.0) scale(1.19)"/><use href="#kA" transform="translate(607.6,674.0) scale(1.19)"/><use href="#kA" transform="translate(618.3,674.0) scale(1.19)"/><use href="#kA" transform="translate(629.0,674.0) scale(1.19)"/><use href="#kA" transform="translate(639.8,674.0) scale(1.19)"/><use href="#kA" transform="translate(650.5,674.0) scale(1.19)"/><use href="#kA" transform="translate(661.3,674.0) scale(1.19)"/><use href="#kA" transform="translate(672.0,674.0) scale(1.19)"/><use href="#kA" transform="translate(682.8,674.0) scale(1.19)"/><use href="#kA" transform="translate(693.5,674.0) scale(1.19)"/>
<use href="#kA" transform="translate(486.0,681.0) scale(1.24)"/><use href="#kA" transform="translate(497.1,681.0) scale(1.24)"/><use href="#kA" transform="translate(508.2,681.0) scale(1.24)"/><use href="#kA" transform="translate(519.3,681.0) scale(1.24)"/><use href="#kA" transform="translate(530.4,681.0) scale(1.24)"/><use href="#kA" transform="translate(541.5,681.0) scale(1.24)"/><use href="#kA" transform="translate(552.6,681.0) scale(1.24)"/><use href="#kA" transform="translate(563.7,681.0) scale(1.24)"/><use href="#kA" transform="translate(574.8,681.0) scale(1.24)"/><use href="#kA" transform="translate(585.9,681.0) scale(1.24)"/><use href="#kA" transform="translate(597.1,681.0) scale(1.24)"/><use href="#kA" transform="translate(608.2,681.0) scale(1.24)"/><use href="#kA" transform="translate(619.3,681.0) scale(1.24)"/><use href="#kA" transform="translate(630.4,681.0) scale(1.24)"/><use href="#kA" transform="translate(641.5,681.0) scale(1.24)"/><use href="#kA" transform="translate(652.6,681.0) scale(1.24)"/><use href="#kA" transform="translate(663.7,681.0) scale(1.24)"/><use href="#kA" transform="translate(674.8,681.0) scale(1.24)"/><use href="#kA" transform="translate(685.9,681.0) scale(1.24)"/><use href="#kA" transform="translate(697.0,681.0) scale(1.24)"/>
<polygon points="484.0,690.0 699.0,690.0 701.0,697.5 481.0,697.5" fill="#3a7890" />
<rect x="488.6" y="679" width="4.8" height="18" rx="2.3" fill="#b67ad6"/><rect x="491.7" y="680" width="1.6" height="16.5" rx="0.8" fill="#9c5cc2"/>
<rect x="503.9" y="679" width="4.8" height="18" rx="2.3" fill="#b67ad6"/><rect x="507.0" y="680" width="1.6" height="16.5" rx="0.8" fill="#9c5cc2"/>
<rect x="519.2" y="679" width="4.8" height="18" rx="2.3" fill="#b67ad6"/><rect x="522.3" y="680" width="1.6" height="16.5" rx="0.8" fill="#9c5cc2"/>
<rect x="534.5" y="679" width="4.8" height="18" rx="2.3" fill="#b67ad6"/><rect x="537.6" y="680" width="1.6" height="16.5" rx="0.8" fill="#9c5cc2"/>
<rect x="549.8" y="679" width="4.8" height="18" rx="2.3" fill="#b67ad6"/><rect x="552.9" y="680" width="1.6" height="16.5" rx="0.8" fill="#9c5cc2"/>
<rect x="565.1" y="679" width="4.8" height="18" rx="2.3" fill="#b67ad6"/><rect x="568.2" y="680" width="1.6" height="16.5" rx="0.8" fill="#9c5cc2"/>
<rect x="580.4" y="679" width="4.8" height="18" rx="2.3" fill="#b67ad6"/><rect x="583.5" y="680" width="1.6" height="16.5" rx="0.8" fill="#9c5cc2"/>
<rect x="595.7" y="679" width="4.8" height="18" rx="2.3" fill="#b67ad6"/><rect x="598.8" y="680" width="1.6" height="16.5" rx="0.8" fill="#9c5cc2"/>
<rect x="611.0" y="679" width="4.8" height="18" rx="2.3" fill="#b67ad6"/><rect x="614.1" y="680" width="1.6" height="16.5" rx="0.8" fill="#9c5cc2"/>
<rect x="626.3" y="679" width="4.8" height="18" rx="2.3" fill="#b67ad6"/><rect x="629.4" y="680" width="1.6" height="16.5" rx="0.8" fill="#9c5cc2"/>
<rect x="641.6" y="679" width="4.8" height="18" rx="2.3" fill="#b67ad6"/><rect x="644.7" y="680" width="1.6" height="16.5" rx="0.8" fill="#9c5cc2"/>
<rect x="656.9" y="679" width="4.8" height="18" rx="2.3" fill="#b67ad6"/><rect x="660.0" y="680" width="1.6" height="16.5" rx="0.8" fill="#9c5cc2"/>
<rect x="672.2" y="679" width="4.8" height="18" rx="2.3" fill="#b67ad6"/><rect x="675.3" y="680" width="1.6" height="16.5" rx="0.8" fill="#9c5cc2"/>
<rect x="687.5" y="679" width="4.8" height="18" rx="2.3" fill="#b67ad6"/><rect x="690.6" y="680" width="1.6" height="16.5" rx="0.8" fill="#9c5cc2"/>
<polygon points="780.5,594.0 905.0,594.0 954.5,698.7 730.0,698.7" fill="#4e92a6" />
<polygon points="730.0,698.7 954.5,698.7 952.5,711.7 732.0,711.7" fill="#5aa2b0" />
<polygon points="788.0,598.0 898.0,598.0 938.0,688.0 752.0,688.0" fill="#6c4298" />
<path d="M820.0,594.2l2.9,4.5l3.1,-4.0l2.9,4.5M822.9,598.6l0,4.9" stroke="#9a54c0" stroke-width="2.1" stroke-linecap="round" stroke-linejoin="round" fill="none"/>
<path d="M824.8,592.7l2.4,3.8l2.6,-3.3l2.4,3.8M827.2,596.5l0,4.1" stroke="#8a46b2" stroke-width="1.7" stroke-linecap="round" stroke-linejoin="round" fill="none"/>
<g transform="translate(824.0,597.2) rotate(60)" opacity="0.93"><ellipse rx="5.0" ry="4.7" fill="url(#gD1)"/><path d="M-0.8,-4.7 A5.0,4.7 0 0 1 0.8,4.7" fill="none" stroke="#c4d8ff" stroke-width="0.6" opacity="0.55"/></g>
<path d="M829.0,594.2l2.9,4.5l3.1,-4.0l2.9,4.5M831.9,598.7l0,4.9" stroke="#9a54c0" stroke-width="2.1" stroke-linecap="round" stroke-linejoin="round" fill="none"/>
<path d="M833.8,592.7l2.4,3.8l2.6,-3.3l2.4,3.8M836.2,596.5l0,4.1" stroke="#a05cc6" stroke-width="1.7" stroke-linecap="round" stroke-linejoin="round" fill="none"/>
<g transform="translate(833.1,596.7) rotate(24)" opacity="0.93"><ellipse rx="5.6" ry="5.7" fill="url(#gD4)"/><path d="M-0.8,-5.7 A5.6,5.7 0 0 1 0.8,5.7" fill="none" stroke="#c4d8ff" stroke-width="0.6" opacity="0.55"/></g>
<path d="M882.1,594.3l2.9,4.5l3.1,-4.0l2.9,4.5M884.9,598.8l0,4.9" stroke="#aa68d0" stroke-width="2.1" stroke-linecap="round" stroke-linejoin="round" fill="none"/>
<path d="M886.8,592.9l2.4,3.8l2.6,-3.3l2.4,3.8M889.3,596.6l0,4.1" stroke="#8a46b2" stroke-width="1.7" stroke-linecap="round" stroke-linejoin="round" fill="none"/>
<g transform="translate(883.6,596.9) rotate(24)" opacity="0.93"><ellipse rx="6.1" ry="5.7" fill="url(#gD2)"/><path d="M-0.9,-5.7 A6.1,5.7 0 0 1 0.9,5.7" fill="none" stroke="#c4d8ff" stroke-width="0.6" opacity="0.55"/></g>
<path d="M794.9,594.7l2.9,4.5l3.1,-4.0l2.9,4.5M797.8,599.2l0,4.9" stroke="#aa68d0" stroke-width="2.1" stroke-linecap="round" stroke-linejoin="round" fill="none"/>
<path d="M799.7,593.2l2.4,3.8l2.6,-3.3l2.4,3.8M802.1,597.0l0,4.1" stroke="#a05cc6" stroke-width="1.7" stroke-linecap="round" stroke-linejoin="round" fill="none"/>
<g transform="translate(801.5,597.1) rotate(-28)" opacity="0.93"><ellipse rx="5.8" ry="6.0" fill="url(#gD4)"/><path d="M-0.9,-6.0 A5.8,6.0 0 0 1 0.9,6.0" fill="none" stroke="#c4d8ff" stroke-width="0.6" opacity="0.55"/></g>
<path d="M872.1,594.7l2.9,4.5l3.1,-4.0l2.9,4.5M875.0,599.2l0,4.9" stroke="#9a54c0" stroke-width="2.1" stroke-linecap="round" stroke-linejoin="round" fill="none"/>
<path d="M876.9,593.3l2.4,3.8l2.6,-3.3l2.4,3.8M879.3,597.1l0,4.1" stroke="#a05cc6" stroke-width="1.7" stroke-linecap="round" stroke-linejoin="round" fill="none"/>
<path d="M855.5,594.8l2.9,4.5l3.1,-4.0l2.9,4.5M858.4,599.3l0,4.9" stroke="#9a54c0" stroke-width="2.1" stroke-linecap="round" stroke-linejoin="round" fill="none"/>
<path d="M860.3,593.3l2.4,3.8l2.6,-3.3l2.4,3.8M862.7,597.1l0,4.1" stroke="#a05cc6" stroke-width="1.7" stroke-linecap="round" stroke-linejoin="round" fill="none"/>
<g transform="translate(859.5,597.6) rotate(-8)" opacity="0.93"><ellipse rx="5.0" ry="5.1" fill="url(#gD4)"/><path d="M-0.8,-5.1 A5.0,5.1 0 0 1 0.8,5.1" fill="none" stroke="#c4d8ff" stroke-width="0.6" opacity="0.55"/></g>
<path d="M802.3,595.0l2.9,4.5l3.1,-4.0l2.9,4.5M805.1,599.5l0,4.9" stroke="#aa68d0" stroke-width="2.1" stroke-linecap="round" stroke-linejoin="round" fill="none"/>
<path d="M807.0,593.6l2.4,3.8l2.6,-3.3l2.4,3.8M809.4,597.3l0,4.1" stroke="#a05cc6" stroke-width="1.7" stroke-linecap="round" stroke-linejoin="round" fill="none"/>
<g transform="translate(808.2,597.3) rotate(24)" opacity="0.93"><ellipse rx="6.1" ry="6.1" fill="url(#gD3)"/><path d="M-0.9,-6.1 A6.1,6.1 0 0 1 0.9,6.1" fill="none" stroke="#c4d8ff" stroke-width="0.6" opacity="0.55"/></g>
<path d="M889.9,595.1l2.9,4.5l3.1,-4.0l2.9,4.5M892.8,599.6l0,4.9" stroke="#aa68d0" stroke-width="2.1" stroke-linecap="round" stroke-linejoin="round" fill="none"/>
<path d="M894.7,593.7l2.4,3.8l2.6,-3.3l2.4,3.8M897.1,597.4l0,4.1" stroke="#8a46b2" stroke-width="1.7" stroke-linecap="round" stroke-linejoin="round" fill="none"/>
<path d="M785.8,595.8l2.9,4.5l3.1,-4.0l2.9,4.5M788.6,600.3l0,4.9" stroke="#9a54c0" stroke-width="2.1" stroke-linecap="round" stroke-linejoin="round" fill="none"/>
<path d="M790.5,594.3l2.4,3.8l2.6,-3.3l2.4,3.8M792.9,598.1l0,4.1" stroke="#a05cc6" stroke-width="1.7" stroke-linecap="round" stroke-linejoin="round" fill="none"/>
<path d="M838.6,596.0l2.9,4.5l3.1,-4.0l2.9,4.5M841.4,600.5l0,4.9" stroke="#aa68d0" stroke-width="2.1" stroke-linecap="round" stroke-linejoin="round" fill="none"/>
<path d="M843.3,594.6l2.4,3.8l2.6,-3.3l2.4,3.8M845.8,598.3l0,4.1" stroke="#8a46b2" stroke-width="1.7" stroke-linecap="round" stroke-linejoin="round" fill="none"/>
<g transform="translate(845.6,598.6) rotate(35)" opacity="0.93"><ellipse rx="5.9" ry="5.7" fill="url(#gD2)"/><path d="M-0.9,-5.7 A5.9,5.7 0 0 1 0.9,5.7" fill="none" stroke="#c4d8ff" stroke-width="0.6" opacity="0.55"/></g>
<path d="M864.5,596.6l2.9,4.5l3.1,-4.0l2.9,4.5M867.4,601.1l0,4.9" stroke="#aa68d0" stroke-width="2.1" stroke-linecap="round" stroke-linejoin="round" fill="none"/>
<path d="M869.3,595.2l2.4,3.8l2.6,-3.3l2.4,3.8M871.7,599.0l0,4.1" stroke="#a05cc6" stroke-width="1.7" stroke-linecap="round" stroke-linejoin="round" fill="none"/>
<g transform="translate(866.6,598.8) rotate(-8)" opacity="0.93"><ellipse rx="6.3" ry="6.5" fill="url(#gD4)"/><path d="M-0.9,-6.5 A6.3,6.5 0 0 1 0.9,6.5" fill="none" stroke="#c4d8ff" stroke-width="0.6" opacity="0.55"/></g>
<path d="M810.9,597.1l2.9,4.5l3.1,-4.0l2.9,4.5M813.7,601.5l0,4.9" stroke="#aa68d0" stroke-width="2.1" stroke-linecap="round" stroke-linejoin="round" fill="none"/>
<path d="M815.7,595.6l2.4,3.8l2.6,-3.3l2.4,3.8M818.1,599.4l0,4.1" stroke="#a05cc6" stroke-width="1.7" stroke-linecap="round" stroke-linejoin="round" fill="none"/>
<path d="M846.6,597.1l2.9,4.5l3.1,-4.0l2.9,4.5M849.5,601.6l0,4.9" stroke="#aa68d0" stroke-width="2.1" stroke-linecap="round" stroke-linejoin="round" fill="none"/>
<path d="M851.4,595.6l2.4,3.8l2.6,-3.3l2.4,3.8M853.8,599.4l0,4.1" stroke="#a05cc6" stroke-width="1.7" stroke-linecap="round" stroke-linejoin="round" fill="none"/>
<path d="M836.8,603.8l3.1,4.9l3.3,-4.3l3.1,4.9M839.9,608.7l0,5.4" stroke="#9a54c0" stroke-width="2.2" stroke-linecap="round" stroke-linejoin="round" fill="none"/>
<path d="M842.0,602.2l2.6,4.1l2.8,-3.6l2.6,4.1M844.6,606.3l0,4.5" stroke="#a05cc6" stroke-width="1.9" stroke-linecap="round" stroke-linejoin="round" fill="none"/>
<path d="M780.2,603.9l3.1,4.9l3.3,-4.3l3.1,4.9M783.3,608.7l0,5.4" stroke="#aa68d0" stroke-width="2.2" stroke-linecap="round" stroke-linejoin="round" fill="none"/>
<path d="M785.4,602.3l2.6,4.1l2.8,-3.6l2.6,4.1M788.0,606.4l0,4.5" stroke="#8a46b2" stroke-width="1.9" stroke-linecap="round" stroke-linejoin="round" fill="none"/>
<g transform="translate(784.0,606.5) rotate(-28)" opacity="0.93"><ellipse rx="6.6" ry="6.5" fill="url(#gD1)"/><path d="M-1.0,-6.5 A6.6,6.5 0 0 1 1.0,6.5" fill="none" stroke="#c4d8ff" stroke-width="0.6" opacity="0.55"/></g>
<path d="M800.5,603.9l3.1,4.9l3.3,-4.3l3.1,4.9M803.6,608.8l0,5.4" stroke="#9a54c0" stroke-width="2.2" stroke-linecap="round" stroke-linejoin="round" fill="none"/>
<path d="M805.7,602.3l2.6,4.1l2.8,-3.6l2.6,4.1M808.3,606.4l0,4.5" stroke="#8a46b2" stroke-width="1.9" stroke-linecap="round" stroke-linejoin="round" fill="none"/>
<path d="M858.3,604.1l3.1,4.9l3.3,-4.3l3.1,4.9M861.4,609.0l0,5.4" stroke="#aa68d0" stroke-width="2.2" stroke-linecap="round" stroke-linejoin="round" fill="none"/>
<path d="M863.5,602.5l2.6,4.1l2.8,-3.6l2.6,4.1M866.1,606.6l0,4.5" stroke="#a05cc6" stroke-width="1.9" stroke-linecap="round" stroke-linejoin="round" fill="none"/>
<g transform="translate(865.0,606.3) rotate(-18)" opacity="0.93"><ellipse rx="6.8" ry="7.3" fill="url(#gD4)"/><path d="M-1.0,-7.3 A6.8,7.3 0 0 1 1.0,7.3" fill="none" stroke="#c4d8ff" stroke-width="0.6" opacity="0.55"/></g>
<path d="M865.9,604.1l3.1,4.9l3.3,-4.3l3.1,4.9M869.0,609.0l0,5.4" stroke="#aa68d0" stroke-width="2.2" stroke-linecap="round" stroke-linejoin="round" fill="none"/>
<path d="M871.1,602.5l2.6,4.1l2.8,-3.6l2.6,4.1M873.7,606.6l0,4.5" stroke="#8a46b2" stroke-width="1.9" stroke-linecap="round" stroke-linejoin="round" fill="none"/>
<path d="M827.7,604.3l3.1,4.9l3.3,-4.3l3.1,4.9M830.8,609.2l0,5.4" stroke="#9a54c0" stroke-width="2.2" stroke-linecap="round" stroke-linejoin="round" fill="none"/>
<path d="M832.9,602.8l2.6,4.1l2.8,-3.6l2.6,4.1M835.5,606.8l0,4.5" stroke="#8a46b2" stroke-width="1.9" stroke-linecap="round" stroke-linejoin="round" fill="none"/>
<path d="M790.7,604.9l3.1,4.9l3.3,-4.3l3.1,4.9M793.8,609.8l0,5.4" stroke="#aa68d0" stroke-width="2.2" stroke-linecap="round" stroke-linejoin="round" fill="none"/>
<path d="M795.9,603.3l2.6,4.1l2.8,-3.6l2.6,4.1M798.5,607.4l0,4.5" stroke="#8a46b2" stroke-width="1.9" stroke-linecap="round" stroke-linejoin="round" fill="none"/>
<g transform="translate(796.0,607.6) rotate(35)" opacity="0.93"><ellipse rx="6.5" ry="6.4" fill="url(#gD1)"/><path d="M-1.0,-6.4 A6.5,6.4 0 0 1 1.0,6.4" fill="none" stroke="#c4d8ff" stroke-width="0.6" opacity="0.55"/></g>
<path d="M847.2,604.9l3.1,4.9l3.3,-4.3l3.1,4.9M850.4,609.8l0,5.4" stroke="#9a54c0" stroke-width="2.2" stroke-linecap="round" stroke-linejoin="round" fill="none"/>
<path d="M852.4,603.3l2.6,4.1l2.8,-3.6l2.6,4.1M855.0,607.4l0,4.5" stroke="#a05cc6" stroke-width="1.9" stroke-linecap="round" stroke-linejoin="round" fill="none"/>
<path d="M896.3,605.3l3.1,4.9l3.3,-4.3l3.1,4.9M899.4,610.2l0,5.4" stroke="#9a54c0" stroke-width="2.2" stroke-linecap="round" stroke-linejoin="round" fill="none"/>
<path d="M901.5,603.8l2.6,4.1l2.8,-3.6l2.6,4.1M904.1,607.9l0,4.5" stroke="#a05cc6" stroke-width="1.9" stroke-linecap="round" stroke-linejoin="round" fill="none"/>
<g transform="translate(901.2,608.2) rotate(5)" opacity="0.93"><ellipse rx="5.6" ry="6.0" fill="url(#gD3)"/><path d="M-0.8,-6.0 A5.6,6.0 0 0 1 0.8,6.0" fill="none" stroke="#c4d8ff" stroke-width="0.6" opacity="0.55"/></g>
<path d="M811.0,606.0l3.1,4.9l3.3,-4.3l3.1,4.9M814.2,610.8l0,5.4" stroke="#aa68d0" stroke-width="2.2" stroke-linecap="round" stroke-linejoin="round" fill="none"/>
<path d="M816.2,604.4l2.6,4.1l2.8,-3.6l2.6,4.1M818.8,608.5l0,4.5" stroke="#8a46b2" stroke-width="1.9" stroke-linecap="round" stroke-linejoin="round" fill="none"/>
<path d="M818.7,606.1l3.1,4.9l3.3,-4.3l3.1,4.9M821.9,611.0l0,5.4" stroke="#9a54c0" stroke-width="2.2" stroke-linecap="round" stroke-linejoin="round" fill="none"/>
<path d="M823.9,604.5l2.6,4.1l2.8,-3.6l2.6,4.1M826.6,608.6l0,4.5" stroke="#a05cc6" stroke-width="1.9" stroke-linecap="round" stroke-linejoin="round" fill="none"/>
<path d="M877.6,606.2l3.1,4.9l3.3,-4.3l3.1,4.9M880.7,611.1l0,5.4" stroke="#9a54c0" stroke-width="2.2" stroke-linecap="round" stroke-linejoin="round" fill="none"/>
<path d="M882.8,604.6l2.6,4.1l2.8,-3.6l2.6,4.1M885.4,608.7l0,4.5" stroke="#8a46b2" stroke-width="1.9" stroke-linecap="round" stroke-linejoin="round" fill="none"/>
<path d="M884.3,606.4l3.1,4.9l3.3,-4.3l3.1,4.9M887.4,611.3l0,5.4" stroke="#aa68d0" stroke-width="2.2" stroke-linecap="round" stroke-linejoin="round" fill="none"/>
<path d="M889.5,604.9l2.6,4.1l2.8,-3.6l2.6,4.1M892.1,609.0l0,4.5" stroke="#8a46b2" stroke-width="1.9" stroke-linecap="round" stroke-linejoin="round" fill="none"/>
<g transform="translate(891.0,609.1) rotate(24)" opacity="0.93"><ellipse rx="6.5" ry="6.4" fill="url(#gD2)"/><path d="M-1.0,-6.4 A6.5,6.4 0 0 1 1.0,6.4" fill="none" stroke="#c4d8ff" stroke-width="0.6" opacity="0.55"/></g>
<path d="M795.5,616.0l3.4,5.4l3.6,-4.7l3.4,5.4M798.9,621.4l0,5.9" stroke="#9a54c0" stroke-width="2.5" stroke-linecap="round" stroke-linejoin="round" fill="none"/>
<path d="M801.2,614.3l2.9,4.5l3.1,-4.0l2.9,4.5M804.0,618.8l0,5.0" stroke="#a05cc6" stroke-width="2.1" stroke-linecap="round" stroke-linejoin="round" fill="none"/>
<g transform="translate(799.5,618.8) rotate(14)" opacity="0.93"><ellipse rx="6.5" ry="7.3" fill="url(#gD3)"/><path d="M-1.0,-7.3 A6.5,7.3 0 0 1 1.0,7.3" fill="none" stroke="#c4d8ff" stroke-width="0.6" opacity="0.55"/></g>
<path d="M773.2,616.5l3.4,5.4l3.6,-4.7l3.4,5.4M776.6,621.9l0,5.9" stroke="#aa68d0" stroke-width="2.5" stroke-linecap="round" stroke-linejoin="round" fill="none"/>
<path d="M778.9,614.8l2.9,4.5l3.1,-4.0l2.9,4.5M781.7,619.3l0,5.0" stroke="#a05cc6" stroke-width="2.1" stroke-linecap="round" stroke-linejoin="round" fill="none"/>
<g transform="translate(780.0,618.8) rotate(-18)" opacity="0.93"><ellipse rx="7.4" ry="8.3" fill="url(#gD3)"/><path d="M-1.1,-8.3 A7.4,8.3 0 0 1 1.1,8.3" fill="none" stroke="#c4d8ff" stroke-width="0.6" opacity="0.55"/></g>
<path d="M804.9,616.9l3.4,5.4l3.6,-4.7l3.4,5.4M808.3,622.3l0,5.9" stroke="#aa68d0" stroke-width="2.5" stroke-linecap="round" stroke-linejoin="round" fill="none"/>
<path d="M810.6,615.2l2.9,4.5l3.1,-4.0l2.9,4.5M813.5,619.7l0,5.0" stroke="#a05cc6" stroke-width="2.1" stroke-linecap="round" stroke-linejoin="round" fill="none"/>
<path d="M880.1,617.0l3.4,5.4l3.6,-4.7l3.4,5.4M883.5,622.3l0,5.9" stroke="#aa68d0" stroke-width="2.5" stroke-linecap="round" stroke-linejoin="round" fill="none"/>
<path d="M885.8,615.2l2.9,4.5l3.1,-4.0l2.9,4.5M888.7,619.7l0,5.0" stroke="#8a46b2" stroke-width="2.1" stroke-linecap="round" stroke-linejoin="round" fill="none"/>
<path d="M870.4,617.1l3.4,5.4l3.6,-4.7l3.4,5.4M873.8,622.4l0,5.9" stroke="#aa68d0" stroke-width="2.5" stroke-linecap="round" stroke-linejoin="round" fill="none"/>
<path d="M876.1,615.3l2.9,4.5l3.1,-4.0l2.9,4.5M879.0,619.8l0,5.0" stroke="#a05cc6" stroke-width="2.1" stroke-linecap="round" stroke-linejoin="round" fill="none"/>
<path d="M901.4,617.5l3.4,5.4l3.6,-4.7l3.4,5.4M904.9,622.9l0,5.9" stroke="#aa68d0" stroke-width="2.5" stroke-linecap="round" stroke-linejoin="round" fill="none"/>
<path d="M907.1,615.8l2.9,4.5l3.1,-4.0l2.9,4.5M910.0,620.3l0,5.0" stroke="#8a46b2" stroke-width="2.1" stroke-linecap="round" stroke-linejoin="round" fill="none"/>
<g transform="translate(908.7,620.1) rotate(-8)" opacity="0.93"><ellipse rx="7.3" ry="7.7" fill="url(#gD1)"/><path d="M-1.1,-7.7 A7.3,7.7 0 0 1 1.1,7.7" fill="none" stroke="#c4d8ff" stroke-width="0.6" opacity="0.55"/></g>
<path d="M817.3,617.6l3.4,5.4l3.6,-4.7l3.4,5.4M820.7,622.9l0,5.9" stroke="#9a54c0" stroke-width="2.5" stroke-linecap="round" stroke-linejoin="round" fill="none"/>
<path d="M823.0,615.8l2.9,4.5l3.1,-4.0l2.9,4.5M825.9,620.3l0,5.0" stroke="#8a46b2" stroke-width="2.1" stroke-linecap="round" stroke-linejoin="round" fill="none"/>
<g transform="translate(820.5,620.9) rotate(35)" opacity="0.93"><ellipse rx="5.9" ry="6.2" fill="url(#gD1)"/><path d="M-0.9,-6.2 A5.9,6.2 0 0 1 0.9,6.2" fill="none" stroke="#c4d8ff" stroke-width="0.6" opacity="0.55"/></g>
<path d="M828.6,617.9l3.4,5.4l3.6,-4.7l3.4,5.4M832.0,623.3l0,5.9" stroke="#9a54c0" stroke-width="2.5" stroke-linecap="round" stroke-linejoin="round" fill="none"/>
<path d="M834.3,616.2l2.9,4.5l3.1,-4.0l2.9,4.5M837.1,620.7l0,5.0" stroke="#a05cc6" stroke-width="2.1" stroke-linecap="round" stroke-linejoin="round" fill="none"/>
<path d="M837.6,618.0l3.4,5.4l3.6,-4.7l3.4,5.4M841.0,623.4l0,5.9" stroke="#aa68d0" stroke-width="2.5" stroke-linecap="round" stroke-linejoin="round" fill="none"/>
<path d="M843.3,616.3l2.9,4.5l3.1,-4.0l2.9,4.5M846.2,620.8l0,5.0" stroke="#8a46b2" stroke-width="2.1" stroke-linecap="round" stroke-linejoin="round" fill="none"/>
<path d="M848.3,618.0l3.4,5.4l3.6,-4.7l3.4,5.4M851.7,623.4l0,5.9" stroke="#aa68d0" stroke-width="2.5" stroke-linecap="round" stroke-linejoin="round" fill="none"/>
<path d="M854.0,616.3l2.9,4.5l3.1,-4.0l2.9,4.5M856.9,620.8l0,5.0" stroke="#a05cc6" stroke-width="2.1" stroke-linecap="round" stroke-linejoin="round" fill="none"/>
<path d="M859.6,618.6l3.4,5.4l3.6,-4.7l3.4,5.4M863.1,623.9l0,5.9" stroke="#aa68d0" stroke-width="2.5" stroke-linecap="round" stroke-linejoin="round" fill="none"/>
<path d="M865.4,616.8l2.9,4.5l3.1,-4.0l2.9,4.5M868.2,621.3l0,5.0" stroke="#a05cc6" stroke-width="2.1" stroke-linecap="round" stroke-linejoin="round" fill="none"/>
<path d="M784.4,618.6l3.4,5.4l3.6,-4.7l3.4,5.4M787.8,623.9l0,5.9" stroke="#9a54c0" stroke-width="2.5" stroke-linecap="round" stroke-linejoin="round" fill="none"/>
<path d="M790.1,616.8l2.9,4.5l3.1,-4.0l2.9,4.5M793.0,621.3l0,5.0" stroke="#8a46b2" stroke-width="2.1" stroke-linecap="round" stroke-linejoin="round" fill="none"/>
<g transform="translate(792.0,621.8) rotate(24)" opacity="0.93"><ellipse rx="5.9" ry="6.4" fill="url(#gD2)"/><path d="M-0.9,-6.4 A5.9,6.4 0 0 1 0.9,6.4" fill="none" stroke="#c4d8ff" stroke-width="0.6" opacity="0.55"/></g>
<path d="M890.6,618.8l3.4,5.4l3.6,-4.7l3.4,5.4M894.0,624.2l0,5.9" stroke="#aa68d0" stroke-width="2.5" stroke-linecap="round" stroke-linejoin="round" fill="none"/>
<path d="M896.3,617.1l2.9,4.5l3.1,-4.0l2.9,4.5M899.2,621.6l0,5.0" stroke="#8a46b2" stroke-width="2.1" stroke-linecap="round" stroke-linejoin="round" fill="none"/>
<path d="M768.6,629.5l3.8,5.9l4.0,-5.2l3.8,5.9M772.3,635.4l0,6.5" stroke="#9a54c0" stroke-width="2.7" stroke-linecap="round" stroke-linejoin="round" fill="none"/>
<path d="M774.8,627.6l3.2,5.0l3.4,-4.4l3.2,5.0M778.0,632.5l0,5.5" stroke="#8a46b2" stroke-width="2.3" stroke-linecap="round" stroke-linejoin="round" fill="none"/>
<g transform="translate(776.1,632.3) rotate(24)" opacity="0.93"><ellipse rx="7.4" ry="8.5" fill="url(#gD1)"/><path d="M-1.1,-8.5 A7.4,8.5 0 0 1 1.1,8.5" fill="none" stroke="#c4d8ff" stroke-width="0.6" opacity="0.55"/></g>
<path d="M893.2,629.8l3.8,5.9l4.0,-5.2l3.8,5.9M896.9,635.7l0,6.5" stroke="#9a54c0" stroke-width="2.7" stroke-linecap="round" stroke-linejoin="round" fill="none"/>
<path d="M899.5,627.9l3.2,5.0l3.4,-4.4l3.2,5.0M902.6,632.9l0,5.5" stroke="#a05cc6" stroke-width="2.3" stroke-linecap="round" stroke-linejoin="round" fill="none"/>
<path d="M905.6,629.8l3.8,5.9l4.0,-5.2l3.8,5.9M909.4,635.7l0,6.5" stroke="#aa68d0" stroke-width="2.7" stroke-linecap="round" stroke-linejoin="round" fill="none"/>
<path d="M911.9,627.9l3.2,5.0l3.4,-4.4l3.2,5.0M915.0,632.9l0,5.5" stroke="#8a46b2" stroke-width="2.3" stroke-linecap="round" stroke-linejoin="round" fill="none"/>
<g transform="translate(910.9,632.4) rotate(-8)" opacity="0.93"><ellipse rx="7.7" ry="9.1" fill="url(#gD2)"/><path d="M-1.2,-9.1 A7.7,9.1 0 0 1 1.2,9.1" fill="none" stroke="#c4d8ff" stroke-width="0.6" opacity="0.55"/></g>
<path d="M847.8,629.9l3.8,5.9l4.0,-5.2l3.8,5.9M851.6,635.8l0,6.5" stroke="#9a54c0" stroke-width="2.7" stroke-linecap="round" stroke-linejoin="round" fill="none"/>
<path d="M854.1,628.0l3.2,5.0l3.4,-4.4l3.2,5.0M857.3,633.0l0,5.5" stroke="#8a46b2" stroke-width="2.3" stroke-linecap="round" stroke-linejoin="round" fill="none"/>
<path d="M814.6,630.0l3.8,5.9l4.0,-5.2l3.8,5.9M818.3,635.9l0,6.5" stroke="#aa68d0" stroke-width="2.7" stroke-linecap="round" stroke-linejoin="round" fill="none"/>
<path d="M820.9,628.1l3.2,5.0l3.4,-4.4l3.2,5.0M824.0,633.1l0,5.5" stroke="#a05cc6" stroke-width="2.3" stroke-linecap="round" stroke-linejoin="round" fill="none"/>
<path d="M788.9,630.3l3.8,5.9l4.0,-5.2l3.8,5.9M792.7,636.2l0,6.5" stroke="#9a54c0" stroke-width="2.7" stroke-linecap="round" stroke-linejoin="round" fill="none"/>
<path d="M795.2,628.4l3.2,5.0l3.4,-4.4l3.2,5.0M798.4,633.4l0,5.5" stroke="#8a46b2" stroke-width="2.3" stroke-linecap="round" stroke-linejoin="round" fill="none"/>
<path d="M827.0,630.6l3.8,5.9l4.0,-5.2l3.8,5.9M830.7,636.5l0,6.5" stroke="#9a54c0" stroke-width="2.7" stroke-linecap="round" stroke-linejoin="round" fill="none"/>
<path d="M833.3,628.7l3.2,5.0l3.4,-4.4l3.2,5.0M836.4,633.6l0,5.5" stroke="#8a46b2" stroke-width="2.3" stroke-linecap="round" stroke-linejoin="round" fill="none"/>
<path d="M873.7,630.8l3.8,5.9l4.0,-5.2l3.8,5.9M877.5,636.7l0,6.5" stroke="#9a54c0" stroke-width="2.7" stroke-linecap="round" stroke-linejoin="round" fill="none"/>
<path d="M880.0,628.9l3.2,5.0l3.4,-4.4l3.2,5.0M883.1,633.8l0,5.5" stroke="#a05cc6" stroke-width="2.3" stroke-linecap="round" stroke-linejoin="round" fill="none"/>
<g transform="translate(877.0,633.8) rotate(-8)" opacity="0.93"><ellipse rx="6.5" ry="8.2" fill="url(#gD4)"/><path d="M-1.0,-8.2 A6.5,8.2 0 0 1 1.0,8.2" fill="none" stroke="#c4d8ff" stroke-width="0.6" opacity="0.55"/></g>
<path d="M779.9,630.9l3.8,5.9l4.0,-5.2l3.8,5.9M783.7,636.8l0,6.5" stroke="#aa68d0" stroke-width="2.7" stroke-linecap="round" stroke-linejoin="round" fill="none"/>
<path d="M786.2,629.0l3.2,5.0l3.4,-4.4l3.2,5.0M789.4,633.9l0,5.5" stroke="#8a46b2" stroke-width="2.3" stroke-linecap="round" stroke-linejoin="round" fill="none"/>
<path d="M859.9,631.3l3.8,5.9l4.0,-5.2l3.8,5.9M863.7,637.2l0,6.5" stroke="#9a54c0" stroke-width="2.7" stroke-linecap="round" stroke-linejoin="round" fill="none"/>
<path d="M866.2,629.4l3.2,5.0l3.4,-4.4l3.2,5.0M869.4,634.3l0,5.5" stroke="#a05cc6" stroke-width="2.3" stroke-linecap="round" stroke-linejoin="round" fill="none"/>
<path d="M803.9,631.4l3.8,5.9l4.0,-5.2l3.8,5.9M807.7,637.3l0,6.5" stroke="#aa68d0" stroke-width="2.7" stroke-linecap="round" stroke-linejoin="round" fill="none"/>
<path d="M810.2,629.5l3.2,5.0l3.4,-4.4l3.2,5.0M813.4,634.4l0,5.5" stroke="#8a46b2" stroke-width="2.3" stroke-linecap="round" stroke-linejoin="round" fill="none"/>
<path d="M881.7,631.5l3.8,5.9l4.0,-5.2l3.8,5.9M885.5,637.4l0,6.5" stroke="#9a54c0" stroke-width="2.7" stroke-linecap="round" stroke-linejoin="round" fill="none"/>
<path d="M888.0,629.6l3.2,5.0l3.4,-4.4l3.2,5.0M891.1,634.6l0,5.5" stroke="#a05cc6" stroke-width="2.3" stroke-linecap="round" stroke-linejoin="round" fill="none"/>
<path d="M837.1,631.9l3.8,5.9l4.0,-5.2l3.8,5.9M840.9,637.8l0,6.5" stroke="#aa68d0" stroke-width="2.7" stroke-linecap="round" stroke-linejoin="round" fill="none"/>
<path d="M843.4,630.0l3.2,5.0l3.4,-4.4l3.2,5.0M846.5,635.0l0,5.5" stroke="#a05cc6" stroke-width="2.3" stroke-linecap="round" stroke-linejoin="round" fill="none"/>
<path d="M812.7,644.2l4.2,6.5l4.4,-5.7l4.2,6.5M816.9,650.7l0,7.1" stroke="#aa68d0" stroke-width="3.0" stroke-linecap="round" stroke-linejoin="round" fill="none"/>
<path d="M819.6,642.1l3.5,5.4l3.7,-4.8l3.5,5.4M823.1,647.6l0,6.0" stroke="#8a46b2" stroke-width="2.5" stroke-linecap="round" stroke-linejoin="round" fill="none"/>
<path d="M786.4,644.5l4.2,6.5l4.4,-5.7l4.2,6.5M790.6,651.0l0,7.1" stroke="#9a54c0" stroke-width="3.0" stroke-linecap="round" stroke-linejoin="round" fill="none"/>
<path d="M793.4,642.4l3.5,5.4l3.7,-4.8l3.5,5.4M796.8,647.8l0,6.0" stroke="#a05cc6" stroke-width="2.5" stroke-linecap="round" stroke-linejoin="round" fill="none"/>
<g transform="translate(791.7,647.1) rotate(24)" opacity="0.93"><ellipse rx="7.8" ry="10.3" fill="url(#gD3)"/><path d="M-1.2,-10.3 A7.8,10.3 0 0 1 1.2,10.3" fill="none" stroke="#c4d8ff" stroke-width="0.6" opacity="0.55"/></g>
<path d="M875.9,644.9l4.2,6.5l4.4,-5.7l4.2,6.5M880.1,651.4l0,7.1" stroke="#aa68d0" stroke-width="3.0" stroke-linecap="round" stroke-linejoin="round" fill="none"/>
<path d="M882.9,642.8l3.5,5.4l3.7,-4.8l3.5,5.4M886.3,648.3l0,6.0" stroke="#8a46b2" stroke-width="2.5" stroke-linecap="round" stroke-linejoin="round" fill="none"/>
<path d="M885.7,645.3l4.2,6.5l4.4,-5.7l4.2,6.5M889.9,651.8l0,7.1" stroke="#aa68d0" stroke-width="3.0" stroke-linecap="round" stroke-linejoin="round" fill="none"/>
<path d="M892.6,643.2l3.5,5.4l3.7,-4.8l3.5,5.4M896.1,648.6l0,6.0" stroke="#8a46b2" stroke-width="2.5" stroke-linecap="round" stroke-linejoin="round" fill="none"/>
<path d="M771.5,645.4l4.2,6.5l4.4,-5.7l4.2,6.5M775.7,651.9l0,7.1" stroke="#9a54c0" stroke-width="3.0" stroke-linecap="round" stroke-linejoin="round" fill="none"/>
<path d="M778.5,643.3l3.5,5.4l3.7,-4.8l3.5,5.4M781.9,648.7l0,6.0" stroke="#8a46b2" stroke-width="2.5" stroke-linecap="round" stroke-linejoin="round" fill="none"/>
<g transform="translate(775.1,648.6) rotate(-18)" opacity="0.93"><ellipse rx="7.1" ry="9.1" fill="url(#gD2)"/><path d="M-1.1,-9.1 A7.1,9.1 0 0 1 1.1,9.1" fill="none" stroke="#c4d8ff" stroke-width="0.6" opacity="0.55"/></g>
<path d="M798.4,645.8l4.2,6.5l4.4,-5.7l4.2,6.5M802.5,652.3l0,7.1" stroke="#9a54c0" stroke-width="3.0" stroke-linecap="round" stroke-linejoin="round" fill="none"/>
<path d="M805.3,643.7l3.5,5.4l3.7,-4.8l3.5,5.4M808.8,649.2l0,6.0" stroke="#a05cc6" stroke-width="2.5" stroke-linecap="round" stroke-linejoin="round" fill="none"/>
<path d="M823.6,645.8l4.2,6.5l4.4,-5.7l4.2,6.5M827.7,652.3l0,7.1" stroke="#9a54c0" stroke-width="3.0" stroke-linecap="round" stroke-linejoin="round" fill="none"/>
<path d="M830.5,643.7l3.5,5.4l3.7,-4.8l3.5,5.4M834.0,649.2l0,6.0" stroke="#a05cc6" stroke-width="2.5" stroke-linecap="round" stroke-linejoin="round" fill="none"/>
<path d="M760.6,645.9l4.2,6.5l4.4,-5.7l4.2,6.5M764.8,652.4l0,7.1" stroke="#aa68d0" stroke-width="3.0" stroke-linecap="round" stroke-linejoin="round" fill="none"/>
<path d="M767.5,643.8l3.5,5.4l3.7,-4.8l3.5,5.4M771.0,649.3l0,6.0" stroke="#a05cc6" stroke-width="2.5" stroke-linecap="round" stroke-linejoin="round" fill="none"/>
<g transform="translate(770.0,647.7) rotate(24)" opacity="0.93"><ellipse rx="9.1" ry="12.0" fill="url(#gD3)"/><path d="M-1.4,-12.0 A9.1,12.0 0 0 1 1.4,12.0" fill="none" stroke="#c4d8ff" stroke-width="0.6" opacity="0.55"/></g>
<path d="M848.0,646.1l4.2,6.5l4.4,-5.7l4.2,6.5M852.2,652.6l0,7.1" stroke="#aa68d0" stroke-width="3.0" stroke-linecap="round" stroke-linejoin="round" fill="none"/>
<path d="M854.9,644.0l3.5,5.4l3.7,-4.8l3.5,5.4M858.4,649.5l0,6.0" stroke="#a05cc6" stroke-width="2.5" stroke-linecap="round" stroke-linejoin="round" fill="none"/>
<path d="M912.3,646.3l4.2,6.5l4.4,-5.7l4.2,6.5M916.4,652.8l0,7.1" stroke="#9a54c0" stroke-width="3.0" stroke-linecap="round" stroke-linejoin="round" fill="none"/>
<path d="M919.2,644.2l3.5,5.4l3.7,-4.8l3.5,5.4M922.7,649.7l0,6.0" stroke="#a05cc6" stroke-width="2.5" stroke-linecap="round" stroke-linejoin="round" fill="none"/>
<g transform="translate(917.1,649.3) rotate(-28)" opacity="0.93"><ellipse rx="7.4" ry="9.6" fill="url(#gD3)"/><path d="M-1.1,-9.6 A7.4,9.6 0 0 1 1.1,9.6" fill="none" stroke="#c4d8ff" stroke-width="0.6" opacity="0.55"/></g>
<path d="M838.1,646.3l4.2,6.5l4.4,-5.7l4.2,6.5M842.3,652.8l0,7.1" stroke="#9a54c0" stroke-width="3.0" stroke-linecap="round" stroke-linejoin="round" fill="none"/>
<path d="M845.0,644.3l3.5,5.4l3.7,-4.8l3.5,5.4M848.5,649.7l0,6.0" stroke="#a05cc6" stroke-width="2.5" stroke-linecap="round" stroke-linejoin="round" fill="none"/>
<path d="M898.2,646.4l4.2,6.5l4.4,-5.7l4.2,6.5M902.4,652.9l0,7.1" stroke="#aa68d0" stroke-width="3.0" stroke-linecap="round" stroke-linejoin="round" fill="none"/>
<path d="M905.1,644.3l3.5,5.4l3.7,-4.8l3.5,5.4M908.6,649.7l0,6.0" stroke="#8a46b2" stroke-width="2.5" stroke-linecap="round" stroke-linejoin="round" fill="none"/>
<g transform="translate(903.8,648.8) rotate(14)" opacity="0.93"><ellipse rx="8.8" ry="10.9" fill="url(#gD1)"/><path d="M-1.3,-10.9 A8.8,10.9 0 0 1 1.3,10.9" fill="none" stroke="#c4d8ff" stroke-width="0.6" opacity="0.55"/></g>
<path d="M860.8,646.7l4.2,6.5l4.4,-5.7l4.2,6.5M864.9,653.2l0,7.1" stroke="#aa68d0" stroke-width="3.0" stroke-linecap="round" stroke-linejoin="round" fill="none"/>
<path d="M867.7,644.6l3.5,5.4l3.7,-4.8l3.5,5.4M871.2,650.0l0,6.0" stroke="#a05cc6" stroke-width="2.5" stroke-linecap="round" stroke-linejoin="round" fill="none"/>
<path d="M850.7,659.5l4.6,7.1l4.8,-6.3l4.6,7.1M855.3,666.6l0,7.8" stroke="#9a54c0" stroke-width="3.3" stroke-linecap="round" stroke-linejoin="round" fill="none"/>
<path d="M858.3,657.2l3.8,6.0l4.1,-5.2l3.8,6.0M862.1,663.1l0,6.6" stroke="#a05cc6" stroke-width="2.7" stroke-linecap="round" stroke-linejoin="round" fill="none"/>
<path d="M768.1,659.5l4.6,7.1l4.8,-6.3l4.6,7.1M772.7,666.6l0,7.8" stroke="#aa68d0" stroke-width="3.3" stroke-linecap="round" stroke-linejoin="round" fill="none"/>
<path d="M775.7,657.2l3.8,6.0l4.1,-5.2l3.8,6.0M779.5,663.2l0,6.6" stroke="#8a46b2" stroke-width="2.7" stroke-linecap="round" stroke-linejoin="round" fill="none"/>
<g transform="translate(775.7,662.0) rotate(35)" opacity="0.93"><ellipse rx="9.0" ry="12.1" fill="url(#gD2)"/><path d="M-1.4,-12.1 A9.0,12.1 0 0 1 1.4,12.1" fill="none" stroke="#c4d8ff" stroke-width="0.6" opacity="0.55"/></g>
<path d="M920.2,659.6l4.6,7.1l4.8,-6.3l4.6,7.1M924.8,666.7l0,7.8" stroke="#9a54c0" stroke-width="3.3" stroke-linecap="round" stroke-linejoin="round" fill="none"/>
<path d="M927.8,657.3l3.8,6.0l4.1,-5.2l3.8,6.0M931.6,663.2l0,6.6" stroke="#a05cc6" stroke-width="2.7" stroke-linecap="round" stroke-linejoin="round" fill="none"/>
<g transform="translate(926.7,662.5) rotate(-18)" opacity="0.93"><ellipse rx="8.1" ry="11.1" fill="url(#gD3)"/><path d="M-1.2,-11.1 A8.1,11.1 0 0 1 1.2,11.1" fill="none" stroke="#c4d8ff" stroke-width="0.6" opacity="0.55"/></g>
<path d="M904.3,659.9l4.6,7.1l4.8,-6.3l4.6,7.1M908.8,667.1l0,7.8" stroke="#9a54c0" stroke-width="3.3" stroke-linecap="round" stroke-linejoin="round" fill="none"/>
<path d="M911.9,657.7l3.8,6.0l4.1,-5.2l3.8,6.0M915.7,663.6l0,6.6" stroke="#8a46b2" stroke-width="2.7" stroke-linecap="round" stroke-linejoin="round" fill="none"/>
<path d="M865.8,660.1l4.6,7.1l4.8,-6.3l4.6,7.1M870.3,667.2l0,7.8" stroke="#9a54c0" stroke-width="3.3" stroke-linecap="round" stroke-linejoin="round" fill="none"/>
<path d="M873.3,657.8l3.8,6.0l4.1,-5.2l3.8,6.0M877.1,663.7l0,6.6" stroke="#8a46b2" stroke-width="2.7" stroke-linecap="round" stroke-linejoin="round" fill="none"/>
<path d="M793.1,660.4l4.6,7.1l4.8,-6.3l4.6,7.1M797.7,667.5l0,7.8" stroke="#aa68d0" stroke-width="3.3" stroke-linecap="round" stroke-linejoin="round" fill="none"/>
<path d="M800.7,658.1l3.8,6.0l4.1,-5.2l3.8,6.0M804.5,664.1l0,6.6" stroke="#8a46b2" stroke-width="2.7" stroke-linecap="round" stroke-linejoin="round" fill="none"/>
<path d="M836.0,660.5l4.6,7.1l4.8,-6.3l4.6,7.1M840.5,667.6l0,7.8" stroke="#aa68d0" stroke-width="3.3" stroke-linecap="round" stroke-linejoin="round" fill="none"/>
<path d="M843.5,658.2l3.8,6.0l4.1,-5.2l3.8,6.0M847.3,664.1l0,6.6" stroke="#8a46b2" stroke-width="2.7" stroke-linecap="round" stroke-linejoin="round" fill="none"/>
<path d="M822.1,660.8l4.6,7.1l4.8,-6.3l4.6,7.1M826.6,667.9l0,7.8" stroke="#9a54c0" stroke-width="3.3" stroke-linecap="round" stroke-linejoin="round" fill="none"/>
<path d="M829.7,658.5l3.8,6.0l4.1,-5.2l3.8,6.0M833.5,664.4l0,6.6" stroke="#a05cc6" stroke-width="2.7" stroke-linecap="round" stroke-linejoin="round" fill="none"/>
<path d="M781.1,661.2l4.6,7.1l4.8,-6.3l4.6,7.1M785.6,668.3l0,7.8" stroke="#aa68d0" stroke-width="3.3" stroke-linecap="round" stroke-linejoin="round" fill="none"/>
<path d="M788.7,658.9l3.8,6.0l4.1,-5.2l3.8,6.0M792.5,664.9l0,6.6" stroke="#a05cc6" stroke-width="2.7" stroke-linecap="round" stroke-linejoin="round" fill="none"/>
<path d="M753.1,661.8l4.6,7.1l4.8,-6.3l4.6,7.1M757.7,668.9l0,7.8" stroke="#aa68d0" stroke-width="3.3" stroke-linecap="round" stroke-linejoin="round" fill="none"/>
<path d="M760.7,659.5l3.8,6.0l4.1,-5.2l3.8,6.0M764.5,665.5l0,6.6" stroke="#8a46b2" stroke-width="2.7" stroke-linecap="round" stroke-linejoin="round" fill="none"/>
<g transform="translate(761.1,663.5) rotate(60)" opacity="0.93"><ellipse rx="10.0" ry="13.7" fill="url(#gD2)"/><path d="M-1.5,-13.7 A10.0,13.7 0 0 1 1.5,13.7" fill="none" stroke="#c4d8ff" stroke-width="0.6" opacity="0.55"/></g>
<path d="M879.2,662.0l4.6,7.1l4.8,-6.3l4.6,7.1M883.8,669.1l0,7.8" stroke="#9a54c0" stroke-width="3.3" stroke-linecap="round" stroke-linejoin="round" fill="none"/>
<path d="M886.8,659.7l3.8,6.0l4.1,-5.2l3.8,6.0M890.6,665.6l0,6.6" stroke="#8a46b2" stroke-width="2.7" stroke-linecap="round" stroke-linejoin="round" fill="none"/>
<path d="M892.3,662.0l4.6,7.1l4.8,-6.3l4.6,7.1M896.8,669.2l0,7.8" stroke="#aa68d0" stroke-width="3.3" stroke-linecap="round" stroke-linejoin="round" fill="none"/>
<path d="M899.8,659.7l3.8,6.0l4.1,-5.2l3.8,6.0M903.7,665.7l0,6.6" stroke="#8a46b2" stroke-width="2.7" stroke-linecap="round" stroke-linejoin="round" fill="none"/>
<g transform="translate(901.0,664.3) rotate(-18)" opacity="0.93"><ellipse rx="9.6" ry="12.5" fill="url(#gD1)"/><path d="M-1.4,-12.5 A9.6,12.5 0 0 1 1.4,12.5" fill="none" stroke="#c4d8ff" stroke-width="0.6" opacity="0.55"/></g>
<path d="M809.6,662.2l4.6,7.1l4.8,-6.3l4.6,7.1M814.1,669.3l0,7.8" stroke="#aa68d0" stroke-width="3.3" stroke-linecap="round" stroke-linejoin="round" fill="none"/>
<path d="M817.1,659.9l3.8,6.0l4.1,-5.2l3.8,6.0M821.0,665.8l0,6.6" stroke="#8a46b2" stroke-width="2.7" stroke-linecap="round" stroke-linejoin="round" fill="none"/>
<path d="M851.4,675.3l5.0,7.8l5.3,-6.8l5.0,7.8M856.4,683.0l0,8.5" stroke="#aa68d0" stroke-width="3.6" stroke-linecap="round" stroke-linejoin="round" fill="none"/>
<path d="M859.7,672.8l4.2,6.5l4.4,-5.7l4.2,6.5M863.8,679.3l0,7.2" stroke="#a05cc6" stroke-width="3.0" stroke-linecap="round" stroke-linejoin="round" fill="none"/>
<g transform="translate(856.8,676.7) rotate(-28)" opacity="0.93"><ellipse rx="10.2" ry="15.7" fill="url(#gD4)"/><path d="M-1.5,-15.7 A10.2,15.7 0 0 1 1.5,15.7" fill="none" stroke="#c4d8ff" stroke-width="0.6" opacity="0.55"/></g>
<path d="M868.1,675.5l5.0,7.8l5.3,-6.8l5.0,7.8M873.0,683.3l0,8.5" stroke="#aa68d0" stroke-width="3.6" stroke-linecap="round" stroke-linejoin="round" fill="none"/>
<path d="M876.3,673.0l4.2,6.5l4.4,-5.7l4.2,6.5M880.5,679.5l0,7.2" stroke="#a05cc6" stroke-width="3.0" stroke-linecap="round" stroke-linejoin="round" fill="none"/>
<g transform="translate(877.2,677.2) rotate(-18)" opacity="0.93"><ellipse rx="10.4" ry="15.3" fill="url(#gD3)"/><path d="M-1.6,-15.3 A10.4,15.3 0 0 1 1.6,15.3" fill="none" stroke="#c4d8ff" stroke-width="0.6" opacity="0.55"/></g>
<path d="M881.9,675.8l5.0,7.8l5.3,-6.8l5.0,7.8M886.8,683.5l0,8.5" stroke="#9a54c0" stroke-width="3.6" stroke-linecap="round" stroke-linejoin="round" fill="none"/>
<path d="M890.1,673.3l4.2,6.5l4.4,-5.7l4.2,6.5M894.3,679.8l0,7.2" stroke="#8a46b2" stroke-width="3.0" stroke-linecap="round" stroke-linejoin="round" fill="none"/>
<g transform="translate(889.3,678.9) rotate(14)" opacity="0.93"><ellipse rx="8.8" ry="12.3" fill="url(#gD1)"/><path d="M-1.3,-12.3 A8.8,12.3 0 0 1 1.3,12.3" fill="none" stroke="#c4d8ff" stroke-width="0.6" opacity="0.55"/></g>
<path d="M742.6,675.8l5.0,7.8l5.3,-6.8l5.0,7.8M747.6,683.5l0,8.5" stroke="#9a54c0" stroke-width="3.6" stroke-linecap="round" stroke-linejoin="round" fill="none"/>
<path d="M750.9,673.3l4.2,6.5l4.4,-5.7l4.2,6.5M755.0,679.8l0,7.2" stroke="#8a46b2" stroke-width="3.0" stroke-linecap="round" stroke-linejoin="round" fill="none"/>
<g transform="translate(751.9,678.1) rotate(-28)" opacity="0.93"><ellipse rx="9.6" ry="14.0" fill="url(#gD2)"/><path d="M-1.4,-14.0 A9.6,14.0 0 0 1 1.4,14.0" fill="none" stroke="#c4d8ff" stroke-width="0.6" opacity="0.55"/></g>
<path d="M818.2,675.9l5.0,7.8l5.3,-6.8l5.0,7.8M823.1,683.7l0,8.5" stroke="#9a54c0" stroke-width="3.6" stroke-linecap="round" stroke-linejoin="round" fill="none"/>
<path d="M826.4,673.4l4.2,6.5l4.4,-5.7l4.2,6.5M830.6,679.9l0,7.2" stroke="#8a46b2" stroke-width="3.0" stroke-linecap="round" stroke-linejoin="round" fill="none"/>
<g transform="translate(823.0,678.7) rotate(35)" opacity="0.93"><ellipse rx="9.1" ry="12.9" fill="url(#gD1)"/><path d="M-1.4,-12.9 A9.1,12.9 0 0 1 1.4,12.9" fill="none" stroke="#c4d8ff" stroke-width="0.6" opacity="0.55"/></g>
<path d="M836.9,676.5l5.0,7.8l5.3,-6.8l5.0,7.8M841.9,684.2l0,8.5" stroke="#9a54c0" stroke-width="3.6" stroke-linecap="round" stroke-linejoin="round" fill="none"/>
<path d="M845.2,674.0l4.2,6.5l4.4,-5.7l4.2,6.5M849.3,680.5l0,7.2" stroke="#8a46b2" stroke-width="3.0" stroke-linecap="round" stroke-linejoin="round" fill="none"/>
<g transform="translate(843.2,679.3) rotate(14)" opacity="0.93"><ellipse rx="8.8" ry="12.9" fill="url(#gD2)"/><path d="M-1.3,-12.9 A8.8,12.9 0 0 1 1.3,12.9" fill="none" stroke="#c4d8ff" stroke-width="0.6" opacity="0.55"/></g>
<path d="M896.4,676.7l5.0,7.8l5.3,-6.8l5.0,7.8M901.4,684.5l0,8.5" stroke="#9a54c0" stroke-width="3.6" stroke-linecap="round" stroke-linejoin="round" fill="none"/>
<path d="M904.7,674.2l4.2,6.5l4.4,-5.7l4.2,6.5M908.8,680.7l0,7.2" stroke="#8a46b2" stroke-width="3.0" stroke-linecap="round" stroke-linejoin="round" fill="none"/>
<g transform="translate(904.5,679.7) rotate(24)" opacity="0.93"><ellipse rx="8.9" ry="12.7" fill="url(#gD1)"/><path d="M-1.3,-12.7 A8.9,12.7 0 0 1 1.3,12.7" fill="none" stroke="#c4d8ff" stroke-width="0.6" opacity="0.55"/></g>
<path d="M758.7,676.8l5.0,7.8l5.3,-6.8l5.0,7.8M763.6,684.5l0,8.5" stroke="#9a54c0" stroke-width="3.6" stroke-linecap="round" stroke-linejoin="round" fill="none"/>
<path d="M766.9,674.3l4.2,6.5l4.4,-5.7l4.2,6.5M771.1,680.8l0,7.2" stroke="#a05cc6" stroke-width="3.0" stroke-linecap="round" stroke-linejoin="round" fill="none"/>
<g transform="translate(769.2,679.4) rotate(35)" opacity="0.93"><ellipse rx="9.0" ry="13.5" fill="url(#gD3)"/><path d="M-1.4,-13.5 A9.0,13.5 0 0 1 1.4,13.5" fill="none" stroke="#c4d8ff" stroke-width="0.6" opacity="0.55"/></g>
<path d="M775.0,676.8l5.0,7.8l5.3,-6.8l5.0,7.8M780.0,684.5l0,8.5" stroke="#aa68d0" stroke-width="3.6" stroke-linecap="round" stroke-linejoin="round" fill="none"/>
<path d="M783.3,674.3l4.2,6.5l4.4,-5.7l4.2,6.5M787.4,680.8l0,7.2" stroke="#a05cc6" stroke-width="3.0" stroke-linecap="round" stroke-linejoin="round" fill="none"/>
<path d="M788.2,677.4l5.0,7.8l5.3,-6.8l5.0,7.8M793.2,685.2l0,8.5" stroke="#aa68d0" stroke-width="3.6" stroke-linecap="round" stroke-linejoin="round" fill="none"/>
<path d="M796.5,674.9l4.2,6.5l4.4,-5.7l4.2,6.5M800.6,681.4l0,7.2" stroke="#8a46b2" stroke-width="3.0" stroke-linecap="round" stroke-linejoin="round" fill="none"/>
<g transform="translate(796.8,678.9) rotate(-18)" opacity="0.93"><ellipse rx="10.8" ry="15.6" fill="url(#gD2)"/><path d="M-1.6,-15.6 A10.8,15.6 0 0 1 1.6,15.6" fill="none" stroke="#c4d8ff" stroke-width="0.6" opacity="0.55"/></g>
<path d="M909.9,677.7l5.0,7.8l5.3,-6.8l5.0,7.8M914.9,685.5l0,8.5" stroke="#aa68d0" stroke-width="3.6" stroke-linecap="round" stroke-linejoin="round" fill="none"/>
<path d="M918.2,675.2l4.2,6.5l4.4,-5.7l4.2,6.5M922.3,681.7l0,7.2" stroke="#8a46b2" stroke-width="3.0" stroke-linecap="round" stroke-linejoin="round" fill="none"/>
<path d="M803.9,678.0l5.0,7.8l5.3,-6.8l5.0,7.8M808.8,685.7l0,8.5" stroke="#aa68d0" stroke-width="3.6" stroke-linecap="round" stroke-linejoin="round" fill="none"/>
<path d="M812.1,675.5l4.2,6.5l4.4,-5.7l4.2,6.5M816.3,682.0l0,7.2" stroke="#a05cc6" stroke-width="3.0" stroke-linecap="round" stroke-linejoin="round" fill="none"/>
<g transform="translate(811.9,678.8) rotate(-18)" opacity="0.93"><ellipse rx="11.0" ry="16.9" fill="url(#gD4)"/><path d="M-1.6,-16.9 A11.0,16.9 0 0 1 1.6,16.9" fill="none" stroke="#c4d8ff" stroke-width="0.6" opacity="0.55"/></g>
<path d="M924.4,678.1l5.0,7.8l5.3,-6.8l5.0,7.8M929.4,685.8l0,8.5" stroke="#aa68d0" stroke-width="3.6" stroke-linecap="round" stroke-linejoin="round" fill="none"/>
<path d="M932.7,675.6l4.2,6.5l4.4,-5.7l4.2,6.5M936.9,682.1l0,7.2" stroke="#8a46b2" stroke-width="3.0" stroke-linecap="round" stroke-linejoin="round" fill="none"/>
<g transform="translate(931.5,679.8) rotate(-28)" opacity="0.93"><ellipse rx="10.4" ry="15.1" fill="url(#gD2)"/><path d="M-1.6,-15.1 A10.4,15.1 0 0 1 1.6,15.1" fill="none" stroke="#c4d8ff" stroke-width="0.6" opacity="0.55"/></g>
<line x1="766.8" y1="681.0" x2="767.2" y2="693.0" stroke="#b060c8" stroke-width="2.6" stroke-linecap="round"/><line x1="801.6" y1="681.0" x2="802.0" y2="693.0" stroke="#b060c8" stroke-width="2.6" stroke-linecap="round"/><line x1="854.4" y1="681.0" x2="854.8" y2="693.0" stroke="#b060c8" stroke-width="2.6" stroke-linecap="round"/><line x1="896.2" y1="681.0" x2="896.6" y2="693.0" stroke="#b060c8" stroke-width="2.6" stroke-linecap="round"/><line x1="934.7" y1="681.0" x2="935.1" y2="693.0" stroke="#b060c8" stroke-width="2.6" stroke-linecap="round"/><polygon points="1041.0,600.0 1151.0,600.0 1210.6,699.5 979.0,699.5" fill="#4e92a6" />
<polygon points="979.0,699.5 1210.6,699.5 1208.6,711.7 981.0,711.7" fill="#5aa2b0" />
<g id="zhsPile"><polygon points="1040.0,601.0 1152.0,601.0 1196.0,684.0 1002.0,684.0" fill="#3f4fa8" />
<g transform="translate(1041.3,598.1) rotate(-18)"><ellipse cx="1.6" cy="0.6" rx="7.4" ry="5.6" fill="#4058b8"/><ellipse rx="7.4" ry="5.6" fill="url(#gD4)"/></g>
<g transform="translate(1057.2,597.5) rotate(-30)"><ellipse cx="1.6" cy="0.6" rx="7.1" ry="5.3" fill="#4058b8"/><ellipse rx="7.1" ry="5.3" fill="url(#gD1)"/></g>
<g transform="translate(1068.8,597.8) rotate(-18)"><ellipse cx="1.6" cy="0.6" rx="6.3" ry="5.9" fill="#4058b8"/><ellipse rx="6.3" ry="5.9" fill="url(#gD2)"/></g>
<g transform="translate(1083.4,597.3) rotate(5)"><ellipse cx="1.6" cy="0.6" rx="8.1" ry="5.9" fill="#4058b8"/><ellipse rx="8.1" ry="5.9" fill="url(#gD4)"/></g>
<g transform="translate(1094.1,597.0) rotate(-8)"><ellipse cx="1.6" cy="0.6" rx="7.1" ry="5.2" fill="#4058b8"/><ellipse rx="7.1" ry="5.2" fill="url(#gD1)"/></g>
<g transform="translate(1108.0,598.5) rotate(5)"><ellipse cx="1.6" cy="0.6" rx="6.4" ry="6.1" fill="#4058b8"/><ellipse rx="6.4" ry="6.1" fill="url(#gD2)"/></g>
<g transform="translate(1122.9,597.0) rotate(-30)"><ellipse cx="1.6" cy="0.6" rx="7.1" ry="5.2" fill="#4058b8"/><ellipse rx="7.1" ry="5.2" fill="url(#gD4)"/></g>
<g transform="translate(1137.5,596.7) rotate(32)"><ellipse cx="1.6" cy="0.6" rx="7.6" ry="5.3" fill="#4058b8"/><ellipse rx="7.6" ry="5.3" fill="url(#gD1)"/></g>
<g transform="translate(1147.8,597.4) rotate(-18)"><ellipse cx="1.6" cy="0.6" rx="7.7" ry="5.3" fill="#4058b8"/><ellipse rx="7.7" ry="5.3" fill="url(#gD4)"/></g>
<path d="M1051.8,603.4l0,-5.0l-2.9,-3.7M1051.8,598.4l2.9,-3.7" stroke="#b058c0" stroke-width="2.0" stroke-linecap="round" fill="none"/>
<path d="M1065.3,603.4l0,-5.0l-2.9,-3.7M1065.3,598.4l2.9,-3.7" stroke="#9444a8" stroke-width="2.0" stroke-linecap="round" fill="none"/>
<path d="M1077.8,603.4l0,-5.0l-2.9,-3.7M1077.8,598.4l2.9,-3.7" stroke="#a24db4" stroke-width="2.0" stroke-linecap="round" fill="none"/>
<path d="M1092.0,603.4l0,-5.0l-2.9,-3.7M1092.0,598.4l2.9,-3.7" stroke="#9444a8" stroke-width="2.0" stroke-linecap="round" fill="none"/>
<path d="M1100.4,603.4l0,-5.0l-2.9,-3.7M1100.4,598.4l2.9,-3.7" stroke="#b058c0" stroke-width="2.0" stroke-linecap="round" fill="none"/>
<path d="M1114.5,603.4l0,-5.0l-2.9,-3.7M1114.5,598.4l2.9,-3.7" stroke="#b058c0" stroke-width="2.0" stroke-linecap="round" fill="none"/>
<path d="M1131.9,603.4l0,-5.0l-2.9,-3.7M1131.9,598.4l2.9,-3.7" stroke="#a24db4" stroke-width="2.0" stroke-linecap="round" fill="none"/>
<path d="M1140.9,603.4l0,-5.0l-2.9,-3.7M1140.9,598.4l2.9,-3.7" stroke="#9444a8" stroke-width="2.0" stroke-linecap="round" fill="none"/>
<g transform="translate(1039.0,605.3) rotate(-18)"><ellipse cx="1.6" cy="0.6" rx="8.4" ry="6.3" fill="#4058b8"/><ellipse rx="8.4" ry="6.3" fill="url(#gD1)"/></g>
<g transform="translate(1055.5,603.5) rotate(-30)"><ellipse cx="1.6" cy="0.6" rx="7.3" ry="6.2" fill="#4058b8"/><ellipse rx="7.3" ry="6.2" fill="url(#gD2)"/></g>
<g transform="translate(1067.6,606.0) rotate(-8)"><ellipse cx="1.6" cy="0.6" rx="8.4" ry="6.7" fill="#4058b8"/><ellipse rx="8.4" ry="6.7" fill="url(#gD4)"/></g>
<g transform="translate(1082.2,605.0) rotate(14)"><ellipse cx="1.6" cy="0.6" rx="8.4" ry="6.3" fill="#4058b8"/><ellipse rx="8.4" ry="6.3" fill="url(#gD1)"/></g>
<g transform="translate(1096.1,604.2) rotate(-8)"><ellipse cx="1.6" cy="0.6" rx="8.0" ry="6.0" fill="#4058b8"/><ellipse rx="8.0" ry="6.0" fill="url(#gD1)"/></g>
<g transform="translate(1111.9,605.0) rotate(5)"><ellipse cx="1.6" cy="0.6" rx="6.5" ry="6.3" fill="#4058b8"/><ellipse rx="6.5" ry="6.3" fill="url(#gD1)"/></g>
<g transform="translate(1126.2,604.9) rotate(24)"><ellipse cx="1.6" cy="0.6" rx="6.8" ry="6.1" fill="#4058b8"/><ellipse rx="6.8" ry="6.1" fill="url(#gD4)"/></g>
<g transform="translate(1137.1,603.4) rotate(5)"><ellipse cx="1.6" cy="0.6" rx="7.8" ry="7.1" fill="#4058b8"/><ellipse rx="7.8" ry="7.1" fill="url(#gD1)"/></g>
<g transform="translate(1154.9,605.7) rotate(-8)"><ellipse cx="1.6" cy="0.6" rx="7.2" ry="6.1" fill="#4058b8"/><ellipse rx="7.2" ry="6.1" fill="url(#gD4)"/></g>
<path d="M1049.0,611.4l0,-5.2l-3.0,-3.9M1049.0,606.2l3.0,-3.9" stroke="#9444a8" stroke-width="2.1" stroke-linecap="round" fill="none"/>
<path d="M1061.1,611.4l0,-5.2l-3.0,-3.9M1061.1,606.2l3.0,-3.9" stroke="#9444a8" stroke-width="2.1" stroke-linecap="round" fill="none"/>
<path d="M1076.3,611.4l0,-5.2l-3.0,-3.9M1076.3,606.2l3.0,-3.9" stroke="#9444a8" stroke-width="2.1" stroke-linecap="round" fill="none"/>
<path d="M1091.8,611.4l0,-5.2l-3.0,-3.9M1091.8,606.2l3.0,-3.9" stroke="#a24db4" stroke-width="2.1" stroke-linecap="round" fill="none"/>
<path d="M1102.5,611.4l0,-5.2l-3.0,-3.9M1102.5,606.2l3.0,-3.9" stroke="#a24db4" stroke-width="2.1" stroke-linecap="round" fill="none"/>
<path d="M1130.4,611.4l0,-5.2l-3.0,-3.9M1130.4,606.2l3.0,-3.9" stroke="#9444a8" stroke-width="2.1" stroke-linecap="round" fill="none"/>
<g transform="translate(1034.1,612.9) rotate(24)"><ellipse cx="1.6" cy="0.6" rx="7.8" ry="7.3" fill="#4058b8"/><ellipse rx="7.8" ry="7.3" fill="url(#gD4)"/></g>
<g transform="translate(1052.0,612.7) rotate(-8)"><ellipse cx="1.6" cy="0.6" rx="7.2" ry="7.5" fill="#4058b8"/><ellipse rx="7.2" ry="7.5" fill="url(#gD3)"/></g>
<g transform="translate(1065.8,615.2) rotate(32)"><ellipse cx="1.6" cy="0.6" rx="8.3" ry="7.3" fill="#4058b8"/><ellipse rx="8.3" ry="7.3" fill="url(#gD4)"/></g>
<g transform="translate(1080.3,614.7) rotate(14)"><ellipse cx="1.6" cy="0.6" rx="8.6" ry="8.0" fill="#4058b8"/><ellipse rx="8.6" ry="8.0" fill="url(#gD1)"/></g>
<g transform="translate(1098.0,612.5) rotate(32)"><ellipse cx="1.6" cy="0.6" rx="8.0" ry="7.1" fill="#4058b8"/><ellipse rx="8.0" ry="7.1" fill="url(#gD2)"/></g>
<g transform="translate(1113.6,613.2) rotate(24)"><ellipse cx="1.6" cy="0.6" rx="9.1" ry="8.0" fill="#4058b8"/><ellipse rx="9.1" ry="8.0" fill="url(#gD1)"/></g>
<g transform="translate(1126.4,613.0) rotate(32)"><ellipse cx="1.6" cy="0.6" rx="8.6" ry="8.6" fill="#4058b8"/><ellipse rx="8.6" ry="8.6" fill="url(#gD4)"/></g>
<g transform="translate(1144.6,612.8) rotate(24)"><ellipse cx="1.6" cy="0.6" rx="8.3" ry="7.8" fill="#4058b8"/><ellipse rx="8.3" ry="7.8" fill="url(#gD3)"/></g>
<g transform="translate(1160.0,613.4) rotate(14)"><ellipse cx="1.6" cy="0.6" rx="8.5" ry="7.8" fill="#4058b8"/><ellipse rx="8.5" ry="7.8" fill="url(#gD2)"/></g>
<path d="M1045.2,622.2l0,-5.6l-3.3,-4.2M1045.2,616.6l3.3,-4.2" stroke="#a24db4" stroke-width="2.3" stroke-linecap="round" fill="none"/>
<path d="M1057.4,622.2l0,-5.6l-3.3,-4.2M1057.4,616.6l3.3,-4.2" stroke="#9444a8" stroke-width="2.3" stroke-linecap="round" fill="none"/>
<path d="M1071.3,622.2l0,-5.6l-3.3,-4.2M1071.3,616.6l3.3,-4.2" stroke="#a24db4" stroke-width="2.3" stroke-linecap="round" fill="none"/>
<path d="M1091.1,622.2l0,-5.6l-3.3,-4.2M1091.1,616.6l3.3,-4.2" stroke="#9444a8" stroke-width="2.3" stroke-linecap="round" fill="none"/>
<path d="M1107.2,622.2l0,-5.6l-3.3,-4.2M1107.2,616.6l3.3,-4.2" stroke="#b058c0" stroke-width="2.3" stroke-linecap="round" fill="none"/>
<path d="M1119.5,622.2l0,-5.6l-3.3,-4.2M1119.5,616.6l3.3,-4.2" stroke="#b058c0" stroke-width="2.3" stroke-linecap="round" fill="none"/>
<path d="M1137.4,622.2l0,-5.6l-3.3,-4.2M1137.4,616.6l3.3,-4.2" stroke="#a24db4" stroke-width="2.3" stroke-linecap="round" fill="none"/>
<path d="M1147.7,622.2l0,-5.6l-3.3,-4.2M1147.7,616.6l3.3,-4.2" stroke="#9444a8" stroke-width="2.3" stroke-linecap="round" fill="none"/>
<path d="M1164.4,622.2l0,-5.6l-3.3,-4.2M1164.4,616.6l3.3,-4.2" stroke="#b058c0" stroke-width="2.3" stroke-linecap="round" fill="none"/>
<g transform="translate(1030.8,626.7) rotate(5)"><ellipse cx="1.6" cy="0.6" rx="8.6" ry="8.7" fill="#4058b8"/><ellipse rx="8.6" ry="8.7" fill="url(#gD3)"/></g>
<g transform="translate(1044.6,626.4) rotate(5)"><ellipse cx="1.6" cy="0.6" rx="9.8" ry="8.4" fill="#4058b8"/><ellipse rx="9.8" ry="8.4" fill="url(#gD2)"/></g>
<g transform="translate(1059.7,626.7) rotate(24)"><ellipse cx="1.6" cy="0.6" rx="9.6" ry="9.7" fill="#4058b8"/><ellipse rx="9.6" ry="9.7" fill="url(#gD3)"/></g>
<g transform="translate(1073.8,627.3) rotate(32)"><ellipse cx="1.6" cy="0.6" rx="8.4" ry="9.4" fill="#4058b8"/><ellipse rx="8.4" ry="9.4" fill="url(#gD1)"/></g>
<g transform="translate(1088.5,625.1) rotate(-30)"><ellipse cx="1.6" cy="0.6" rx="9.6" ry="9.6" fill="#4058b8"/><ellipse rx="9.6" ry="9.6" fill="url(#gD2)"/></g>
<g transform="translate(1103.3,625.4) rotate(5)"><ellipse cx="1.6" cy="0.6" rx="9.7" ry="9.6" fill="#4058b8"/><ellipse rx="9.7" ry="9.6" fill="url(#gD1)"/></g>
<g transform="translate(1122.0,625.0) rotate(-8)"><ellipse cx="1.6" cy="0.6" rx="8.5" ry="9.5" fill="#4058b8"/><ellipse rx="8.5" ry="9.5" fill="url(#gD2)"/></g>
<g transform="translate(1134.2,627.4) rotate(32)"><ellipse cx="1.6" cy="0.6" rx="8.2" ry="8.7" fill="#4058b8"/><ellipse rx="8.2" ry="8.7" fill="url(#gD2)"/></g>
<g transform="translate(1151.8,626.0) rotate(24)"><ellipse cx="1.6" cy="0.6" rx="8.0" ry="9.5" fill="#4058b8"/><ellipse rx="8.0" ry="9.5" fill="url(#gD4)"/></g>
<g transform="translate(1163.9,625.7) rotate(24)"><ellipse cx="1.6" cy="0.6" rx="8.4" ry="9.1" fill="#4058b8"/><ellipse rx="8.4" ry="9.1" fill="url(#gD3)"/></g>
<path d="M1038.1,635.7l0,-6.1l-3.5,-4.5M1038.1,629.6l3.5,-4.5" stroke="#b058c0" stroke-width="2.4" stroke-linecap="round" fill="none"/>
<path d="M1050.3,635.7l0,-6.1l-3.5,-4.5M1050.3,629.6l3.5,-4.5" stroke="#a24db4" stroke-width="2.4" stroke-linecap="round" fill="none"/>
<path d="M1069.1,635.7l0,-6.1l-3.5,-4.5M1069.1,629.6l3.5,-4.5" stroke="#b058c0" stroke-width="2.4" stroke-linecap="round" fill="none"/>
<path d="M1079.8,635.7l0,-6.1l-3.5,-4.5M1079.8,629.6l3.5,-4.5" stroke="#b058c0" stroke-width="2.4" stroke-linecap="round" fill="none"/>
<path d="M1098.1,635.7l0,-6.1l-3.5,-4.5M1098.1,629.6l3.5,-4.5" stroke="#b058c0" stroke-width="2.4" stroke-linecap="round" fill="none"/>
<path d="M1115.5,635.7l0,-6.1l-3.5,-4.5M1115.5,629.6l3.5,-4.5" stroke="#b058c0" stroke-width="2.4" stroke-linecap="round" fill="none"/>
<path d="M1130.5,635.7l0,-6.1l-3.5,-4.5M1130.5,629.6l3.5,-4.5" stroke="#a24db4" stroke-width="2.4" stroke-linecap="round" fill="none"/>
<path d="M1145.1,635.7l0,-6.1l-3.5,-4.5M1145.1,629.6l3.5,-4.5" stroke="#9444a8" stroke-width="2.4" stroke-linecap="round" fill="none"/>
<path d="M1158.2,635.7l0,-6.1l-3.5,-4.5M1158.2,629.6l3.5,-4.5" stroke="#9444a8" stroke-width="2.4" stroke-linecap="round" fill="none"/>
<path d="M1170.1,635.7l0,-6.1l-3.5,-4.5M1170.1,629.6l3.5,-4.5" stroke="#a24db4" stroke-width="2.4" stroke-linecap="round" fill="none"/>
<g transform="translate(1023.1,641.1) rotate(32)"><ellipse cx="1.6" cy="0.6" rx="8.5" ry="11.0" fill="#4058b8"/><ellipse rx="8.5" ry="11.0" fill="url(#gD4)"/></g>
<g transform="translate(1041.6,638.6) rotate(32)"><ellipse cx="1.6" cy="0.6" rx="9.4" ry="9.9" fill="#4058b8"/><ellipse rx="9.4" ry="9.9" fill="url(#gD2)"/></g>
<g transform="translate(1055.3,640.0) rotate(5)"><ellipse cx="1.6" cy="0.6" rx="9.2" ry="10.9" fill="#4058b8"/><ellipse rx="9.2" ry="10.9" fill="url(#gD4)"/></g>
<g transform="translate(1074.0,640.5) rotate(-8)"><ellipse cx="1.6" cy="0.6" rx="8.3" ry="10.1" fill="#4058b8"/><ellipse rx="8.3" ry="10.1" fill="url(#gD3)"/></g>
<g transform="translate(1090.4,638.5) rotate(-18)"><ellipse cx="1.6" cy="0.6" rx="9.9" ry="11.2" fill="#4058b8"/><ellipse rx="9.9" ry="11.2" fill="url(#gD1)"/></g>
<g transform="translate(1107.1,639.1) rotate(-30)"><ellipse cx="1.6" cy="0.6" rx="8.6" ry="9.8" fill="#4058b8"/><ellipse rx="8.6" ry="9.8" fill="url(#gD4)"/></g>
<g transform="translate(1122.1,640.9) rotate(-18)"><ellipse cx="1.6" cy="0.6" rx="8.9" ry="9.8" fill="#4058b8"/><ellipse rx="8.9" ry="9.8" fill="url(#gD3)"/></g>
<g transform="translate(1139.8,639.7) rotate(14)"><ellipse cx="1.6" cy="0.6" rx="9.6" ry="11.3" fill="#4058b8"/><ellipse rx="9.6" ry="11.3" fill="url(#gD4)"/></g>
<g transform="translate(1154.5,641.0) rotate(-8)"><ellipse cx="1.6" cy="0.6" rx="8.4" ry="9.8" fill="#4058b8"/><ellipse rx="8.4" ry="9.8" fill="url(#gD2)"/></g>
<g transform="translate(1170.9,639.6) rotate(5)"><ellipse cx="1.6" cy="0.6" rx="9.1" ry="11.6" fill="#4058b8"/><ellipse rx="9.1" ry="11.6" fill="url(#gD1)"/></g>
<path d="M1046.5,651.3l0,-6.4l-3.7,-4.8M1046.5,644.9l3.7,-4.8" stroke="#b058c0" stroke-width="2.6" stroke-linecap="round" fill="none"/>
<path d="M1084.3,651.3l0,-6.4l-3.7,-4.8M1084.3,644.9l3.7,-4.8" stroke="#9444a8" stroke-width="2.6" stroke-linecap="round" fill="none"/>
<path d="M1101.1,651.3l0,-6.4l-3.7,-4.8M1101.1,644.9l3.7,-4.8" stroke="#b058c0" stroke-width="2.6" stroke-linecap="round" fill="none"/>
<path d="M1130.4,651.3l0,-6.4l-3.7,-4.8M1130.4,644.9l3.7,-4.8" stroke="#b058c0" stroke-width="2.6" stroke-linecap="round" fill="none"/>
<path d="M1144.8,651.3l0,-6.4l-3.7,-4.8M1144.8,644.9l3.7,-4.8" stroke="#9444a8" stroke-width="2.6" stroke-linecap="round" fill="none"/>
<path d="M1162.3,651.3l0,-6.4l-3.7,-4.8M1162.3,644.9l3.7,-4.8" stroke="#b058c0" stroke-width="2.6" stroke-linecap="round" fill="none"/>
<path d="M1180.5,651.3l0,-6.4l-3.7,-4.8M1180.5,644.9l3.7,-4.8" stroke="#a24db4" stroke-width="2.6" stroke-linecap="round" fill="none"/>
<g transform="translate(1018.0,657.2) rotate(-8)"><ellipse cx="1.6" cy="0.6" rx="10.4" ry="13.1" fill="#4058b8"/><ellipse rx="10.4" ry="13.1" fill="url(#gD1)"/></g>
<g transform="translate(1033.4,657.3) rotate(32)"><ellipse cx="1.6" cy="0.6" rx="9.3" ry="12.9" fill="#4058b8"/><ellipse rx="9.3" ry="12.9" fill="url(#gD3)"/></g>
<g transform="translate(1053.2,658.5) rotate(32)"><ellipse cx="1.6" cy="0.6" rx="10.7" ry="13.6" fill="#4058b8"/><ellipse rx="10.7" ry="13.6" fill="url(#gD1)"/></g>
<g transform="translate(1073.3,657.7) rotate(14)"><ellipse cx="1.6" cy="0.6" rx="10.3" ry="11.8" fill="#4058b8"/><ellipse rx="10.3" ry="11.8" fill="url(#gD3)"/></g>
<g transform="translate(1091.4,657.0) rotate(5)"><ellipse cx="1.6" cy="0.6" rx="8.7" ry="11.9" fill="#4058b8"/><ellipse rx="8.7" ry="11.9" fill="url(#gD4)"/></g>
<g transform="translate(1109.3,657.8) rotate(5)"><ellipse cx="1.6" cy="0.6" rx="10.1" ry="11.9" fill="#4058b8"/><ellipse rx="10.1" ry="11.9" fill="url(#gD4)"/></g>
<g transform="translate(1125.5,656.9) rotate(-18)"><ellipse cx="1.6" cy="0.6" rx="8.4" ry="13.4" fill="#4058b8"/><ellipse rx="8.4" ry="13.4" fill="url(#gD1)"/></g>
<g transform="translate(1146.2,656.5) rotate(-18)"><ellipse cx="1.6" cy="0.6" rx="9.5" ry="12.0" fill="#4058b8"/><ellipse rx="9.5" ry="12.0" fill="url(#gD2)"/></g>
<g transform="translate(1165.5,656.6) rotate(24)"><ellipse cx="1.6" cy="0.6" rx="9.4" ry="11.3" fill="#4058b8"/><ellipse rx="9.4" ry="11.3" fill="url(#gD3)"/></g>
<g transform="translate(1182.3,658.5) rotate(24)"><ellipse cx="1.6" cy="0.6" rx="8.9" ry="11.8" fill="#4058b8"/><ellipse rx="8.9" ry="11.8" fill="url(#gD4)"/></g>
<path d="M1021.8,670.1l0,-6.7l-3.9,-5.1M1021.8,663.4l3.9,-5.1" stroke="#a24db4" stroke-width="2.7" stroke-linecap="round" fill="none"/>
<path d="M1043.4,670.1l0,-6.7l-3.9,-5.1M1043.4,663.4l3.9,-5.1" stroke="#9444a8" stroke-width="2.7" stroke-linecap="round" fill="none"/>
<path d="M1061.7,670.1l0,-6.7l-3.9,-5.1M1061.7,663.4l3.9,-5.1" stroke="#b058c0" stroke-width="2.7" stroke-linecap="round" fill="none"/>
<path d="M1083.3,670.1l0,-6.7l-3.9,-5.1M1083.3,663.4l3.9,-5.1" stroke="#a24db4" stroke-width="2.7" stroke-linecap="round" fill="none"/>
<path d="M1097.2,670.1l0,-6.7l-3.9,-5.1M1097.2,663.4l3.9,-5.1" stroke="#9444a8" stroke-width="2.7" stroke-linecap="round" fill="none"/>
<path d="M1156.9,670.1l0,-6.7l-3.9,-5.1M1156.9,663.4l3.9,-5.1" stroke="#a24db4" stroke-width="2.7" stroke-linecap="round" fill="none"/>
<path d="M1170.9,670.1l0,-6.7l-3.9,-5.1M1170.9,663.4l3.9,-5.1" stroke="#a24db4" stroke-width="2.7" stroke-linecap="round" fill="none"/>
<path d="M1193.6,670.1l0,-6.7l-3.9,-5.1M1193.6,663.4l3.9,-5.1" stroke="#9444a8" stroke-width="2.7" stroke-linecap="round" fill="none"/>
<g transform="translate(1004.0,677.4) rotate(-6)"><ellipse cx="1.6" cy="0.6" rx="8.9" ry="15.5" fill="#4058b8"/><ellipse rx="8.9" ry="15.5" fill="url(#gD4)"/></g>
<g transform="translate(1021.6,677.6) rotate(0)"><ellipse cx="1.6" cy="0.6" rx="6.8" ry="16.0" fill="#4058b8"/><ellipse rx="6.8" ry="16.0" fill="url(#gD2)"/></g>
<g transform="translate(1041.3,676.4) rotate(-12)"><ellipse cx="1.6" cy="0.6" rx="6.6" ry="16.5" fill="#4058b8"/><ellipse rx="6.6" ry="16.5" fill="url(#gD1)"/></g>
<g transform="translate(1059.1,676.2) rotate(12)"><ellipse cx="1.6" cy="0.6" rx="10.5" ry="15.5" fill="#4058b8"/><ellipse rx="10.5" ry="15.5" fill="url(#gD3)"/></g>
<g transform="translate(1074.0,675.6) rotate(6)"><ellipse cx="1.6" cy="0.6" rx="9.6" ry="14.4" fill="#4058b8"/><ellipse rx="9.6" ry="14.4" fill="url(#gD4)"/></g>
<g transform="translate(1092.3,677.3) rotate(-18)"><ellipse cx="1.6" cy="0.6" rx="9.8" ry="14.7" fill="#4058b8"/><ellipse rx="9.8" ry="14.7" fill="url(#gD4)"/></g>
<g transform="translate(1110.0,677.8) rotate(0)"><ellipse cx="1.6" cy="0.6" rx="9.4" ry="16.3" fill="#4058b8"/><ellipse rx="9.4" ry="16.3" fill="url(#gD2)"/></g>
<g transform="translate(1124.4,677.9) rotate(-6)"><ellipse cx="1.6" cy="0.6" rx="6.8" ry="15.0" fill="#4058b8"/><ellipse rx="6.8" ry="15.0" fill="url(#gD4)"/></g>
<g transform="translate(1141.7,676.0) rotate(-6)"><ellipse cx="1.6" cy="0.6" rx="10.3" ry="16.6" fill="#4058b8"/><ellipse rx="10.3" ry="16.6" fill="url(#gD1)"/></g>
<g transform="translate(1158.8,677.4) rotate(-12)"><ellipse cx="1.6" cy="0.6" rx="7.3" ry="14.3" fill="#4058b8"/><ellipse rx="7.3" ry="14.3" fill="url(#gD2)"/></g>
<g transform="translate(1177.4,675.8) rotate(-12)"><ellipse cx="1.6" cy="0.6" rx="6.6" ry="15.8" fill="#4058b8"/><ellipse rx="6.6" ry="15.8" fill="url(#gD2)"/></g>
<g transform="translate(1194.1,677.9) rotate(-18)"><ellipse cx="1.6" cy="0.6" rx="7.9" ry="16.1" fill="#4058b8"/><ellipse rx="7.9" ry="16.1" fill="url(#gD4)"/></g>
<line x1="1003" y1="671.2" x2="1002.6" y2="691.7" stroke="#b060c8" stroke-width="2.8" stroke-linecap="round"/><line x1="1016" y1="671.4" x2="1016.6" y2="688.1" stroke="#b060c8" stroke-width="2.8" stroke-linecap="round"/><line x1="1098" y1="672.0" x2="1098.8" y2="691.1" stroke="#b060c8" stroke-width="2.8" stroke-linecap="round"/><line x1="1124" y1="672.3" x2="1123.4" y2="691.7" stroke="#b060c8" stroke-width="2.8" stroke-linecap="round"/><line x1="1176" y1="670.3" x2="1176.9" y2="691.1" stroke="#b060c8" stroke-width="2.8" stroke-linecap="round"/><line x1="1183" y1="672.9" x2="1183.1" y2="688.7" stroke="#b060c8" stroke-width="2.8" stroke-linecap="round"/><path d="M1180.0,688.0l0,-9.0l-5.2,-6.8M1180.0,679.0l5.2,-6.8" stroke="#a855c0" stroke-width="3.3" stroke-linecap="round" fill="none"/>
<path d="M1012.0,686.0l0,-7.8l-4.5,-5.9M1012.0,678.2l4.5,-5.9" stroke="#a855c0" stroke-width="2.9" stroke-linecap="round" fill="none"/>
</g>
<polygon points="303.0,717.0 413.0,717.0 472.6,816.5 241.0,816.5" fill="#4e92a6" />
<polygon points="241.0,816.5 472.6,816.5 470.6,829.0 243.0,829.0" fill="#5aa2b0" />
<use href="#zhsPile" transform="translate(-737.9,117)"/>
<path d="M552,548 Q572,566 572,595" fill="none" stroke="#2f8cc8" stroke-width="2.8" stroke-dasharray="5 3"/>
<polygon points="0,0 -15,-6.5 -15,6.5" fill="#2f8cc8" transform="translate(572,613) rotate(90)"/>
<path d="M800,546 Q826,566 828,590" fill="none" stroke="#2f8cc8" stroke-width="2.8" stroke-dasharray="5 3"/>
<polygon points="0,0 -15,-6.5 -15,6.5" fill="#2f8cc8" transform="translate(830,607) rotate(84)"/>
<path d="M874,597 Q872,560 886,548" fill="none" stroke="#2f8cc8" stroke-width="2.8" stroke-dasharray="5 3"/>
<polygon points="0,0 -15,-6.5 -15,6.5" fill="#2f8cc8" transform="translate(897,536) rotate(-48)"/>
<path d="M507,656 Q490,690 455,686" fill="none" stroke="#e050b0" stroke-width="2.8" stroke-dasharray="5 3"/>
<polygon points="0,0 -17,-6.5 -17,6.5" fill="#e050b0" transform="translate(424,680) rotate(190)"/>
<path d="M600,742 Q584,712 592,690" fill="none" stroke="#e050b0" stroke-width="2.8" stroke-dasharray="5 3"/>
<polygon points="0,0 -17,-6.5 -17,6.5" fill="#e050b0" transform="translate(597,666) rotate(-80)"/>
<path d="M802,663 Q806,700 796,728" fill="none" stroke="#e050b0" stroke-width="2.8" stroke-dasharray="5 3"/>
<polygon points="0,0 -17,-6.5 -17,6.5" fill="#e050b0" transform="translate(786,746) rotate(118)"/>
<path d="M879,766 Q874,720 888,690" fill="none" stroke="#e050b0" stroke-width="2.8" stroke-dasharray="5 3"/>
<polygon points="0,0 -17,-6.5 -17,6.5" fill="#e050b0" transform="translate(899,674) rotate(-58)"/>
<path d="M1139,681 Q1166,710 1140,742" fill="none" stroke="#e050b0" stroke-width="2.8" stroke-dasharray="5 3"/>
<polygon points="0,0 -17,-6.5 -17,6.5" fill="#e050b0" transform="translate(1126,756) rotate(137)"/>
<circle cx="545.0" cy="544.5" r="6.6" fill="url(#gMn)"/>
<circle cx="567.0" cy="552.0" r="6.6" fill="url(#gMn)"/>
<circle cx="553.5" cy="568.0" r="6.6" fill="url(#gMn)"/>
<circle cx="577.0" cy="576.5" r="6.6" fill="url(#gMn)"/>
<circle cx="557.0" cy="591.0" r="6.6" fill="url(#gMn)"/>
<circle cx="563.5" cy="616.5" r="6.6" fill="url(#gMn)"/>
<circle cx="625.5" cy="574.5" r="6.0" fill="url(#gZn)"/>
<circle cx="629.5" cy="598.0" r="6.0" fill="url(#gZn)"/>
<circle cx="643.5" cy="615.0" r="6.0" fill="url(#gZn)"/>
<circle cx="446.5" cy="692.5" r="6.6" fill="url(#gMn)"/>
<circle cx="460.0" cy="674.5" r="6.6" fill="url(#gMn)"/>
<circle cx="480.0" cy="686.0" r="6.6" fill="url(#gMn)"/>
<circle cx="491.0" cy="657.0" r="6.6" fill="url(#gMn)"/>
<circle cx="498.5" cy="681.0" r="6.6" fill="url(#gMn)"/>
<circle cx="518.5" cy="653.5" r="6.6" fill="url(#gMn)"/>
<circle cx="527.5" cy="670.0" r="6.6" fill="url(#gMn)"/>
<circle cx="585.0" cy="662.0" r="5.1" fill="url(#gH)"/>
<circle cx="608.0" cy="667.5" r="5.1" fill="url(#gH)"/>
<circle cx="578.0" cy="684.0" r="5.1" fill="url(#gH)"/>
<circle cx="600.0" cy="696.5" r="5.1" fill="url(#gH)"/>
<circle cx="578.0" cy="707.5" r="5.1" fill="url(#gH)"/>
<circle cx="599.5" cy="720.0" r="5.1" fill="url(#gH)"/>
<circle cx="586.0" cy="734.5" r="5.1" fill="url(#gH)"/>
<circle cx="793.5" cy="541.5" r="5.1" fill="url(#gH)"/>
<circle cx="816.0" cy="546.5" r="5.1" fill="url(#gH)"/>
<circle cx="805.5" cy="565.0" r="5.1" fill="url(#gH)"/>
<circle cx="829.0" cy="567.0" r="5.1" fill="url(#gH)"/>
<circle cx="815.0" cy="585.0" r="5.1" fill="url(#gH)"/>
<circle cx="822.0" cy="610.0" r="5.1" fill="url(#gH)"/>
<circle cx="873.0" cy="539.0" r="6.6" fill="url(#gMn)"/>
<circle cx="891.0" cy="558.5" r="6.6" fill="url(#gMn)"/>
<circle cx="865.5" cy="565.0" r="6.6" fill="url(#gMn)"/>
<circle cx="883.5" cy="581.5" r="6.6" fill="url(#gMn)"/>
<circle cx="866.5" cy="596.0" r="6.6" fill="url(#gMn)"/>
<circle cx="895.0" cy="602.0" r="6.6" fill="url(#gMn)"/>
<circle cx="879.5" cy="609.0" r="6.6" fill="url(#gMn)"/>
<circle cx="931.5" cy="610.0" r="6.0" fill="url(#gZn)"/>
<circle cx="912.0" cy="624.5" r="6.0" fill="url(#gZn)"/>
<circle cx="885.5" cy="633.5" r="6.0" fill="url(#gZn)"/>
<circle cx="810.0" cy="653.5" r="5.1" fill="url(#gH)"/>
<circle cx="794.5" cy="664.5" r="5.1" fill="url(#gH)"/>
<circle cx="813.5" cy="676.5" r="5.1" fill="url(#gH)"/>
<circle cx="794.0" cy="689.0" r="5.1" fill="url(#gH)"/>
<circle cx="813.5" cy="700.5" r="5.1" fill="url(#gH)"/>
<circle cx="790.0" cy="711.5" r="5.1" fill="url(#gH)"/>
<circle cx="804.0" cy="725.5" r="5.1" fill="url(#gH)"/>
<circle cx="886.0" cy="653.0" r="6.6" fill="url(#gMn)"/>
<circle cx="911.5" cy="663.0" r="6.6" fill="url(#gMn)"/>
<circle cx="872.0" cy="673.0" r="6.6" fill="url(#gMn)"/>
<circle cx="900.5" cy="695.0" r="6.6" fill="url(#gMn)"/>
<circle cx="870.0" cy="705.5" r="6.6" fill="url(#gMn)"/>
<circle cx="889.0" cy="720.5" r="6.6" fill="url(#gMn)"/>
<circle cx="865.0" cy="736.5" r="6.6" fill="url(#gMn)"/>
<circle cx="889.0" cy="756.5" r="6.6" fill="url(#gMn)"/>
<circle cx="1059.0" cy="679.5" r="6.0" fill="url(#gZn)"/>
<circle cx="1034.5" cy="689.5" r="6.0" fill="url(#gZn)"/>
<circle cx="1034.0" cy="714.0" r="6.0" fill="url(#gZn)"/>
<circle cx="1126.0" cy="662.0" r="5.1" fill="url(#gH)"/>
<circle cx="1144.5" cy="668.5" r="5.1" fill="url(#gH)"/>
<circle cx="1131.5" cy="684.0" r="5.1" fill="url(#gH)"/>
<circle cx="1154.0" cy="686.0" r="5.1" fill="url(#gH)"/>
<circle cx="1143.0" cy="702.0" r="5.1" fill="url(#gH)"/>
<circle cx="1166.0" cy="712.0" r="5.1" fill="url(#gH)"/>
<circle cx="1143.0" cy="722.5" r="5.1" fill="url(#gH)"/>
<circle cx="1151.0" cy="742.5" r="5.1" fill="url(#gH)"/>
<circle cx="1122.0" cy="763.0" r="5.1" fill="url(#gH)"/>
<text x="270" y="452.5" font-size="21" fill="#3a8cc8" text-anchor="start" font-weight="bold" textLength="184" lengthAdjust="spacing" >Flexible substrate</text>
<text x="471" y="472" font-size="21.6" fill="#3a8cc8" text-anchor="start" font-weight="bold" textLength="76" lengthAdjust="spacing" >Charge</text>
<text x="676" y="473" font-size="21.6" fill="#3a8cc8" text-anchor="start" font-weight="bold" textLength="103" lengthAdjust="spacing" >Discharge</text>
<text x="931" y="472.5" font-size="21.6" fill="#3a8cc8" text-anchor="start" font-weight="bold" textLength="103" lengthAdjust="spacing" >Discharge</text>
<text x="481" y="818" font-size="21.6" fill="#9a4a8a" text-anchor="start" font-weight="bold" textLength="103" lengthAdjust="spacing" >Discharge</text>
<text x="686.5" y="821.5" font-size="21.6" fill="#9a4a8a" text-anchor="start" font-weight="bold" textLength="76" lengthAdjust="spacing" >Charge</text>
<text x="942" y="825" font-size="21.6" fill="#9a4a8a" text-anchor="start" font-weight="bold" textLength="76" lengthAdjust="spacing" >Charge</text>
<text x="502" y="593" font-size="30.6" fill="#c8388c" text-anchor="start" font-weight="bold" >A</text>
<text x="740.5" y="593.5" font-size="30.6" fill="#c03c98" text-anchor="start" font-weight="bold" >B</text>
<text x="985" y="594.5" font-size="30.6" fill="#a244b4" text-anchor="start" font-weight="bold" >C</text>
<text x="913" y="734.3" font-size="30.6" fill="#12a090" text-anchor="start" font-weight="bold" >D</text>
<text x="664.5" y="734.3" font-size="30.6" fill="#2a80c4" text-anchor="start" font-weight="bold" >E</text>
<text x="442" y="758.5" font-size="30.6" fill="#a244b4" text-anchor="start" font-weight="bold" >F</text>
<text x="557" y="514" font-size="16.3" fill="#b07fe6" text-anchor="start" font-weight="bold" letter-spacing="0.8">Mn<tspan dy="-5" font-size="9">2+</tspan></text>
<text x="575" y="528" font-size="16.3" fill="#b07fe6" text-anchor="middle" font-weight="bold" textLength="82" lengthAdjust="spacing" >Deposition</text>
<text x="620" y="549.5" font-size="16.3" fill="#52aee8" text-anchor="start" font-weight="bold" letter-spacing="0.8">Zn<tspan dy="-5" font-size="9">2+</tspan></text>
<text x="637.5" y="565.4" font-size="16.3" fill="#52aee8" text-anchor="middle" font-weight="bold" textLength="87" lengthAdjust="spacing" >Adsorption</text>
<text x="376" y="660" font-size="16.3" fill="#b07fe6" text-anchor="start" font-weight="bold" letter-spacing="0.8">MnO<tspan dy="3" font-size="8">2</tspan></text>
<text x="396.5" y="674.5" font-size="16.3" fill="#b07fe6" text-anchor="middle" font-weight="bold" textLength="87" lengthAdjust="spacing" >Dissolution</text>
<text x="608" y="753" font-size="16.3" fill="#2aa8a0" text-anchor="middle" font-weight="bold" textLength="70" lengthAdjust="spacing" >Insertion</text>
<text x="598" y="771.7" font-size="16.3" fill="#2aa8a0" text-anchor="start" font-weight="bold" >H<tspan dy="-5" font-size="8">+</tspan></text>
<text x="798" y="512.8" font-size="16.3" fill="#2aa8a0" text-anchor="start" font-weight="bold" >H<tspan dy="-5" font-size="8">+</tspan></text>
<text x="800" y="528.7" font-size="16.3" fill="#2aa8a0" text-anchor="middle" font-weight="bold" textLength="70" lengthAdjust="spacing" >Insertion</text>
<text x="868" y="513.6" font-size="16.3" fill="#b07fe6" text-anchor="start" font-weight="bold" letter-spacing="0.8">MnO<tspan dy="3" font-size="8">2</tspan></text>
<text x="889" y="528.7" font-size="16.3" fill="#b07fe6" text-anchor="middle" font-weight="bold" textLength="87" lengthAdjust="spacing" >Dissolution</text>
<text x="950" y="615.2" font-size="16.3" fill="#52aee8" text-anchor="start" font-weight="bold" letter-spacing="0.8">Zn<tspan dy="-5" font-size="8">2+</tspan></text>
<text x="966" y="629.3" font-size="15.8" fill="#52aee8" text-anchor="middle" font-weight="bold" textLength="98" lengthAdjust="spacing" >De-adsorption</text>
<text x="789" y="763.2" font-size="16.3" fill="#2aa8a0" text-anchor="start" font-weight="bold" >H<tspan dy="-5" font-size="8">+</tspan></text>
<text x="797" y="773.6" font-size="16.3" fill="#2aa8a0" text-anchor="middle" font-weight="bold" textLength="95" lengthAdjust="spacing" >De-insertion</text>
<text x="866" y="783" font-size="16.3" fill="#b07fe6" text-anchor="start" font-weight="bold" letter-spacing="0.8">Mn<tspan dy="-5" font-size="9">2+</tspan></text>
<text x="885" y="797.5" font-size="16.3" fill="#b07fe6" text-anchor="middle" font-weight="bold" textLength="83" lengthAdjust="spacing" >Deposition</text>
<text x="1059.5" y="727.9" font-size="16.3" fill="#52aee8" text-anchor="middle" font-weight="bold" textLength="34" lengthAdjust="spacing" >ZHS</text>
<text x="1058.5" y="743.5" font-size="16.3" fill="#52aee8" text-anchor="middle" font-weight="bold" textLength="87" lengthAdjust="spacing" >Dissolution</text>
<text x="1134" y="780.5" font-size="16.3" fill="#2aa8a0" text-anchor="start" font-weight="bold" >H<tspan dy="-5" font-size="8">+</tspan></text>
<text x="1124" y="793" font-size="16.3" fill="#2aa8a0" text-anchor="middle" font-weight="bold" textLength="95" lengthAdjust="spacing" >De-insertion</text>
<text x="1076" y="439.8" font-size="15.4" fill="#b07fe6" text-anchor="start" font-weight="bold" letter-spacing="0.8">MnO<tspan dy="3" font-size="8">2</tspan></text>
<text x="1079" y="486.5" font-size="17" fill="#4a5ccc" text-anchor="start" font-weight="bold" >ZHS</text>
<text x="1081" y="520.5" font-size="16" fill="#b07fe6" text-anchor="start" font-weight="bold" letter-spacing="0.8">Mn<tspan dy="-6" font-size="9">2+</tspan></text>
<text x="1081" y="552" font-size="16" fill="#52aee8" text-anchor="start" font-weight="bold" letter-spacing="0.8">Zn<tspan dy="-6" font-size="9">2+</tspan></text>
<text x="1083" y="578.5" font-size="15" fill="#2aa8a0" text-anchor="start" font-weight="bold" >H<tspan dy="-6" font-size="9">+</tspan></text>
<circle cx="1149.5" cy="514.5" r="6.3" fill="url(#gMn)"/>
<circle cx="1149.5" cy="547.5" r="6" fill="url(#gZn)"/>
<circle cx="1149.5" cy="573.0" r="5" fill="url(#gH)"/>
<g stroke="#c47ae0" stroke-width="7.6" stroke-linecap="round" fill="none"><path d="M1131.5,447.5 L1158.5,447.5"/><path d="M1136,434.5 L1157.5,439.5"/><path d="M1141.5,421.5 L1142,436"/><path d="M1160,423 L1154.5,438"/></g>
<path d="M1139,462 L1149,456.5 L1156,468 L1158,487 L1162,495 L1149,499 L1145,487 Z" fill="#a4c4fa" opacity="0.9"/><path d="M1142,462 L1149,456.5 L1155.5,468 L1157,488 L1154,492 L1148,482 Z" fill="#4a64e4"/>

</svg>
</body></html>
